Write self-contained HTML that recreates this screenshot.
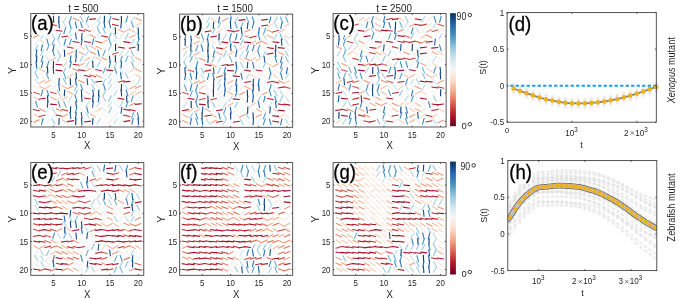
<!DOCTYPE html><html><head><meta charset="utf-8"><style>html,body{margin:0;padding:0;background:#fff;width:685px;height:298px;overflow:hidden}svg{display:block;filter:blur(0.35px)}</style></head><body><svg width="685" height="298" viewBox="0 0 685 298" font-family='"Liberation Sans", sans-serif' fill="#262626"><rect width="685" height="298" fill="#fff"/><g stroke-width="1.12" stroke-linecap="butt"><line x1="33.94" y1="21.32" x2="39.19" y2="16.84" stroke="#fae8de"/><line x1="44.03" y1="21.91" x2="39.68" y2="16.55" stroke="#deebf2"/><line x1="49.82" y1="21.82" x2="45.46" y2="16.46" stroke="#deebf2"/><line x1="53.70" y1="22.81" x2="53.43" y2="15.90" stroke="#0c3e74"/><line x1="58.69" y1="22.79" x2="58.99" y2="15.88" stroke="#0d3f76"/><line x1="62.93" y1="22.23" x2="66.68" y2="16.43" stroke="#bcdaea"/><line x1="69.19" y1="22.74" x2="71.41" y2="16.19" stroke="#4a97c5"/><line x1="79.11" y1="20.85" x2="72.82" y2="18.00" stroke="#eb9072"/><line x1="83.43" y1="22.17" x2="80.12" y2="16.10" stroke="#9ecbe1"/><line x1="86.39" y1="22.42" x2="88.59" y2="15.86" stroke="#4896c5"/><line x1="89.30" y1="19.42" x2="96.16" y2="18.75" stroke="#950f26"/><line x1="97.00" y1="22.29" x2="100.61" y2="16.39" stroke="#b2d5e7"/><line x1="104.29" y1="22.70" x2="104.46" y2="15.78" stroke="#0a396d"/><line x1="108.93" y1="22.78" x2="110.98" y2="16.17" stroke="#408fc1"/><line x1="119.01" y1="19.87" x2="112.27" y2="18.45" stroke="#bd2f36"/><line x1="121.52" y1="22.84" x2="121.33" y2="15.92" stroke="#0a396e"/><line x1="125.82" y1="22.33" x2="127.84" y2="15.72" stroke="#408ec1"/><line x1="130.81" y1="22.31" x2="134.66" y2="16.57" stroke="#c3deec"/><line x1="141.42" y1="20.72" x2="135.24" y2="17.66" stroke="#f29f7e"/><line x1="39.27" y1="27.24" x2="34.04" y2="22.73" stroke="#faeae0"/><line x1="44.38" y1="27.40" x2="39.81" y2="22.23" stroke="#e9f0f4"/><line x1="50.12" y1="27.69" x2="45.74" y2="22.35" stroke="#e0ecf3"/><line x1="56.93" y1="25.85" x2="50.27" y2="24.08" stroke="#c94741"/><line x1="59.41" y1="28.38" x2="58.78" y2="21.49" stroke="#154f8c"/><line x1="66.54" y1="27.61" x2="62.69" y2="21.87" stroke="#c2deec"/><line x1="71.08" y1="28.38" x2="69.21" y2="21.72" stroke="#3b88bd"/><line x1="76.73" y1="28.30" x2="75.28" y2="21.54" stroke="#2d76b4"/><line x1="82.43" y1="28.20" x2="80.44" y2="21.57" stroke="#3e8dc0"/><line x1="89.31" y1="27.69" x2="85.61" y2="21.85" stroke="#b8d8e9"/><line x1="90.20" y1="27.09" x2="95.31" y2="22.45" stroke="#f9eee8"/><line x1="97.06" y1="27.94" x2="100.30" y2="21.83" stroke="#99c9e0"/><line x1="105.02" y1="28.41" x2="103.98" y2="21.57" stroke="#2064aa"/><line x1="110.64" y1="28.05" x2="108.96" y2="21.34" stroke="#347fb9"/><line x1="118.72" y1="25.75" x2="111.97" y2="24.36" stroke="#bc2d35"/><line x1="120.79" y1="28.38" x2="121.37" y2="21.49" stroke="#144d89"/><line x1="128.85" y1="27.66" x2="124.45" y2="22.33" stroke="#e0ecf3"/><line x1="133.69" y1="28.01" x2="131.19" y2="21.57" stroke="#60a5cd"/><line x1="135.01" y1="26.62" x2="140.83" y2="22.91" stroke="#f9c5ab"/><line x1="38.97" y1="32.83" x2="33.78" y2="28.29" stroke="#faebe2"/><line x1="39.45" y1="33.27" x2="44.39" y2="28.44" stroke="#f8f5f3"/><line x1="49.93" y1="32.92" x2="45.09" y2="28.00" stroke="#f5f6f7"/><line x1="50.71" y1="32.96" x2="55.78" y2="28.27" stroke="#f9efea"/><line x1="62.44" y1="31.31" x2="55.63" y2="30.28" stroke="#ae172a"/><line x1="63.78" y1="34.06" x2="65.71" y2="27.42" stroke="#3c8abe"/><line x1="68.98" y1="33.44" x2="72.16" y2="27.30" stroke="#95c7df"/><line x1="78.19" y1="33.27" x2="73.72" y2="28.01" stroke="#e4eef3"/><line x1="85.13" y1="31.21" x2="78.37" y2="29.85" stroke="#bb2a34"/><line x1="90.81" y1="31.42" x2="84.18" y2="29.54" stroke="#cd4e44"/><line x1="95.64" y1="32.64" x2="90.30" y2="28.27" stroke="#fbe5d8"/><line x1="100.18" y1="33.98" x2="97.40" y2="27.65" stroke="#75b3d4"/><line x1="105.65" y1="33.64" x2="102.62" y2="27.42" stroke="#89c0db"/><line x1="112.28" y1="33.05" x2="107.02" y2="28.57" stroke="#fae8de"/><line x1="115.60" y1="34.25" x2="115.21" y2="27.34" stroke="#0f437c"/><line x1="124.29" y1="32.43" x2="118.22" y2="29.14" stroke="#f5ad8c"/><line x1="123.83" y1="32.12" x2="129.85" y2="28.75" stroke="#f6b293"/><line x1="135.24" y1="32.48" x2="129.31" y2="28.94" stroke="#f8bc9f"/><line x1="138.60" y1="34.27" x2="138.03" y2="27.38" stroke="#144c89"/><line x1="33.34" y1="37.67" x2="39.59" y2="34.77" stroke="#ed9475"/><line x1="40.35" y1="39.35" x2="44.05" y2="33.52" stroke="#b9d9e9"/><line x1="45.04" y1="38.26" x2="50.34" y2="33.84" stroke="#fbe7db"/><line x1="55.16" y1="39.25" x2="51.64" y2="33.31" stroke="#acd2e6"/><line x1="57.89" y1="39.47" x2="60.65" y2="33.13" stroke="#74b2d4"/><line x1="61.43" y1="37.07" x2="68.23" y2="35.97" stroke="#b2192b"/><line x1="68.43" y1="39.34" x2="72.31" y2="33.63" stroke="#c5dfed"/><line x1="76.38" y1="39.50" x2="75.44" y2="32.65" stroke="#1d5fa2"/><line x1="81.49" y1="39.77" x2="82.13" y2="32.88" stroke="#16508e"/><line x1="84.52" y1="38.57" x2="89.86" y2="34.20" stroke="#fbe5d8"/><line x1="96.03" y1="37.70" x2="89.82" y2="34.68" stroke="#f09c7b"/><line x1="100.73" y1="38.78" x2="96.31" y2="33.47" stroke="#e1edf3"/><line x1="107.87" y1="37.10" x2="101.12" y2="35.69" stroke="#bd2e35"/><line x1="108.40" y1="39.65" x2="111.07" y2="33.27" stroke="#6daed1"/><line x1="117.06" y1="39.05" x2="113.70" y2="33.01" stroke="#a2cde2"/><line x1="119.15" y1="39.20" x2="123.50" y2="33.84" stroke="#deebf2"/><line x1="125.15" y1="39.45" x2="128.38" y2="33.34" stroke="#99c8e0"/><line x1="129.51" y1="37.86" x2="135.64" y2="34.70" stroke="#f4a683"/><line x1="138.80" y1="39.59" x2="137.94" y2="32.73" stroke="#1b5b9d"/><line x1="34.40" y1="44.72" x2="38.89" y2="39.47" stroke="#e5eef4"/><line x1="45.11" y1="43.60" x2="39.31" y2="39.87" stroke="#fac7ae"/><line x1="48.61" y1="45.32" x2="46.73" y2="38.66" stroke="#3b88bd"/><line x1="51.79" y1="45.27" x2="54.56" y2="38.94" stroke="#75b3d4"/><line x1="60.80" y1="44.85" x2="56.86" y2="39.18" stroke="#c9e1ee"/><line x1="64.01" y1="45.46" x2="65.77" y2="38.77" stroke="#3783bb"/><line x1="69.30" y1="45.11" x2="71.59" y2="38.59" stroke="#509bc7"/><line x1="79.47" y1="42.53" x2="72.64" y2="41.57" stroke="#aa152a"/><line x1="81.15" y1="45.34" x2="82.21" y2="38.50" stroke="#2065ab"/><line x1="90.82" y1="42.54" x2="84.00" y2="41.48" stroke="#b0172b"/><line x1="92.02" y1="45.06" x2="93.80" y2="38.38" stroke="#3784bb"/><line x1="101.76" y1="42.88" x2="95.14" y2="40.94" stroke="#cf5347"/><line x1="101.17" y1="43.60" x2="107.11" y2="40.09" stroke="#f8ba9d"/><line x1="111.24" y1="45.28" x2="108.77" y2="38.82" stroke="#5da4cc"/><line x1="117.53" y1="44.76" x2="113.60" y2="39.08" stroke="#c9e1ee"/><line x1="118.90" y1="44.29" x2="123.81" y2="39.44" stroke="#f7f6f5"/><line x1="130.26" y1="42.61" x2="123.44" y2="41.61" stroke="#ac162a"/><line x1="130.98" y1="44.76" x2="134.44" y2="38.78" stroke="#a8d0e4"/><line x1="136.92" y1="45.05" x2="139.30" y2="38.56" stroke="#569fc9"/><line x1="34.95" y1="50.84" x2="38.15" y2="44.71" stroke="#97c7df"/><line x1="41.10" y1="51.16" x2="42.62" y2="44.42" stroke="#2f79b6"/><line x1="46.64" y1="50.82" x2="49.26" y2="44.43" stroke="#6aabd0"/><line x1="53.06" y1="51.03" x2="54.14" y2="44.19" stroke="#2166ac"/><line x1="56.53" y1="50.16" x2="61.21" y2="45.08" stroke="#edf2f5"/><line x1="62.45" y1="50.44" x2="66.83" y2="45.10" stroke="#dfecf3"/><line x1="73.65" y1="48.28" x2="66.89" y2="46.91" stroke="#bc2c34"/><line x1="78.66" y1="49.73" x2="73.46" y2="45.19" stroke="#faebe2"/><line x1="84.71" y1="49.55" x2="79.01" y2="45.66" stroke="#fbd0b9"/><line x1="88.60" y1="50.96" x2="85.52" y2="44.77" stroke="#8ec2dd"/><line x1="96.10" y1="49.54" x2="90.12" y2="46.11" stroke="#f7b597"/><line x1="101.75" y1="49.11" x2="95.60" y2="46.00" stroke="#f3a380"/><line x1="101.95" y1="49.88" x2="106.82" y2="44.99" stroke="#f7f7f7"/><line x1="108.24" y1="50.70" x2="111.60" y2="44.66" stroke="#a1cde2"/><line x1="115.63" y1="51.02" x2="115.48" y2="44.11" stroke="#09386b"/><line x1="124.77" y1="48.10" x2="117.96" y2="47.02" stroke="#b1182b"/><line x1="124.28" y1="49.81" x2="129.57" y2="45.38" stroke="#fae7dc"/><line x1="128.90" y1="48.39" x2="135.66" y2="47.05" stroke="#bb2933"/><line x1="138.07" y1="51.04" x2="138.47" y2="44.14" stroke="#0f447d"/><line x1="35.93" y1="56.49" x2="36.88" y2="49.64" stroke="#1e60a3"/><line x1="40.12" y1="56.08" x2="43.60" y2="50.11" stroke="#a9d1e5"/><line x1="45.32" y1="55.46" x2="50.47" y2="50.87" stroke="#f9ece5"/><line x1="54.42" y1="56.40" x2="52.48" y2="49.76" stroke="#3d8bbf"/><line x1="60.73" y1="56.55" x2="57.49" y2="50.44" stroke="#99c9e0"/><line x1="64.71" y1="56.71" x2="64.40" y2="49.80" stroke="#0d3f76"/><line x1="67.26" y1="54.60" x2="73.44" y2="51.55" stroke="#f19e7d"/><line x1="75.88" y1="56.55" x2="76.38" y2="49.65" stroke="#124984"/><line x1="84.78" y1="54.88" x2="78.63" y2="51.76" stroke="#f3a481"/><line x1="85.34" y1="56.07" x2="88.96" y2="50.18" stroke="#b2d5e7"/><line x1="96.16" y1="54.55" x2="89.92" y2="51.61" stroke="#ee9677"/><line x1="99.40" y1="56.52" x2="97.85" y2="49.78" stroke="#307ab6"/><line x1="102.84" y1="56.38" x2="105.37" y2="49.95" stroke="#62a7ce"/><line x1="107.38" y1="55.78" x2="112.33" y2="50.97" stroke="#f8f4f2"/><line x1="112.11" y1="54.35" x2="118.66" y2="52.19" stroke="#d6614e"/><line x1="119.29" y1="56.05" x2="123.10" y2="50.28" stroke="#c0dceb"/><line x1="124.76" y1="56.03" x2="128.69" y2="50.34" stroke="#c8e0ed"/><line x1="133.92" y1="56.46" x2="130.89" y2="50.24" stroke="#8ac0db"/><line x1="135.83" y1="55.44" x2="140.91" y2="50.76" stroke="#f9f0ea"/><line x1="36.59" y1="62.35" x2="36.78" y2="55.44" stroke="#0a396e"/><line x1="41.09" y1="62.10" x2="43.07" y2="55.47" stroke="#3e8cc0"/><line x1="49.62" y1="61.76" x2="45.68" y2="56.09" stroke="#c9e1ee"/><line x1="50.40" y1="60.76" x2="56.43" y2="57.41" stroke="#f6b191"/><line x1="57.25" y1="61.88" x2="60.60" y2="55.83" stroke="#a0cce2"/><line x1="67.29" y1="61.04" x2="62.02" y2="56.59" stroke="#fae8dc"/><line x1="70.02" y1="62.38" x2="70.99" y2="55.53" stroke="#1e60a4"/><line x1="75.48" y1="62.43" x2="76.39" y2="55.57" stroke="#1d5ea0"/><line x1="79.84" y1="61.79" x2="83.06" y2="55.67" stroke="#98c8e0"/><line x1="84.23" y1="60.87" x2="90.26" y2="57.53" stroke="#f6b191"/><line x1="90.88" y1="62.06" x2="94.72" y2="56.31" stroke="#c2ddec"/><line x1="101.45" y1="60.73" x2="95.57" y2="57.12" stroke="#f8c0a4"/><line x1="107.32" y1="60.27" x2="101.13" y2="57.24" stroke="#f19d7c"/><line x1="110.10" y1="62.64" x2="109.46" y2="55.76" stroke="#16508e"/><line x1="115.51" y1="62.17" x2="115.31" y2="55.26" stroke="#0a3a6f"/><line x1="120.03" y1="62.10" x2="122.32" y2="55.57" stroke="#4f9bc7"/><line x1="125.45" y1="61.91" x2="128.21" y2="55.57" stroke="#74b2d4"/><line x1="134.27" y1="61.90" x2="130.72" y2="55.98" stroke="#aed3e6"/><line x1="141.16" y1="60.47" x2="135.10" y2="57.19" stroke="#f5ad8c"/><line x1="36.71" y1="68.18" x2="35.91" y2="61.31" stroke="#1a5899"/><line x1="41.38" y1="67.78" x2="42.97" y2="61.05" stroke="#317cb7"/><line x1="46.76" y1="68.00" x2="48.77" y2="61.38" stroke="#3f8ec0"/><line x1="53.32" y1="67.89" x2="53.58" y2="60.98" stroke="#0c3d73"/><line x1="62.42" y1="64.95" x2="55.56" y2="64.28" stroke="#960f27"/><line x1="62.84" y1="67.65" x2="66.56" y2="61.83" stroke="#bad9e9"/><line x1="69.65" y1="67.94" x2="71.43" y2="61.25" stroke="#3783bb"/><line x1="79.55" y1="65.25" x2="72.72" y2="64.31" stroke="#a81529"/><line x1="78.59" y1="66.23" x2="84.65" y2="62.94" stroke="#f5ae8d"/><line x1="85.82" y1="67.48" x2="89.21" y2="61.46" stroke="#a4cee3"/><line x1="93.03" y1="67.96" x2="92.71" y2="61.05" stroke="#0d4077"/><line x1="96.86" y1="67.39" x2="100.27" y2="61.38" stroke="#a5cfe3"/><line x1="102.08" y1="67.24" x2="106.81" y2="62.21" stroke="#f0f4f6"/><line x1="109.14" y1="67.91" x2="110.66" y2="61.17" stroke="#2f79b6"/><line x1="113.75" y1="67.62" x2="117.28" y2="61.68" stroke="#add2e6"/><line x1="121.02" y1="68.19" x2="121.56" y2="61.30" stroke="#134b86"/><line x1="124.31" y1="67.35" x2="129.05" y2="62.33" stroke="#f1f4f6"/><line x1="134.02" y1="67.97" x2="131.31" y2="61.61" stroke="#70afd2"/><line x1="135.46" y1="66.81" x2="140.63" y2="62.23" stroke="#f9ece4"/><line x1="34.75" y1="73.21" x2="38.22" y2="67.23" stroke="#a8d0e4"/><line x1="45.06" y1="72.06" x2="39.13" y2="68.54" stroke="#f8bb9e"/><line x1="47.80" y1="73.52" x2="47.43" y2="66.62" stroke="#0f427b"/><line x1="53.82" y1="73.99" x2="53.12" y2="67.11" stroke="#175392"/><line x1="62.46" y1="70.90" x2="55.61" y2="70.15" stroke="#9b1127"/><line x1="62.91" y1="73.61" x2="66.11" y2="67.49" stroke="#97c7df"/><line x1="67.77" y1="72.68" x2="72.55" y2="67.69" stroke="#f2f5f6"/><line x1="78.97" y1="71.58" x2="72.74" y2="68.63" stroke="#ee9878"/><line x1="84.89" y1="70.61" x2="78.06" y2="69.69" stroke="#a71429"/><line x1="84.36" y1="71.74" x2="90.51" y2="68.62" stroke="#f4a481"/><line x1="90.59" y1="72.67" x2="95.35" y2="67.67" stroke="#f1f4f6"/><line x1="102.05" y1="70.81" x2="95.28" y2="69.52" stroke="#b92632"/><line x1="103.04" y1="73.50" x2="105.61" y2="67.09" stroke="#66a9cf"/><line x1="113.09" y1="70.68" x2="106.25" y2="69.84" stroke="#a21328"/><line x1="116.75" y1="73.77" x2="114.49" y2="67.23" stroke="#4d99c6"/><line x1="123.28" y1="73.29" x2="119.50" y2="67.50" stroke="#bedbeb"/><line x1="129.21" y1="73.03" x2="124.55" y2="67.94" stroke="#edf2f5"/><line x1="129.85" y1="72.05" x2="135.53" y2="68.14" stroke="#fbd1ba"/><line x1="141.29" y1="71.77" x2="135.18" y2="68.55" stroke="#f5a987"/><line x1="38.22" y1="78.93" x2="35.14" y2="72.74" stroke="#8ec2dc"/><line x1="44.58" y1="78.51" x2="39.53" y2="73.80" stroke="#f8f1ec"/><line x1="48.74" y1="79.20" x2="46.26" y2="72.75" stroke="#5ea4cc"/><line x1="50.80" y1="78.23" x2="55.78" y2="73.44" stroke="#f8f3f0"/><line x1="56.62" y1="78.39" x2="61.89" y2="73.92" stroke="#fae8dd"/><line x1="65.99" y1="79.09" x2="63.58" y2="72.61" stroke="#58a1ca"/><line x1="67.44" y1="77.72" x2="73.30" y2="74.07" stroke="#f9c2a7"/><line x1="76.34" y1="79.35" x2="76.06" y2="72.44" stroke="#0c3e74"/><line x1="84.06" y1="78.15" x2="78.85" y2="73.62" stroke="#faeae1"/><line x1="90.86" y1="76.69" x2="84.09" y2="75.41" stroke="#b92631"/><line x1="96.09" y1="76.85" x2="89.50" y2="74.80" stroke="#d3594a"/><line x1="101.73" y1="77.73" x2="95.54" y2="74.69" stroke="#f19e7c"/><line x1="102.09" y1="78.46" x2="106.77" y2="73.37" stroke="#edf2f5"/><line x1="107.84" y1="78.71" x2="111.52" y2="72.87" stroke="#b7d8e9"/><line x1="117.87" y1="78.35" x2="113.29" y2="73.18" stroke="#e9f0f4"/><line x1="121.41" y1="79.20" x2="120.51" y2="72.35" stroke="#1c5da0"/><line x1="128.36" y1="78.83" x2="125.14" y2="72.71" stroke="#98c8e0"/><line x1="130.29" y1="78.28" x2="135.19" y2="73.41" stroke="#f7f6f6"/><line x1="141.11" y1="78.08" x2="135.31" y2="74.35" stroke="#fac7ad"/><line x1="38.56" y1="84.29" x2="34.71" y2="78.56" stroke="#c3deec"/><line x1="39.23" y1="83.52" x2="45.15" y2="79.97" stroke="#f8bc9f"/><line x1="44.72" y1="83.19" x2="50.76" y2="79.86" stroke="#f6af8f"/><line x1="55.98" y1="84.00" x2="51.19" y2="79.03" stroke="#f3f5f6"/><line x1="58.80" y1="84.85" x2="59.26" y2="77.95" stroke="#114781"/><line x1="66.39" y1="84.54" x2="63.31" y2="78.35" stroke="#8ec3dd"/><line x1="70.50" y1="85.17" x2="70.30" y2="78.25" stroke="#0a3a6f"/><line x1="76.26" y1="85.29" x2="75.40" y2="78.43" stroke="#1b5b9d"/><line x1="84.57" y1="83.06" x2="78.28" y2="80.22" stroke="#eb8f71"/><line x1="87.81" y1="85.29" x2="87.03" y2="78.42" stroke="#195797"/><line x1="94.71" y1="84.52" x2="91.47" y2="78.41" stroke="#99c9e0"/><line x1="95.40" y1="82.00" x2="102.26" y2="81.31" stroke="#960f27"/><line x1="102.47" y1="84.84" x2="105.82" y2="78.80" stroke="#a0cce2"/><line x1="108.31" y1="84.39" x2="111.89" y2="78.48" stroke="#b0d4e7"/><line x1="113.22" y1="84.03" x2="117.87" y2="78.93" stroke="#ecf2f5"/><line x1="117.80" y1="82.29" x2="124.48" y2="80.59" stroke="#c7423f"/><line x1="123.32" y1="82.06" x2="130.18" y2="81.41" stroke="#940e26"/><line x1="129.69" y1="83.96" x2="135.01" y2="79.56" stroke="#fbe6da"/><line x1="136.47" y1="84.73" x2="140.19" y2="78.90" stroke="#b9d9e9"/><line x1="38.92" y1="89.62" x2="33.66" y2="85.14" stroke="#fae8de"/><line x1="45.05" y1="89.15" x2="39.09" y2="85.67" stroke="#f7b89b"/><line x1="45.00" y1="88.93" x2="50.86" y2="85.28" stroke="#f9c2a7"/><line x1="50.98" y1="89.61" x2="56.12" y2="85.00" stroke="#f9ede6"/><line x1="59.70" y1="90.80" x2="58.66" y2="83.96" stroke="#2064a9"/><line x1="67.59" y1="88.87" x2="61.59" y2="85.45" stroke="#f7b596"/><line x1="67.34" y1="88.67" x2="73.60" y2="85.78" stroke="#ec9374"/><line x1="74.57" y1="90.65" x2="77.60" y2="84.44" stroke="#8ac0db"/><line x1="82.76" y1="90.41" x2="80.54" y2="83.86" stroke="#4a98c5"/><line x1="89.86" y1="89.80" x2="85.20" y2="84.71" stroke="#edf2f5"/><line x1="94.81" y1="90.32" x2="91.54" y2="84.23" stroke="#9bcae1"/><line x1="101.45" y1="89.69" x2="96.23" y2="85.18" stroke="#faeae0"/><line x1="105.41" y1="90.49" x2="103.42" y2="83.86" stroke="#3f8dc0"/><line x1="108.11" y1="90.12" x2="111.90" y2="84.34" stroke="#bfdceb"/><line x1="113.20" y1="90.02" x2="117.90" y2="84.96" stroke="#eef3f5"/><line x1="121.23" y1="90.99" x2="121.60" y2="84.08" stroke="#0e427a"/><line x1="128.55" y1="90.09" x2="124.71" y2="84.35" stroke="#c2ddec"/><line x1="129.62" y1="89.08" x2="135.71" y2="85.84" stroke="#f5ab89"/><line x1="134.99" y1="88.59" x2="141.25" y2="85.70" stroke="#ec9475"/><line x1="39.97" y1="94.17" x2="33.36" y2="92.22" stroke="#cf5347"/><line x1="40.96" y1="96.31" x2="42.84" y2="89.65" stroke="#3b88bd"/><line x1="48.97" y1="96.45" x2="46.91" y2="89.85" stroke="#4190c1"/><line x1="56.60" y1="93.79" x2="49.96" y2="91.93" stroke="#cc4d44"/><line x1="60.43" y1="96.11" x2="57.18" y2="90.01" stroke="#9ac9e0"/><line x1="64.29" y1="96.40" x2="64.72" y2="89.50" stroke="#10457f"/><line x1="73.43" y1="94.56" x2="67.39" y2="91.22" stroke="#f6b090"/><line x1="74.45" y1="96.13" x2="77.58" y2="89.97" stroke="#91c5de"/><line x1="81.81" y1="96.39" x2="81.28" y2="89.49" stroke="#134b86"/><line x1="90.20" y1="94.59" x2="84.37" y2="90.89" stroke="#f9c5ab"/><line x1="93.65" y1="96.49" x2="92.75" y2="89.64" stroke="#1c5d9f"/><line x1="98.56" y1="96.53" x2="98.82" y2="89.61" stroke="#0c3d73"/><line x1="102.72" y1="96.19" x2="105.90" y2="90.05" stroke="#95c7df"/><line x1="107.22" y1="95.32" x2="112.19" y2="90.53" stroke="#f8f3f1"/><line x1="113.77" y1="96.12" x2="117.46" y2="90.28" stroke="#b7d8e9"/><line x1="121.61" y1="96.37" x2="121.12" y2="89.47" stroke="#124983"/><line x1="127.99" y1="96.14" x2="126.07" y2="89.50" stroke="#3c8abe"/><line x1="129.83" y1="94.78" x2="135.59" y2="90.99" stroke="#facab2"/><line x1="135.39" y1="94.68" x2="141.37" y2="91.24" stroke="#f7b698"/><line x1="39.59" y1="100.47" x2="33.76" y2="96.78" stroke="#f9c5aa"/><line x1="38.68" y1="99.26" x2="45.47" y2="98.10" stroke="#b51d2d"/><line x1="47.86" y1="102.09" x2="47.45" y2="95.18" stroke="#10457e"/><line x1="56.36" y1="100.10" x2="50.26" y2="96.87" stroke="#f5aa89"/><line x1="56.18" y1="100.36" x2="61.93" y2="96.55" stroke="#faccb4"/><line x1="61.72" y1="100.32" x2="67.60" y2="96.70" stroke="#f8c0a4"/><line x1="68.41" y1="101.44" x2="72.17" y2="95.64" stroke="#bcdaea"/><line x1="77.04" y1="101.97" x2="75.13" y2="95.32" stroke="#3c89be"/><line x1="82.10" y1="101.85" x2="81.49" y2="94.96" stroke="#154f8b"/><line x1="90.73" y1="99.07" x2="83.93" y2="97.97" stroke="#b2192b"/><line x1="92.69" y1="102.34" x2="92.89" y2="95.42" stroke="#0a3a6f"/><line x1="98.17" y1="102.08" x2="99.19" y2="95.24" stroke="#1f63a8"/><line x1="105.75" y1="101.56" x2="102.32" y2="95.55" stroke="#a6cfe4"/><line x1="108.46" y1="101.66" x2="111.50" y2="95.44" stroke="#8ac0db"/><line x1="118.00" y1="101.25" x2="113.05" y2="96.43" stroke="#f8f4f2"/><line x1="124.43" y1="99.42" x2="117.67" y2="98.09" stroke="#ba2833"/><line x1="126.90" y1="102.35" x2="126.55" y2="95.44" stroke="#0e4279"/><line x1="131.19" y1="101.94" x2="133.33" y2="95.37" stroke="#4494c3"/><line x1="135.99" y1="101.38" x2="140.41" y2="96.08" stroke="#e1edf3"/><line x1="37.54" y1="107.56" x2="35.52" y2="100.95" stroke="#408ec1"/><line x1="44.41" y1="106.59" x2="39.49" y2="101.75" stroke="#f7f5f4"/><line x1="47.29" y1="107.64" x2="47.95" y2="100.75" stroke="#16518f"/><line x1="56.93" y1="104.80" x2="50.08" y2="104.08" stroke="#991027"/><line x1="60.28" y1="107.53" x2="58.07" y2="100.97" stroke="#4997c5"/><line x1="66.23" y1="107.60" x2="63.62" y2="101.19" stroke="#68aad0"/><line x1="73.12" y1="106.57" x2="67.86" y2="102.10" stroke="#fae8dd"/><line x1="76.39" y1="107.77" x2="75.80" y2="100.88" stroke="#144d89"/><line x1="79.27" y1="106.76" x2="84.06" y2="101.78" stroke="#f2f5f6"/><line x1="85.58" y1="107.02" x2="89.31" y2="101.20" stroke="#bad9ea"/><line x1="92.45" y1="107.63" x2="93.48" y2="100.79" stroke="#2063a8"/><line x1="96.45" y1="107.29" x2="100.34" y2="101.58" stroke="#c5dfed"/><line x1="101.95" y1="106.91" x2="106.94" y2="102.13" stroke="#f8f3f0"/><line x1="107.80" y1="107.31" x2="111.72" y2="101.62" stroke="#c7e0ed"/><line x1="117.77" y1="106.94" x2="113.10" y2="101.85" stroke="#edf2f5"/><line x1="119.40" y1="107.09" x2="123.06" y2="101.24" stroke="#b6d7e8"/><line x1="125.88" y1="107.49" x2="128.14" y2="100.95" stroke="#4d99c6"/><line x1="129.23" y1="105.72" x2="135.50" y2="102.83" stroke="#ec9374"/><line x1="134.87" y1="104.41" x2="141.73" y2="103.76" stroke="#940e26"/><line x1="39.78" y1="110.72" x2="32.99" y2="109.50" stroke="#b7212f"/><line x1="45.40" y1="111.49" x2="39.15" y2="108.57" stroke="#ed9576"/><line x1="45.65" y1="112.61" x2="50.10" y2="107.33" stroke="#e3eef3"/><line x1="55.29" y1="113.01" x2="51.64" y2="107.14" stroke="#b5d7e8"/><line x1="62.30" y1="111.56" x2="56.06" y2="108.62" stroke="#ee9777"/><line x1="67.96" y1="110.89" x2="61.28" y2="109.19" stroke="#c7413f"/><line x1="70.41" y1="113.27" x2="70.66" y2="106.36" stroke="#0c3d73"/><line x1="75.13" y1="113.48" x2="77.10" y2="106.85" stroke="#3e8cbf"/><line x1="84.30" y1="112.34" x2="79.12" y2="107.77" stroke="#f9ece4"/><line x1="88.31" y1="113.34" x2="86.60" y2="106.63" stroke="#3581ba"/><line x1="95.42" y1="112.11" x2="90.39" y2="107.38" stroke="#f8f1ed"/><line x1="95.66" y1="111.62" x2="101.50" y2="107.94" stroke="#f9c4a9"/><line x1="106.53" y1="112.69" x2="102.12" y2="107.37" stroke="#e1edf3"/><line x1="108.62" y1="113.21" x2="111.66" y2="107.00" stroke="#8bc1dc"/><line x1="113.19" y1="112.49" x2="117.82" y2="107.37" stroke="#ebf1f5"/><line x1="120.99" y1="113.64" x2="121.90" y2="106.78" stroke="#1d5ea0"/><line x1="130.11" y1="110.36" x2="123.33" y2="109.14" stroke="#b7212f"/><line x1="135.65" y1="110.87" x2="128.89" y2="109.56" stroke="#ba2832"/><line x1="140.83" y1="112.44" x2="135.62" y2="107.91" stroke="#faeae1"/><line x1="39.57" y1="117.48" x2="33.79" y2="113.72" stroke="#fac9af"/><line x1="38.77" y1="116.67" x2="45.47" y2="115.01" stroke="#c53f3d"/><line x1="50.13" y1="118.36" x2="45.52" y2="113.21" stroke="#eaf1f5"/><line x1="50.87" y1="118.21" x2="55.44" y2="113.03" stroke="#e8f0f4"/><line x1="62.44" y1="116.21" x2="55.67" y2="114.89" stroke="#ba2833"/><line x1="61.84" y1="117.15" x2="67.94" y2="113.92" stroke="#f5aa88"/><line x1="70.85" y1="118.92" x2="69.92" y2="112.07" stroke="#1d5ea1"/><line x1="75.39" y1="119.20" x2="76.35" y2="112.35" stroke="#1e60a3"/><line x1="82.11" y1="118.89" x2="81.26" y2="112.02" stroke="#1b5a9b"/><line x1="89.35" y1="118.48" x2="85.63" y2="112.65" stroke="#b9d9e9"/><line x1="96.02" y1="117.20" x2="90.06" y2="113.72" stroke="#f7b89b"/><line x1="101.23" y1="118.00" x2="96.18" y2="113.29" stroke="#f8f1ec"/><line x1="106.67" y1="117.78" x2="101.62" y2="113.07" stroke="#f8f0eb"/><line x1="112.49" y1="117.96" x2="107.75" y2="112.94" stroke="#f0f4f6"/><line x1="113.16" y1="118.07" x2="117.62" y2="112.80" stroke="#e3eef3"/><line x1="119.06" y1="118.24" x2="123.64" y2="113.07" stroke="#e9f0f4"/><line x1="130.07" y1="116.54" x2="123.33" y2="115.08" stroke="#bf3137"/><line x1="131.29" y1="118.64" x2="133.87" y2="112.22" stroke="#66a9cf"/><line x1="138.88" y1="119.21" x2="137.37" y2="112.46" stroke="#2f78b5"/><line x1="33.21" y1="122.59" x2="39.44" y2="119.62" stroke="#ef9979"/><line x1="41.47" y1="124.89" x2="43.13" y2="118.17" stroke="#347fb9"/><line x1="45.21" y1="123.90" x2="50.29" y2="119.22" stroke="#f9efea"/><line x1="55.17" y1="124.54" x2="51.85" y2="118.47" stroke="#9ecbe1"/><line x1="58.82" y1="124.91" x2="59.28" y2="118.01" stroke="#114781"/><line x1="67.76" y1="123.14" x2="61.84" y2="119.59" stroke="#f8bc9f"/><line x1="67.14" y1="121.67" x2="73.95" y2="120.62" stroke="#b0172b"/><line x1="75.63" y1="124.98" x2="75.92" y2="118.07" stroke="#0d3e75"/><line x1="82.02" y1="124.95" x2="81.42" y2="118.06" stroke="#154e8b"/><line x1="84.08" y1="122.01" x2="90.91" y2="121.10" stroke="#a61429"/><line x1="92.49" y1="124.90" x2="93.00" y2="118.00" stroke="#124984"/><line x1="96.71" y1="124.41" x2="100.47" y2="118.61" stroke="#bcdbea"/><line x1="101.88" y1="123.85" x2="106.82" y2="119.02" stroke="#f8f5f3"/><line x1="107.24" y1="123.75" x2="112.55" y2="119.35" stroke="#fbe6da"/><line x1="113.84" y1="124.06" x2="117.55" y2="118.23" stroke="#b9d9e9"/><line x1="118.61" y1="123.82" x2="123.38" y2="118.82" stroke="#f2f4f6"/><line x1="123.52" y1="121.66" x2="130.34" y2="120.66" stroke="#ad162a"/><line x1="131.70" y1="124.74" x2="133.31" y2="118.02" stroke="#327cb7"/><line x1="138.67" y1="124.76" x2="137.99" y2="117.88" stroke="#175291"/></g><rect x="30.8" y="13.6" width="21.2" height="21.4" fill="#fff"/><rect x="30.8" y="13.6" width="113.0" height="113.40" fill="none" stroke="#3a3a3a" stroke-width="0.85"/><path d="M53.40 127.00v-1.3M53.40 13.60v1.3M30.80 36.28h1.3M143.80 36.28h-1.3" stroke="#3a3a3a" stroke-width="0.85"/><text transform="translate(53.40 137.90) scale(0.94 1.08)" font-size="8.4" text-anchor="middle" >5</text><text transform="translate(28.20 39.38) scale(0.94 1.08)" font-size="8.4" text-anchor="end" >5</text><path d="M81.65 127.00v-1.3M81.65 13.60v1.3M30.80 64.63h1.3M143.80 64.63h-1.3" stroke="#3a3a3a" stroke-width="0.85"/><text transform="translate(81.65 137.90) scale(0.94 1.08)" font-size="8.4" text-anchor="middle" >10</text><text transform="translate(28.20 67.73) scale(0.94 1.08)" font-size="8.4" text-anchor="end" >10</text><path d="M109.90 127.00v-1.3M109.90 13.60v1.3M30.80 92.98h1.3M143.80 92.98h-1.3" stroke="#3a3a3a" stroke-width="0.85"/><text transform="translate(109.90 137.90) scale(0.94 1.08)" font-size="8.4" text-anchor="middle" >15</text><text transform="translate(28.20 96.08) scale(0.94 1.08)" font-size="8.4" text-anchor="end" >15</text><path d="M138.15 127.00v-1.3M138.15 13.60v1.3M30.80 121.33h1.3M143.80 121.33h-1.3" stroke="#3a3a3a" stroke-width="0.85"/><text transform="translate(138.15 137.90) scale(0.94 1.08)" font-size="8.4" text-anchor="middle" >20</text><text transform="translate(28.20 124.43) scale(0.94 1.08)" font-size="8.4" text-anchor="end" >20</text><text transform="translate(87.30 149.20) scale(1.0 1.1)" font-size="9.6" text-anchor="middle" >X</text><text transform="translate(16.40,70.60) rotate(-90) scale(1.05 1.04)" font-size="10" text-anchor="middle">Y</text><text transform="translate(31.00 30.20) scale(0.93 1.0)" font-size="20" text-anchor="start" fill="#000" stroke="#000" stroke-width="0.3">(a)</text><text transform="translate(83.40 11.60) scale(1.0 1.1)" font-size="9.8" text-anchor="middle" >t = 500</text><g stroke-width="1.12" stroke-linecap="butt"><line x1="187.91" y1="21.94" x2="182.79" y2="17.31" stroke="#f9eee8"/><line x1="188.58" y1="22.45" x2="193.18" y2="17.31" stroke="#eaf1f5"/><line x1="198.64" y1="22.61" x2="194.18" y2="17.35" stroke="#e3eef3"/><line x1="199.77" y1="22.34" x2="204.34" y2="17.17" stroke="#e8f0f4"/><line x1="206.34" y1="22.91" x2="210.06" y2="17.10" stroke="#b9d9e9"/><line x1="216.66" y1="21.86" x2="210.95" y2="17.99" stroke="#fbd0b9"/><line x1="218.55" y1="23.37" x2="219.53" y2="16.54" stroke="#1f61a5"/><line x1="222.03" y1="21.20" x2="228.25" y2="18.22" stroke="#ef9a7a"/><line x1="230.26" y1="23.14" x2="231.20" y2="16.30" stroke="#1e5fa3"/><line x1="234.67" y1="22.74" x2="238.06" y2="16.73" stroke="#a3cee3"/><line x1="238.54" y1="20.35" x2="245.39" y2="19.63" stroke="#991027"/><line x1="249.03" y1="22.82" x2="246.24" y2="16.50" stroke="#76b3d4"/><line x1="254.17" y1="22.98" x2="252.15" y2="16.38" stroke="#3f8ec0"/><line x1="256.26" y1="22.05" x2="261.01" y2="17.05" stroke="#f1f4f6"/><line x1="261.04" y1="20.23" x2="267.88" y2="19.36" stroke="#a31329"/><line x1="269.26" y1="23.18" x2="270.97" y2="16.49" stroke="#3581ba"/><line x1="274.07" y1="22.83" x2="277.54" y2="16.86" stroke="#a8d0e4"/><line x1="282.91" y1="23.17" x2="280.36" y2="16.75" stroke="#63a7ce"/><line x1="288.16" y1="22.78" x2="285.47" y2="16.41" stroke="#6eaed2"/><line x1="187.92" y1="27.83" x2="183.11" y2="22.89" stroke="#f4f6f6"/><line x1="188.22" y1="27.59" x2="193.56" y2="23.23" stroke="#fbe5d8"/><line x1="194.17" y1="28.04" x2="199.07" y2="23.17" stroke="#f7f6f6"/><line x1="204.82" y1="27.64" x2="199.90" y2="22.80" stroke="#f7f6f5"/><line x1="206.55" y1="28.61" x2="209.76" y2="22.50" stroke="#97c8df"/><line x1="213.23" y1="28.68" x2="213.74" y2="21.79" stroke="#124a85"/><line x1="217.68" y1="28.46" x2="220.77" y2="22.28" stroke="#8ec3dd"/><line x1="222.49" y1="27.71" x2="227.42" y2="22.89" stroke="#f7f5f3"/><line x1="230.82" y1="29.08" x2="230.42" y2="22.18" stroke="#0f447c"/><line x1="237.32" y1="28.41" x2="234.92" y2="21.94" stroke="#58a0ca"/><line x1="240.45" y1="28.66" x2="243.20" y2="22.32" stroke="#73b1d3"/><line x1="247.26" y1="29.08" x2="247.98" y2="22.21" stroke="#185493"/><line x1="252.25" y1="28.61" x2="253.78" y2="21.87" stroke="#3079b6"/><line x1="261.09" y1="27.58" x2="256.15" y2="22.76" stroke="#f7f5f3"/><line x1="261.17" y1="25.97" x2="267.98" y2="24.94" stroke="#af172a"/><line x1="267.17" y1="27.55" x2="272.84" y2="23.62" stroke="#fcd3bd"/><line x1="277.73" y1="28.37" x2="274.11" y2="22.50" stroke="#b2d5e7"/><line x1="280.65" y1="28.90" x2="282.12" y2="22.16" stroke="#2d76b4"/><line x1="283.96" y1="27.22" x2="289.73" y2="23.44" stroke="#facab2"/><line x1="182.95" y1="33.75" x2="187.31" y2="28.39" stroke="#deebf2"/><line x1="193.17" y1="33.77" x2="188.44" y2="28.75" stroke="#f0f4f6"/><line x1="194.40" y1="33.53" x2="199.09" y2="28.47" stroke="#eef3f5"/><line x1="200.33" y1="33.53" x2="204.69" y2="28.18" stroke="#dfebf2"/><line x1="204.78" y1="31.89" x2="211.58" y2="30.75" stroke="#b41c2d"/><line x1="212.24" y1="33.98" x2="215.36" y2="27.83" stroke="#91c5de"/><line x1="216.49" y1="32.77" x2="222.19" y2="28.89" stroke="#fbd0b9"/><line x1="227.34" y1="33.20" x2="222.14" y2="28.67" stroke="#faebe2"/><line x1="234.05" y1="31.40" x2="227.22" y2="30.49" stroke="#a61429"/><line x1="232.65" y1="31.99" x2="239.35" y2="30.36" stroke="#c53d3d"/><line x1="241.93" y1="34.28" x2="241.32" y2="27.40" stroke="#154e8b"/><line x1="244.35" y1="32.33" x2="250.61" y2="29.44" stroke="#ec9475"/><line x1="250.73" y1="33.23" x2="255.93" y2="28.70" stroke="#faeae2"/><line x1="258.57" y1="34.30" x2="259.38" y2="27.44" stroke="#1a5899"/><line x1="263.40" y1="34.32" x2="265.80" y2="27.85" stroke="#58a0ca"/><line x1="273.29" y1="32.69" x2="267.08" y2="29.70" stroke="#f09b7a"/><line x1="272.54" y1="32.04" x2="279.19" y2="30.22" stroke="#cb4a43"/><line x1="278.57" y1="32.69" x2="284.51" y2="29.20" stroke="#f7b99c"/><line x1="289.23" y1="33.66" x2="284.55" y2="28.59" stroke="#eef3f5"/><line x1="184.67" y1="40.19" x2="186.21" y2="33.46" stroke="#3079b6"/><line x1="191.31" y1="40.33" x2="190.55" y2="33.47" stroke="#195695"/><line x1="199.89" y1="38.43" x2="193.79" y2="35.23" stroke="#f5a987"/><line x1="203.71" y1="40.00" x2="201.22" y2="33.56" stroke="#5ea4cc"/><line x1="207.00" y1="40.16" x2="208.86" y2="33.51" stroke="#3a87bd"/><line x1="210.34" y1="37.16" x2="217.14" y2="36.07" stroke="#b2182b"/><line x1="218.95" y1="40.14" x2="219.19" y2="33.24" stroke="#0b3c72"/><line x1="222.85" y1="39.83" x2="226.58" y2="34.02" stroke="#bad9e9"/><line x1="229.56" y1="39.85" x2="231.35" y2="33.18" stroke="#3884bb"/><line x1="235.47" y1="40.33" x2="237.07" y2="33.61" stroke="#327cb7"/><line x1="240.35" y1="40.04" x2="242.96" y2="33.65" stroke="#68aad0"/><line x1="250.82" y1="38.28" x2="244.52" y2="35.46" stroke="#ea8e70"/><line x1="250.02" y1="37.60" x2="256.71" y2="35.96" stroke="#c53e3d"/><line x1="259.96" y1="40.26" x2="258.00" y2="33.64" stroke="#3d8bbf"/><line x1="266.47" y1="39.77" x2="262.80" y2="33.93" stroke="#b6d8e8"/><line x1="273.28" y1="38.32" x2="267.23" y2="35.02" stroke="#f6ae8e"/><line x1="273.89" y1="39.62" x2="277.44" y2="33.71" stroke="#aed3e6"/><line x1="282.74" y1="40.08" x2="279.99" y2="33.75" stroke="#74b2d4"/><line x1="290.12" y1="38.91" x2="284.43" y2="35.00" stroke="#fbd2bb"/><line x1="185.07" y1="45.87" x2="185.31" y2="38.96" stroke="#0b3c71"/><line x1="190.64" y1="45.97" x2="191.60" y2="39.14" stroke="#1e60a4"/><line x1="193.57" y1="44.27" x2="199.63" y2="40.98" stroke="#f5ae8d"/><line x1="200.46" y1="45.40" x2="204.06" y2="39.52" stroke="#b1d5e7"/><line x1="208.46" y1="45.69" x2="207.61" y2="38.84" stroke="#1b5a9c"/><line x1="216.29" y1="44.45" x2="211.04" y2="39.98" stroke="#fae8de"/><line x1="221.06" y1="45.33" x2="217.74" y2="39.28" stroke="#9fcce2"/><line x1="228.33" y1="42.89" x2="221.51" y2="41.87" stroke="#ae172a"/><line x1="231.72" y1="45.58" x2="229.22" y2="39.15" stroke="#60a5cd"/><line x1="239.40" y1="42.78" x2="232.54" y2="42.03" stroke="#9b1127"/><line x1="240.15" y1="45.51" x2="243.33" y2="39.38" stroke="#96c7df"/><line x1="250.90" y1="42.65" x2="244.03" y2="42.02" stroke="#930e26"/><line x1="249.97" y1="44.16" x2="255.95" y2="40.72" stroke="#f7b698"/><line x1="255.75" y1="44.00" x2="262.01" y2="41.11" stroke="#ec9475"/><line x1="267.57" y1="44.16" x2="261.43" y2="41.02" stroke="#f4a582"/><line x1="267.87" y1="44.98" x2="272.37" y2="39.75" stroke="#e5eff4"/><line x1="279.25" y1="42.60" x2="272.42" y2="41.71" stroke="#a51429"/><line x1="281.92" y1="45.77" x2="281.35" y2="38.89" stroke="#144d89"/><line x1="288.96" y1="45.45" x2="285.24" y2="39.64" stroke="#bad9e9"/><line x1="182.57" y1="49.79" x2="188.53" y2="46.31" stroke="#f7b89b"/><line x1="190.75" y1="51.60" x2="190.95" y2="44.70" stroke="#0a3a6f"/><line x1="195.62" y1="51.45" x2="198.02" y2="44.98" stroke="#59a1ca"/><line x1="203.02" y1="51.64" x2="201.43" y2="44.92" stroke="#317cb7"/><line x1="207.85" y1="51.54" x2="208.15" y2="44.65" stroke="#0d3f76"/><line x1="215.65" y1="51.23" x2="212.04" y2="45.34" stroke="#b2d5e7"/><line x1="222.89" y1="48.65" x2="216.05" y2="47.78" stroke="#a31329"/><line x1="221.75" y1="49.94" x2="227.78" y2="46.60" stroke="#f6b191"/><line x1="231.04" y1="51.28" x2="230.39" y2="44.41" stroke="#16518e"/><line x1="237.50" y1="51.21" x2="234.42" y2="45.03" stroke="#8ec2dd"/><line x1="239.09" y1="49.86" x2="244.82" y2="46.03" stroke="#fbcdb5"/><line x1="246.45" y1="51.12" x2="248.62" y2="44.57" stroke="#4695c4"/><line x1="252.42" y1="51.43" x2="254.18" y2="44.75" stroke="#3783bb"/><line x1="257.52" y1="51.23" x2="259.89" y2="44.74" stroke="#559fc9"/><line x1="262.26" y1="50.75" x2="266.87" y2="45.61" stroke="#eaf1f5"/><line x1="273.73" y1="48.58" x2="266.92" y2="47.49" stroke="#b2192b"/><line x1="275.72" y1="51.73" x2="275.84" y2="44.83" stroke="#083669"/><line x1="284.78" y1="48.31" x2="277.91" y2="47.66" stroke="#930e26"/><line x1="289.09" y1="50.63" x2="284.74" y2="45.28" stroke="#deebf2"/><line x1="183.33" y1="56.62" x2="186.98" y2="50.77" stroke="#b5d7e8"/><line x1="189.67" y1="56.70" x2="192.23" y2="50.29" stroke="#64a8ce"/><line x1="193.60" y1="55.47" x2="199.65" y2="52.17" stroke="#f6af8e"/><line x1="204.36" y1="56.27" x2="199.98" y2="50.93" stroke="#dfecf3"/><line x1="208.17" y1="57.02" x2="207.80" y2="50.13" stroke="#0e427a"/><line x1="213.01" y1="57.30" x2="214.48" y2="50.55" stroke="#2e77b4"/><line x1="222.49" y1="55.26" x2="216.41" y2="52.02" stroke="#f5ab8a"/><line x1="223.56" y1="56.71" x2="226.71" y2="50.57" stroke="#93c5de"/><line x1="227.40" y1="55.41" x2="233.25" y2="51.76" stroke="#f9c3a8"/><line x1="235.67" y1="57.09" x2="236.63" y2="50.26" stroke="#1e60a4"/><line x1="239.96" y1="56.82" x2="243.65" y2="50.99" stroke="#b8d8e9"/><line x1="246.13" y1="57.18" x2="248.54" y2="50.71" stroke="#59a1ca"/><line x1="250.63" y1="55.71" x2="255.95" y2="51.32" stroke="#fbe6d9"/><line x1="259.93" y1="57.00" x2="257.65" y2="50.49" stroke="#4e9ac7"/><line x1="262.63" y1="56.97" x2="266.02" y2="50.96" stroke="#a3cee3"/><line x1="266.50" y1="54.22" x2="273.31" y2="53.16" stroke="#b1182b"/><line x1="275.93" y1="57.09" x2="275.11" y2="50.24" stroke="#1a599a"/><line x1="284.50" y1="55.20" x2="278.36" y2="52.07" stroke="#f4a582"/><line x1="288.48" y1="56.58" x2="285.18" y2="50.51" stroke="#9dcbe1"/><line x1="183.43" y1="62.25" x2="187.17" y2="56.45" stroke="#bbdaea"/><line x1="189.89" y1="62.41" x2="192.47" y2="56.00" stroke="#66a9cf"/><line x1="198.60" y1="62.32" x2="194.98" y2="56.44" stroke="#b3d6e7"/><line x1="205.43" y1="60.82" x2="199.16" y2="57.95" stroke="#ec9274"/><line x1="207.88" y1="62.92" x2="208.37" y2="56.03" stroke="#124883"/><line x1="211.79" y1="62.45" x2="214.97" y2="56.33" stroke="#95c7df"/><line x1="217.64" y1="62.47" x2="221.23" y2="56.58" stroke="#b1d5e7"/><line x1="227.07" y1="62.23" x2="222.63" y2="56.96" stroke="#e2edf3"/><line x1="232.15" y1="62.42" x2="229.36" y2="56.10" stroke="#77b4d5"/><line x1="238.49" y1="62.13" x2="233.98" y2="56.91" stroke="#e6eff4"/><line x1="244.52" y1="61.38" x2="238.87" y2="57.43" stroke="#fcd5bf"/><line x1="250.49" y1="60.65" x2="244.24" y2="57.75" stroke="#ed9475"/><line x1="250.26" y1="60.98" x2="256.10" y2="57.31" stroke="#f9c3a9"/><line x1="255.74" y1="61.18" x2="261.65" y2="57.63" stroke="#f8bda1"/><line x1="264.96" y1="62.80" x2="264.04" y2="55.96" stroke="#1d5ea1"/><line x1="272.53" y1="61.50" x2="267.37" y2="56.93" stroke="#f9ece4"/><line x1="276.76" y1="62.61" x2="274.81" y2="55.98" stroke="#3d8bbf"/><line x1="280.43" y1="62.98" x2="282.04" y2="56.26" stroke="#327cb7"/><line x1="288.49" y1="62.48" x2="285.35" y2="56.33" stroke="#93c5de"/><line x1="187.04" y1="68.29" x2="184.01" y2="62.09" stroke="#8ac0db"/><line x1="188.48" y1="67.45" x2="193.64" y2="62.86" stroke="#f9ece5"/><line x1="195.96" y1="68.59" x2="197.58" y2="61.88" stroke="#337db8"/><line x1="204.63" y1="67.41" x2="199.85" y2="62.44" stroke="#f2f5f6"/><line x1="211.45" y1="65.63" x2="204.64" y2="64.55" stroke="#b2182b"/><line x1="216.38" y1="66.97" x2="210.37" y2="63.58" stroke="#f6b394"/><line x1="221.46" y1="67.36" x2="216.60" y2="62.46" stroke="#f6f7f7"/><line x1="221.40" y1="65.55" x2="228.23" y2="64.57" stroke="#ab162a"/><line x1="226.98" y1="65.46" x2="233.82" y2="64.65" stroke="#9f1228"/><line x1="236.54" y1="68.39" x2="235.87" y2="61.52" stroke="#165290"/><line x1="243.81" y1="68.10" x2="240.35" y2="62.13" stroke="#a8d0e4"/><line x1="247.15" y1="68.56" x2="247.80" y2="61.68" stroke="#16508e"/><line x1="254.08" y1="68.65" x2="252.51" y2="61.92" stroke="#317bb7"/><line x1="256.64" y1="67.47" x2="261.16" y2="62.26" stroke="#e6eff4"/><line x1="262.86" y1="68.00" x2="266.08" y2="61.90" stroke="#98c8e0"/><line x1="272.94" y1="67.05" x2="267.22" y2="63.21" stroke="#fbceb7"/><line x1="272.75" y1="66.64" x2="278.85" y2="63.42" stroke="#f5a988"/><line x1="280.48" y1="68.54" x2="282.30" y2="61.88" stroke="#3985bc"/><line x1="284.70" y1="67.22" x2="289.81" y2="62.58" stroke="#f9eee8"/><line x1="185.30" y1="73.95" x2="184.92" y2="67.06" stroke="#0f437b"/><line x1="194.23" y1="71.85" x2="187.68" y2="69.72" stroke="#d6604d"/><line x1="196.96" y1="74.14" x2="195.93" y2="67.31" stroke="#2064a9"/><line x1="204.12" y1="73.80" x2="200.89" y2="67.69" stroke="#98c8e0"/><line x1="204.50" y1="71.34" x2="211.25" y2="69.91" stroke="#be3036"/><line x1="214.16" y1="74.12" x2="213.34" y2="67.26" stroke="#1a599a"/><line x1="217.58" y1="73.64" x2="220.66" y2="67.46" stroke="#8ec2dd"/><line x1="223.92" y1="73.84" x2="225.63" y2="67.15" stroke="#3581ba"/><line x1="234.06" y1="71.06" x2="227.19" y2="70.42" stroke="#930e26"/><line x1="235.19" y1="73.92" x2="237.01" y2="67.26" stroke="#3986bc"/><line x1="244.22" y1="73.16" x2="239.07" y2="68.57" stroke="#f9ede5"/><line x1="250.75" y1="71.11" x2="243.94" y2="70.01" stroke="#b3192c"/><line x1="255.87" y1="72.66" x2="250.57" y2="68.24" stroke="#fae7db"/><line x1="262.42" y1="71.05" x2="255.61" y2="70.03" stroke="#ae172a"/><line x1="262.06" y1="73.10" x2="267.10" y2="68.39" stroke="#f8f1ec"/><line x1="270.93" y1="74.06" x2="269.17" y2="67.38" stroke="#3783bb"/><line x1="278.38" y1="72.92" x2="273.26" y2="68.30" stroke="#f9eee7"/><line x1="280.11" y1="74.16" x2="282.65" y2="67.74" stroke="#63a7ce"/><line x1="286.40" y1="74.15" x2="287.47" y2="67.33" stroke="#2166ac"/><line x1="184.76" y1="79.99" x2="185.73" y2="73.15" stroke="#1e60a4"/><line x1="191.82" y1="79.56" x2="190.17" y2="72.86" stroke="#337eb8"/><line x1="196.11" y1="79.57" x2="196.70" y2="72.69" stroke="#144d8a"/><line x1="204.39" y1="79.30" x2="200.48" y2="73.61" stroke="#c7e0ed"/><line x1="207.30" y1="79.82" x2="209.05" y2="73.14" stroke="#3783bb"/><line x1="214.38" y1="79.78" x2="212.59" y2="73.11" stroke="#3885bc"/><line x1="216.14" y1="77.47" x2="222.76" y2="75.55" stroke="#ce5146"/><line x1="224.79" y1="79.65" x2="225.03" y2="72.75" stroke="#0b3c71"/><line x1="228.02" y1="79.03" x2="232.94" y2="74.19" stroke="#f7f5f4"/><line x1="239.75" y1="76.48" x2="232.89" y2="75.88" stroke="#910d26"/><line x1="242.40" y1="79.67" x2="240.95" y2="72.92" stroke="#2d75b4"/><line x1="245.71" y1="79.34" x2="249.42" y2="73.52" stroke="#b9d9e9"/><line x1="256.16" y1="78.15" x2="250.51" y2="74.19" stroke="#fcd5bf"/><line x1="256.20" y1="78.74" x2="261.42" y2="74.24" stroke="#faeae0"/><line x1="266.99" y1="78.40" x2="261.83" y2="73.83" stroke="#f9ece4"/><line x1="268.83" y1="79.62" x2="270.95" y2="73.04" stroke="#4392c3"/><line x1="278.46" y1="78.12" x2="272.69" y2="74.35" stroke="#facab1"/><line x1="282.40" y1="79.90" x2="280.74" y2="73.20" stroke="#337eb8"/><line x1="285.31" y1="79.10" x2="289.14" y2="73.36" stroke="#c1ddec"/><line x1="183.26" y1="84.80" x2="187.70" y2="79.52" stroke="#e3edf3"/><line x1="192.48" y1="84.82" x2="189.12" y2="78.79" stroke="#a1cde2"/><line x1="193.67" y1="83.79" x2="199.85" y2="80.73" stroke="#f2a07e"/><line x1="199.16" y1="83.48" x2="205.42" y2="80.60" stroke="#ec9374"/><line x1="205.80" y1="84.25" x2="210.60" y2="79.29" stroke="#f3f5f6"/><line x1="213.41" y1="85.42" x2="213.98" y2="78.54" stroke="#144c88"/><line x1="217.25" y1="84.90" x2="221.03" y2="79.12" stroke="#bedbea"/><line x1="224.34" y1="85.37" x2="225.21" y2="78.52" stroke="#1c5c9e"/><line x1="227.35" y1="83.69" x2="233.34" y2="80.26" stroke="#f7b597"/><line x1="235.75" y1="85.63" x2="236.52" y2="78.77" stroke="#195797"/><line x1="244.10" y1="84.37" x2="239.51" y2="79.22" stroke="#e9f0f4"/><line x1="244.32" y1="82.52" x2="251.14" y2="81.55" stroke="#aa152a"/><line x1="252.99" y1="85.68" x2="253.54" y2="78.80" stroke="#134b87"/><line x1="258.22" y1="85.31" x2="259.24" y2="78.48" stroke="#1f63a7"/><line x1="261.90" y1="84.56" x2="266.65" y2="79.55" stroke="#f1f4f6"/><line x1="266.84" y1="82.43" x2="273.61" y2="81.18" stroke="#b82430"/><line x1="279.16" y1="82.90" x2="272.41" y2="81.51" stroke="#bd2d35"/><line x1="284.75" y1="83.39" x2="278.52" y2="80.43" stroke="#ef9878"/><line x1="284.11" y1="84.09" x2="289.83" y2="80.24" stroke="#fbceb7"/><line x1="186.71" y1="91.16" x2="184.39" y2="84.66" stroke="#529cc8"/><line x1="190.10" y1="91.19" x2="191.72" y2="84.48" stroke="#327db8"/><line x1="195.58" y1="90.81" x2="197.67" y2="84.23" stroke="#4291c2"/><line x1="199.21" y1="89.42" x2="204.91" y2="85.54" stroke="#fbd0b9"/><line x1="210.36" y1="90.25" x2="205.46" y2="85.40" stroke="#f7f6f5"/><line x1="213.36" y1="91.31" x2="213.81" y2="84.42" stroke="#114781"/><line x1="217.47" y1="90.53" x2="220.70" y2="84.43" stroke="#98c8e0"/><line x1="225.35" y1="91.11" x2="224.59" y2="84.24" stroke="#195696"/><line x1="228.58" y1="90.74" x2="232.32" y2="84.94" stroke="#bbdaea"/><line x1="236.12" y1="91.34" x2="236.78" y2="84.46" stroke="#16518f"/><line x1="239.41" y1="89.90" x2="244.71" y2="85.49" stroke="#fbe7db"/><line x1="250.79" y1="89.26" x2="244.66" y2="86.12" stroke="#f4a683"/><line x1="253.15" y1="91.16" x2="253.39" y2="84.26" stroke="#0b3c71"/><line x1="259.10" y1="91.26" x2="258.65" y2="84.37" stroke="#114680"/><line x1="267.00" y1="90.17" x2="262.38" y2="85.04" stroke="#eaf1f5"/><line x1="269.35" y1="90.80" x2="271.28" y2="84.17" stroke="#3c8abe"/><line x1="277.89" y1="90.29" x2="273.37" y2="85.07" stroke="#e6eff4"/><line x1="277.83" y1="88.06" x2="284.62" y2="86.86" stroke="#b6202f"/><line x1="290.49" y1="88.49" x2="283.84" y2="86.65" stroke="#cc4b43"/><line x1="188.85" y1="94.35" x2="182.30" y2="92.21" stroke="#d6604d"/><line x1="189.96" y1="96.77" x2="192.47" y2="90.34" stroke="#61a6cd"/><line x1="197.81" y1="96.40" x2="195.48" y2="89.89" stroke="#529cc8"/><line x1="205.76" y1="94.16" x2="199.07" y2="92.51" stroke="#c53f3d"/><line x1="205.65" y1="95.51" x2="210.73" y2="90.84" stroke="#f9efea"/><line x1="213.50" y1="96.66" x2="213.32" y2="89.76" stroke="#0a396d"/><line x1="216.49" y1="95.50" x2="221.84" y2="91.14" stroke="#fbe5d8"/><line x1="224.16" y1="96.68" x2="225.21" y2="89.86" stroke="#2065aa"/><line x1="233.29" y1="94.92" x2="227.33" y2="91.45" stroke="#f7b89a"/><line x1="235.50" y1="96.60" x2="237.17" y2="89.90" stroke="#347fb9"/><line x1="238.88" y1="94.92" x2="245.09" y2="91.92" stroke="#f09b7a"/><line x1="247.53" y1="96.72" x2="247.25" y2="89.82" stroke="#0c3e74"/><line x1="253.38" y1="96.63" x2="252.43" y2="89.79" stroke="#1e60a3"/><line x1="256.00" y1="95.63" x2="261.27" y2="91.19" stroke="#fae8dd"/><line x1="261.46" y1="95.09" x2="267.61" y2="91.98" stroke="#f3a380"/><line x1="271.25" y1="96.38" x2="269.16" y2="89.80" stroke="#4291c2"/><line x1="277.30" y1="96.15" x2="274.00" y2="90.09" stroke="#9dcbe1"/><line x1="283.43" y1="96.08" x2="279.80" y2="90.20" stroke="#b3d6e7"/><line x1="289.30" y1="95.88" x2="284.32" y2="91.10" stroke="#f8f3f0"/><line x1="187.83" y1="101.13" x2="182.55" y2="96.69" stroke="#fae7dc"/><line x1="194.36" y1="99.36" x2="187.55" y2="98.28" stroke="#b2182b"/><line x1="195.77" y1="102.25" x2="197.80" y2="95.65" stroke="#408fc1"/><line x1="198.87" y1="100.05" x2="205.54" y2="98.30" stroke="#c94641"/><line x1="208.20" y1="102.36" x2="207.82" y2="95.47" stroke="#0f437b"/><line x1="210.21" y1="99.95" x2="216.89" y2="98.28" stroke="#c6413e"/><line x1="217.18" y1="101.50" x2="221.61" y2="96.21" stroke="#e2edf3"/><line x1="227.48" y1="101.54" x2="222.49" y2="96.78" stroke="#f8f3f0"/><line x1="228.72" y1="101.71" x2="232.32" y2="95.82" stroke="#b1d5e7"/><line x1="239.76" y1="99.52" x2="232.89" y2="98.88" stroke="#930e26"/><line x1="244.67" y1="101.29" x2="239.39" y2="96.85" stroke="#fae8dc"/><line x1="247.23" y1="102.62" x2="247.76" y2="95.73" stroke="#134a85"/><line x1="252.51" y1="102.62" x2="253.40" y2="95.77" stroke="#1c5c9f"/><line x1="257.39" y1="102.06" x2="260.68" y2="95.99" stroke="#9dcae1"/><line x1="263.55" y1="102.48" x2="265.13" y2="95.76" stroke="#317bb7"/><line x1="273.56" y1="99.60" x2="266.81" y2="98.21" stroke="#bc2d35"/><line x1="276.66" y1="102.34" x2="274.64" y2="95.74" stroke="#3f8ec1"/><line x1="279.62" y1="102.01" x2="282.70" y2="95.84" stroke="#8ec2dd"/><line x1="289.08" y1="101.91" x2="285.20" y2="96.21" stroke="#c5dfed"/><line x1="183.63" y1="107.43" x2="187.52" y2="101.73" stroke="#c6dfed"/><line x1="191.26" y1="107.93" x2="191.11" y2="101.03" stroke="#09386c"/><line x1="197.71" y1="107.70" x2="195.53" y2="101.15" stroke="#4695c4"/><line x1="205.79" y1="104.93" x2="198.94" y2="104.11" stroke="#a01228"/><line x1="208.37" y1="108.28" x2="207.77" y2="101.40" stroke="#154e8b"/><line x1="215.16" y1="107.86" x2="212.02" y2="101.71" stroke="#93c5de"/><line x1="216.46" y1="107.11" x2="221.68" y2="102.61" stroke="#faeae0"/><line x1="222.97" y1="107.60" x2="226.76" y2="101.83" stroke="#bfdceb"/><line x1="227.55" y1="106.12" x2="233.60" y2="102.81" stroke="#f6af8e"/><line x1="234.71" y1="107.87" x2="237.77" y2="101.68" stroke="#8dc2dc"/><line x1="244.27" y1="107.19" x2="239.40" y2="102.31" stroke="#f7f7f7"/><line x1="249.69" y1="107.56" x2="245.27" y2="102.25" stroke="#e1edf3"/><line x1="250.10" y1="106.51" x2="255.90" y2="102.77" stroke="#fac8ae"/><line x1="259.73" y1="108.09" x2="258.24" y2="101.35" stroke="#2e77b5"/><line x1="261.97" y1="106.87" x2="266.87" y2="102.01" stroke="#f7f6f6"/><line x1="268.35" y1="107.38" x2="272.23" y2="101.67" stroke="#c5dfed"/><line x1="276.35" y1="108.09" x2="275.41" y2="101.25" stroke="#1d5fa2"/><line x1="284.60" y1="105.00" x2="277.81" y2="103.84" stroke="#b51e2e"/><line x1="290.28" y1="105.13" x2="283.46" y2="104.14" stroke="#ac162a"/><line x1="181.95" y1="110.73" x2="188.76" y2="109.65" stroke="#b2182b"/><line x1="187.99" y1="111.92" x2="193.81" y2="108.22" stroke="#f9c5ab"/><line x1="193.74" y1="112.14" x2="199.75" y2="108.76" stroke="#f6b394"/><line x1="202.02" y1="113.51" x2="202.98" y2="106.67" stroke="#1e60a4"/><line x1="210.79" y1="111.96" x2="204.78" y2="108.58" stroke="#f6b394"/><line x1="216.27" y1="112.56" x2="211.37" y2="107.70" stroke="#f7f6f6"/><line x1="215.97" y1="110.74" x2="222.78" y2="109.67" stroke="#b1182b"/><line x1="223.69" y1="113.66" x2="226.04" y2="107.16" stroke="#549ec9"/><line x1="231.27" y1="113.60" x2="230.24" y2="106.77" stroke="#2064a9"/><line x1="233.39" y1="112.61" x2="238.60" y2="108.09" stroke="#faeae1"/><line x1="239.70" y1="112.83" x2="244.41" y2="107.79" stroke="#eff3f6"/><line x1="247.59" y1="113.72" x2="247.88" y2="106.82" stroke="#0d3f75"/><line x1="255.67" y1="112.56" x2="250.48" y2="108.01" stroke="#faebe2"/><line x1="261.91" y1="112.20" x2="255.95" y2="108.72" stroke="#f7b89b"/><line x1="267.06" y1="112.65" x2="261.78" y2="108.21" stroke="#fae8dc"/><line x1="269.78" y1="113.52" x2="270.40" y2="106.64" stroke="#154f8c"/><line x1="278.68" y1="112.35" x2="272.82" y2="108.71" stroke="#f9c1a6"/><line x1="284.71" y1="110.88" x2="277.84" y2="110.26" stroke="#920e26"/><line x1="284.41" y1="112.81" x2="289.58" y2="108.25" stroke="#f9ece4"/><line x1="188.27" y1="117.55" x2="182.24" y2="114.20" stroke="#f6b191"/><line x1="189.47" y1="119.06" x2="192.72" y2="112.97" stroke="#9ac9e0"/><line x1="197.88" y1="119.34" x2="195.67" y2="112.80" stroke="#4997c5"/><line x1="201.99" y1="119.27" x2="202.24" y2="112.36" stroke="#0c3d72"/><line x1="204.47" y1="116.26" x2="211.29" y2="115.23" stroke="#ae172a"/><line x1="216.67" y1="117.37" x2="210.60" y2="114.11" stroke="#f5ac8b"/><line x1="220.30" y1="119.38" x2="218.65" y2="112.67" stroke="#337eb8"/><line x1="226.29" y1="119.10" x2="223.16" y2="112.95" stroke="#92c5de"/><line x1="230.74" y1="119.54" x2="230.53" y2="112.64" stroke="#0b3b70"/><line x1="233.67" y1="118.26" x2="238.66" y2="113.49" stroke="#f8f3f0"/><line x1="238.93" y1="117.52" x2="245.17" y2="114.59" stroke="#ee9677"/><line x1="248.92" y1="118.84" x2="245.68" y2="112.75" stroke="#9ac9e0"/><line x1="253.30" y1="119.34" x2="253.02" y2="112.44" stroke="#0c3e74"/><line x1="255.64" y1="117.28" x2="261.80" y2="114.19" stroke="#f2a17f"/><line x1="263.15" y1="119.20" x2="265.65" y2="112.76" stroke="#60a5cd"/><line x1="267.45" y1="118.21" x2="272.39" y2="113.39" stroke="#f7f5f3"/><line x1="279.00" y1="116.39" x2="272.13" y2="115.77" stroke="#910e26"/><line x1="278.49" y1="118.10" x2="284.19" y2="114.23" stroke="#fbd0b8"/><line x1="289.94" y1="118.36" x2="284.61" y2="113.99" stroke="#fbe5d9"/><line x1="188.43" y1="123.26" x2="182.23" y2="120.25" stroke="#f09c7b"/><line x1="190.11" y1="124.78" x2="191.57" y2="118.03" stroke="#2d76b4"/><line x1="197.83" y1="124.73" x2="195.66" y2="118.17" stroke="#4695c4"/><line x1="202.78" y1="124.88" x2="201.80" y2="118.04" stroke="#1e61a5"/><line x1="210.03" y1="124.70" x2="206.32" y2="118.88" stroke="#b9d9e9"/><line x1="210.55" y1="123.21" x2="216.62" y2="119.93" stroke="#f5ad8c"/><line x1="216.02" y1="122.28" x2="222.82" y2="121.20" stroke="#b2182b"/><line x1="222.95" y1="124.80" x2="226.49" y2="118.87" stroke="#add3e6"/><line x1="232.86" y1="124.09" x2="228.33" y2="118.89" stroke="#e7eff4"/><line x1="232.97" y1="122.19" x2="239.79" y2="121.20" stroke="#ac162a"/><line x1="243.46" y1="124.85" x2="239.94" y2="118.91" stroke="#acd2e5"/><line x1="250.01" y1="123.79" x2="244.99" y2="119.06" stroke="#f8f1ed"/><line x1="252.91" y1="125.26" x2="253.60" y2="118.39" stroke="#175391"/><line x1="256.56" y1="124.08" x2="261.22" y2="118.99" stroke="#edf2f5"/><line x1="263.18" y1="124.99" x2="265.44" y2="118.47" stroke="#4d99c6"/><line x1="271.07" y1="125.16" x2="269.15" y2="118.53" stroke="#3c8abe"/><line x1="278.96" y1="122.12" x2="272.17" y2="120.95" stroke="#b51e2e"/><line x1="280.49" y1="125.25" x2="281.99" y2="118.51" stroke="#2f78b5"/><line x1="288.77" y1="124.49" x2="285.06" y2="118.68" stroke="#b9d9e9"/></g><rect x="179.7" y="14.1" width="21.2" height="21.4" fill="#fff"/><rect x="179.7" y="14.1" width="113.0" height="113.20" fill="none" stroke="#3a3a3a" stroke-width="0.85"/><path d="M202.30 127.30v-1.3M202.30 14.10v1.3M179.70 36.74h1.3M292.70 36.74h-1.3" stroke="#3a3a3a" stroke-width="0.85"/><text transform="translate(202.30 138.20) scale(0.94 1.08)" font-size="8.4" text-anchor="middle" >5</text><text transform="translate(177.10 39.84) scale(0.94 1.08)" font-size="8.4" text-anchor="end" >5</text><path d="M230.55 127.30v-1.3M230.55 14.10v1.3M179.70 65.04h1.3M292.70 65.04h-1.3" stroke="#3a3a3a" stroke-width="0.85"/><text transform="translate(230.55 138.20) scale(0.94 1.08)" font-size="8.4" text-anchor="middle" >10</text><text transform="translate(177.10 68.14) scale(0.94 1.08)" font-size="8.4" text-anchor="end" >10</text><path d="M258.80 127.30v-1.3M258.80 14.10v1.3M179.70 93.34h1.3M292.70 93.34h-1.3" stroke="#3a3a3a" stroke-width="0.85"/><text transform="translate(258.80 138.20) scale(0.94 1.08)" font-size="8.4" text-anchor="middle" >15</text><text transform="translate(177.10 96.44) scale(0.94 1.08)" font-size="8.4" text-anchor="end" >15</text><path d="M287.05 127.30v-1.3M287.05 14.10v1.3M179.70 121.64h1.3M292.70 121.64h-1.3" stroke="#3a3a3a" stroke-width="0.85"/><text transform="translate(287.05 138.20) scale(0.94 1.08)" font-size="8.4" text-anchor="middle" >20</text><text transform="translate(177.10 124.74) scale(0.94 1.08)" font-size="8.4" text-anchor="end" >20</text><text transform="translate(236.20 149.50) scale(1.0 1.1)" font-size="9.6" text-anchor="middle" >X</text><text transform="translate(165.30,71.00) rotate(-90) scale(1.05 1.04)" font-size="10" text-anchor="middle">Y</text><text transform="translate(179.90 30.70) scale(0.93 1.0)" font-size="20" text-anchor="start" fill="#000" stroke="#000" stroke-width="0.3">(b)</text><text transform="translate(235.10 11.60) scale(1.0 1.1)" font-size="9.8" text-anchor="middle" >t = 1500</text><g stroke-width="1.12" stroke-linecap="butt"><line x1="336.40" y1="21.87" x2="341.19" y2="16.89" stroke="#f3f5f6"/><line x1="347.06" y1="21.74" x2="342.02" y2="17.03" stroke="#f8f1ec"/><line x1="347.61" y1="21.97" x2="352.12" y2="16.73" stroke="#e5eff4"/><line x1="352.91" y1="21.30" x2="358.12" y2="16.76" stroke="#faeae1"/><line x1="358.65" y1="21.00" x2="364.46" y2="17.28" stroke="#f9c6ac"/><line x1="364.09" y1="21.36" x2="369.89" y2="17.61" stroke="#fac7ae"/><line x1="371.36" y1="22.47" x2="373.46" y2="15.88" stroke="#4291c2"/><line x1="381.18" y1="21.29" x2="375.53" y2="17.33" stroke="#fcd5bf"/><line x1="383.37" y1="22.49" x2="384.98" y2="15.77" stroke="#327cb7"/><line x1="386.05" y1="19.74" x2="392.79" y2="18.30" stroke="#be3036"/><line x1="392.06" y1="19.62" x2="398.88" y2="18.59" stroke="#ae172a"/><line x1="403.72" y1="21.00" x2="397.98" y2="17.16" stroke="#fbcdb5"/><line x1="408.23" y1="22.31" x2="405.00" y2="16.20" stroke="#99c8e0"/><line x1="414.41" y1="21.57" x2="409.49" y2="16.73" stroke="#f7f5f4"/><line x1="421.49" y1="19.87" x2="414.69" y2="18.72" stroke="#b41c2d"/><line x1="421.61" y1="22.11" x2="425.19" y2="16.20" stroke="#b0d4e7"/><line x1="426.58" y1="21.44" x2="431.83" y2="16.96" stroke="#fae9de"/><line x1="436.03" y1="22.49" x2="433.95" y2="15.89" stroke="#4191c2"/><line x1="439.46" y1="22.76" x2="441.26" y2="16.08" stroke="#3885bc"/><line x1="340.84" y1="27.44" x2="336.45" y2="22.11" stroke="#e0ecf3"/><line x1="347.04" y1="27.58" x2="342.17" y2="22.69" stroke="#f7f7f7"/><line x1="347.89" y1="27.61" x2="352.68" y2="22.64" stroke="#f3f5f6"/><line x1="352.12" y1="25.72" x2="358.80" y2="24.00" stroke="#c8433f"/><line x1="363.37" y1="27.66" x2="359.02" y2="22.29" stroke="#deebf2"/><line x1="366.13" y1="28.07" x2="367.96" y2="21.41" stroke="#3986bc"/><line x1="373.25" y1="28.10" x2="371.80" y2="21.34" stroke="#2d76b4"/><line x1="381.07" y1="26.89" x2="375.14" y2="23.35" stroke="#f8bc9f"/><line x1="383.38" y1="28.07" x2="384.92" y2="21.33" stroke="#3079b6"/><line x1="390.64" y1="28.42" x2="388.77" y2="21.76" stroke="#3b88bd"/><line x1="395.37" y1="28.58" x2="395.62" y2="21.67" stroke="#0c3d73"/><line x1="402.28" y1="27.89" x2="399.65" y2="21.50" stroke="#6aabd0"/><line x1="404.49" y1="27.69" x2="408.35" y2="21.96" stroke="#c3deec"/><line x1="409.23" y1="26.80" x2="415.33" y2="23.56" stroke="#f5aa89"/><line x1="421.45" y1="25.19" x2="414.60" y2="24.45" stroke="#9a1027"/><line x1="420.33" y1="25.64" x2="427.04" y2="24.07" stroke="#c3393b"/><line x1="426.35" y1="27.34" x2="431.70" y2="22.99" stroke="#fbe4d7"/><line x1="433.02" y1="28.07" x2="436.62" y2="22.17" stroke="#b1d5e7"/><line x1="443.95" y1="26.13" x2="437.42" y2="23.92" stroke="#d86551"/><line x1="336.26" y1="32.77" x2="341.50" y2="28.27" stroke="#fae9df"/><line x1="342.38" y1="33.15" x2="346.74" y2="27.79" stroke="#deebf2"/><line x1="352.76" y1="32.87" x2="347.72" y2="28.15" stroke="#f8f1ec"/><line x1="353.38" y1="33.07" x2="358.02" y2="27.95" stroke="#ecf2f5"/><line x1="364.61" y1="31.19" x2="357.76" y2="30.43" stroke="#9c1127"/><line x1="363.97" y1="32.33" x2="369.92" y2="28.84" stroke="#f7b99b"/><line x1="374.23" y1="33.40" x2="370.79" y2="27.41" stroke="#a6cfe4"/><line x1="381.26" y1="32.03" x2="375.00" y2="29.14" stroke="#ec9374"/><line x1="387.58" y1="30.83" x2="380.72" y2="30.18" stroke="#940e26"/><line x1="392.78" y1="31.29" x2="386.02" y2="29.93" stroke="#bc2b34"/><line x1="394.77" y1="34.06" x2="395.44" y2="27.17" stroke="#16518f"/><line x1="397.56" y1="32.08" x2="403.80" y2="29.16" stroke="#ed9576"/><line x1="404.50" y1="33.15" x2="408.93" y2="27.85" stroke="#e2edf3"/><line x1="411.15" y1="33.99" x2="413.13" y2="27.36" stroke="#3e8cc0"/><line x1="419.58" y1="33.51" x2="415.82" y2="27.72" stroke="#bddbea"/><line x1="421.33" y1="33.09" x2="425.85" y2="27.86" stroke="#e6eff4"/><line x1="426.13" y1="32.32" x2="432.31" y2="29.24" stroke="#f2a17f"/><line x1="431.61" y1="31.67" x2="438.22" y2="29.69" stroke="#d05548"/><line x1="437.76" y1="32.62" x2="443.02" y2="28.15" stroke="#fae8de"/><line x1="339.26" y1="39.55" x2="338.63" y2="32.66" stroke="#15508d"/><line x1="343.17" y1="39.53" x2="345.61" y2="33.06" stroke="#5ba2cb"/><line x1="346.88" y1="37.85" x2="352.79" y2="34.29" stroke="#f8bda1"/><line x1="354.15" y1="39.20" x2="357.73" y2="33.29" stroke="#afd4e6"/><line x1="358.66" y1="38.42" x2="363.77" y2="33.77" stroke="#f9eee8"/><line x1="363.72" y1="36.60" x2="370.56" y2="35.74" stroke="#a21328"/><line x1="371.74" y1="39.38" x2="373.78" y2="32.78" stroke="#408fc1"/><line x1="375.97" y1="38.50" x2="380.86" y2="33.62" stroke="#f7f7f7"/><line x1="381.69" y1="38.95" x2="386.27" y2="33.78" stroke="#e9f0f4"/><line x1="388.36" y1="39.46" x2="390.88" y2="33.02" stroke="#61a6cd"/><line x1="394.57" y1="39.79" x2="396.27" y2="33.09" stroke="#3580b9"/><line x1="404.40" y1="36.44" x2="397.55" y2="35.65" stroke="#9e1228"/><line x1="409.93" y1="37.42" x2="403.41" y2="35.20" stroke="#d96652"/><line x1="410.63" y1="39.23" x2="413.76" y2="33.07" stroke="#92c5de"/><line x1="420.15" y1="38.77" x2="415.38" y2="33.78" stroke="#f2f5f6"/><line x1="420.57" y1="38.15" x2="426.52" y2="34.64" stroke="#f7ba9d"/><line x1="432.15" y1="37.65" x2="425.88" y2="34.79" stroke="#eb9173"/><line x1="432.20" y1="38.64" x2="437.21" y2="33.89" stroke="#f8f2ee"/><line x1="438.64" y1="39.34" x2="442.24" y2="33.44" stroke="#b1d5e7"/><line x1="338.47" y1="45.51" x2="339.16" y2="38.63" stroke="#175291"/><line x1="343.37" y1="45.27" x2="345.52" y2="38.70" stroke="#4594c4"/><line x1="353.47" y1="42.98" x2="346.79" y2="41.28" stroke="#c7423f"/><line x1="357.52" y1="44.87" x2="353.83" y2="39.02" stroke="#b8d8e9"/><line x1="364.44" y1="43.51" x2="358.29" y2="40.38" stroke="#f4a482"/><line x1="364.84" y1="44.24" x2="369.60" y2="39.24" stroke="#f2f4f6"/><line x1="370.34" y1="44.56" x2="374.93" y2="39.40" stroke="#e9f1f4"/><line x1="381.92" y1="42.25" x2="375.06" y2="41.58" stroke="#950f26"/><line x1="386.50" y1="44.20" x2="381.19" y2="39.79" stroke="#fbe6da"/><line x1="392.92" y1="42.40" x2="386.13" y2="41.19" stroke="#b6212f"/><line x1="392.79" y1="44.39" x2="397.87" y2="39.72" stroke="#f9efe9"/><line x1="404.37" y1="42.54" x2="397.59" y2="41.28" stroke="#b82431"/><line x1="409.84" y1="42.51" x2="403.09" y2="41.07" stroke="#be3036"/><line x1="408.73" y1="42.66" x2="415.44" y2="41.11" stroke="#c2373a"/><line x1="421.26" y1="43.10" x2="414.70" y2="40.96" stroke="#d6614d"/><line x1="420.45" y1="43.39" x2="426.67" y2="40.39" stroke="#f09b7a"/><line x1="425.80" y1="42.19" x2="432.64" y2="41.33" stroke="#a31329"/><line x1="434.50" y1="45.48" x2="435.47" y2="38.63" stroke="#1e61a5"/><line x1="443.11" y1="44.30" x2="438.13" y2="39.51" stroke="#f8f3f1"/><line x1="341.98" y1="49.18" x2="335.80" y2="46.11" stroke="#f2a07e"/><line x1="346.02" y1="50.57" x2="342.91" y2="44.39" stroke="#90c4dd"/><line x1="348.09" y1="50.52" x2="351.80" y2="44.69" stroke="#b9d9e9"/><line x1="352.95" y1="49.72" x2="358.66" y2="45.84" stroke="#fbd0b8"/><line x1="358.87" y1="50.04" x2="364.14" y2="45.58" stroke="#fae8dd"/><line x1="369.33" y1="49.98" x2="364.21" y2="45.36" stroke="#f9ede7"/><line x1="376.06" y1="48.39" x2="369.26" y2="47.26" stroke="#b41b2c"/><line x1="375.49" y1="49.05" x2="381.51" y2="45.69" stroke="#f6b192"/><line x1="383.45" y1="51.30" x2="384.22" y2="44.42" stroke="#195797"/><line x1="386.93" y1="50.06" x2="392.11" y2="45.51" stroke="#faebe3"/><line x1="398.63" y1="48.27" x2="391.94" y2="46.60" stroke="#c6403e"/><line x1="400.40" y1="50.86" x2="401.15" y2="43.99" stroke="#195695"/><line x1="404.14" y1="50.19" x2="409.10" y2="45.39" stroke="#f8f4f2"/><line x1="412.11" y1="50.91" x2="412.47" y2="44.00" stroke="#0e4279"/><line x1="415.71" y1="50.33" x2="420.11" y2="45.01" stroke="#e1ecf3"/><line x1="420.00" y1="47.89" x2="426.83" y2="46.95" stroke="#a81529"/><line x1="431.88" y1="50.02" x2="426.89" y2="45.24" stroke="#f8f3f0"/><line x1="431.38" y1="48.18" x2="438.23" y2="47.45" stroke="#9a1027"/><line x1="441.29" y1="51.04" x2="439.36" y2="44.40" stroke="#3c8abf"/><line x1="337.02" y1="56.10" x2="340.63" y2="50.21" stroke="#b2d5e7"/><line x1="343.29" y1="56.42" x2="345.73" y2="49.94" stroke="#5aa2cb"/><line x1="347.13" y1="54.98" x2="352.99" y2="51.34" stroke="#f9c1a6"/><line x1="358.45" y1="55.75" x2="353.21" y2="51.25" stroke="#fae9df"/><line x1="360.30" y1="56.73" x2="362.14" y2="50.06" stroke="#3a87bd"/><line x1="369.49" y1="55.50" x2="364.45" y2="50.78" stroke="#f8f1ec"/><line x1="375.76" y1="54.03" x2="369.05" y2="52.46" stroke="#c3393b"/><line x1="381.37" y1="55.10" x2="375.35" y2="51.74" stroke="#f6b192"/><line x1="386.99" y1="55.19" x2="381.23" y2="51.39" stroke="#facbb2"/><line x1="387.90" y1="56.40" x2="391.10" y2="50.27" stroke="#97c7df"/><line x1="397.42" y1="56.04" x2="392.72" y2="50.98" stroke="#eff3f5"/><line x1="403.32" y1="55.61" x2="398.29" y2="50.87" stroke="#f8f1ed"/><line x1="409.70" y1="54.57" x2="403.45" y2="51.67" stroke="#ed9475"/><line x1="414.97" y1="55.29" x2="409.72" y2="50.81" stroke="#fae9de"/><line x1="418.11" y1="56.80" x2="417.55" y2="49.90" stroke="#134c88"/><line x1="420.09" y1="53.85" x2="426.93" y2="53.00" stroke="#a21328"/><line x1="431.66" y1="55.86" x2="426.61" y2="51.15" stroke="#f8f1ec"/><line x1="437.93" y1="54.77" x2="431.85" y2="51.50" stroke="#f5ac8b"/><line x1="443.15" y1="55.12" x2="437.41" y2="51.30" stroke="#fbcdb5"/><line x1="341.44" y1="61.46" x2="336.46" y2="56.67" stroke="#f8f3f0"/><line x1="346.05" y1="61.99" x2="342.84" y2="55.87" stroke="#98c8e0"/><line x1="352.16" y1="61.68" x2="347.45" y2="56.64" stroke="#eff3f6"/><line x1="359.15" y1="59.98" x2="352.50" y2="58.15" stroke="#cb4b43"/><line x1="359.97" y1="62.10" x2="362.35" y2="55.61" stroke="#569fc9"/><line x1="367.90" y1="62.17" x2="365.93" y2="55.54" stroke="#3e8cbf"/><line x1="370.81" y1="62.10" x2="374.54" y2="56.29" stroke="#bad9e9"/><line x1="380.56" y1="61.72" x2="376.09" y2="56.46" stroke="#e4eef3"/><line x1="382.25" y1="61.94" x2="385.32" y2="55.75" stroke="#8dc2dc"/><line x1="386.89" y1="61.42" x2="391.96" y2="56.73" stroke="#f9f0eb"/><line x1="391.90" y1="59.76" x2="398.67" y2="58.43" stroke="#ba2933"/><line x1="397.31" y1="59.63" x2="404.14" y2="58.70" stroke="#a81529"/><line x1="409.89" y1="59.53" x2="403.18" y2="57.94" stroke="#c33a3b"/><line x1="408.84" y1="59.73" x2="415.52" y2="58.05" stroke="#c6413e"/><line x1="416.56" y1="62.14" x2="419.04" y2="55.69" stroke="#5ea4cc"/><line x1="421.02" y1="61.66" x2="425.78" y2="56.65" stroke="#f1f4f6"/><line x1="431.41" y1="61.72" x2="426.78" y2="56.59" stroke="#ebf1f5"/><line x1="432.70" y1="61.90" x2="436.51" y2="56.14" stroke="#c0dceb"/><line x1="442.70" y1="61.56" x2="438.18" y2="56.34" stroke="#e6eff4"/><line x1="340.62" y1="67.88" x2="337.21" y2="61.87" stroke="#a5cee3"/><line x1="347.53" y1="66.26" x2="341.34" y2="63.20" stroke="#f19f7d"/><line x1="347.32" y1="66.99" x2="352.45" y2="62.37" stroke="#f9ede6"/><line x1="353.19" y1="67.25" x2="357.90" y2="62.20" stroke="#eff3f6"/><line x1="364.71" y1="65.28" x2="357.88" y2="64.36" stroke="#a71529"/><line x1="363.84" y1="66.13" x2="370.11" y2="63.25" stroke="#ec9274"/><line x1="369.10" y1="64.96" x2="375.95" y2="64.14" stroke="#9f1228"/><line x1="374.74" y1="65.30" x2="381.59" y2="64.45" stroke="#a21328"/><line x1="387.19" y1="65.51" x2="380.59" y2="63.52" stroke="#d15648"/><line x1="392.44" y1="66.68" x2="387.10" y2="62.30" stroke="#fbe5d9"/><line x1="393.44" y1="67.43" x2="397.01" y2="61.51" stroke="#b0d4e7"/><line x1="402.13" y1="67.95" x2="400.17" y2="61.32" stroke="#3e8cbf"/><line x1="407.75" y1="67.75" x2="405.63" y2="61.17" stroke="#4393c3"/><line x1="409.76" y1="66.92" x2="414.56" y2="61.96" stroke="#f4f5f6"/><line x1="417.03" y1="68.04" x2="418.69" y2="61.33" stroke="#347fb9"/><line x1="426.44" y1="66.11" x2="420.33" y2="62.92" stroke="#f4a885"/><line x1="431.27" y1="67.36" x2="426.72" y2="62.16" stroke="#e7f0f4"/><line x1="437.48" y1="66.78" x2="431.79" y2="62.87" stroke="#fbd1bb"/><line x1="442.81" y1="67.33" x2="437.96" y2="62.42" stroke="#f6f7f7"/><line x1="340.13" y1="73.59" x2="336.95" y2="67.45" stroke="#95c6df"/><line x1="347.74" y1="71.49" x2="341.11" y2="69.58" stroke="#ce5045"/><line x1="351.41" y1="73.34" x2="348.70" y2="66.98" stroke="#70afd2"/><line x1="356.48" y1="73.40" x2="354.44" y2="66.79" stroke="#408fc1"/><line x1="364.82" y1="70.93" x2="357.98" y2="70.09" stroke="#a11328"/><line x1="365.33" y1="73.26" x2="368.87" y2="67.33" stroke="#add3e6"/><line x1="372.65" y1="73.87" x2="372.80" y2="66.96" stroke="#09376b"/><line x1="379.12" y1="73.47" x2="377.57" y2="66.73" stroke="#307ab6"/><line x1="387.33" y1="70.85" x2="380.47" y2="70.24" stroke="#910e26"/><line x1="388.80" y1="73.41" x2="390.86" y2="66.80" stroke="#4190c1"/><line x1="395.67" y1="73.76" x2="394.68" y2="66.91" stroke="#1f61a6"/><line x1="397.28" y1="70.83" x2="404.14" y2="70.16" stroke="#950f26"/><line x1="404.43" y1="72.99" x2="408.79" y2="67.63" stroke="#dfebf3"/><line x1="415.67" y1="70.79" x2="408.86" y2="69.73" stroke="#b1182b"/><line x1="420.43" y1="72.79" x2="415.36" y2="68.10" stroke="#f9f0ea"/><line x1="424.76" y1="73.38" x2="422.08" y2="67.01" stroke="#6eaed2"/><line x1="432.17" y1="71.96" x2="426.42" y2="68.15" stroke="#faccb3"/><line x1="433.51" y1="73.50" x2="435.79" y2="66.97" stroke="#4f9bc7"/><line x1="440.74" y1="73.60" x2="440.01" y2="66.72" stroke="#185493"/><line x1="340.04" y1="79.11" x2="337.56" y2="72.65" stroke="#5ea4cc"/><line x1="343.27" y1="79.11" x2="345.72" y2="72.64" stroke="#5ca3cb"/><line x1="351.91" y1="79.14" x2="348.31" y2="73.23" stroke="#b1d5e7"/><line x1="357.10" y1="78.91" x2="354.38" y2="72.56" stroke="#71b0d3"/><line x1="362.29" y1="79.32" x2="360.08" y2="72.77" stroke="#4a97c5"/><line x1="369.56" y1="78.60" x2="364.76" y2="73.63" stroke="#f3f5f6"/><line x1="369.17" y1="76.41" x2="376.00" y2="75.50" stroke="#a61429"/><line x1="379.52" y1="79.03" x2="377.11" y2="72.55" stroke="#59a1cb"/><line x1="385.43" y1="79.08" x2="381.98" y2="73.10" stroke="#a8d0e4"/><line x1="386.36" y1="76.28" x2="393.21" y2="75.45" stroke="#a01228"/><line x1="394.61" y1="79.22" x2="395.41" y2="72.35" stroke="#1a5898"/><line x1="399.67" y1="79.19" x2="402.12" y2="72.73" stroke="#5ca3cc"/><line x1="409.46" y1="78.02" x2="403.64" y2="74.32" stroke="#f9c5ab"/><line x1="409.08" y1="77.75" x2="415.02" y2="74.24" stroke="#f8ba9d"/><line x1="420.41" y1="78.18" x2="415.40" y2="73.43" stroke="#f8f2ef"/><line x1="425.28" y1="79.11" x2="422.22" y2="72.91" stroke="#8dc2dc"/><line x1="431.91" y1="77.47" x2="425.94" y2="74.02" stroke="#f7b799"/><line x1="431.69" y1="77.86" x2="437.46" y2="74.08" stroke="#facab1"/><line x1="440.65" y1="79.36" x2="440.18" y2="72.46" stroke="#114782"/><line x1="335.97" y1="83.56" x2="341.90" y2="80.03" stroke="#f8bb9e"/><line x1="344.52" y1="85.33" x2="344.01" y2="78.43" stroke="#124984"/><line x1="346.88" y1="82.64" x2="353.54" y2="80.86" stroke="#ca4741"/><line x1="352.58" y1="82.84" x2="359.15" y2="80.74" stroke="#d55d4c"/><line x1="358.98" y1="84.41" x2="363.53" y2="79.22" stroke="#e8f0f4"/><line x1="369.90" y1="83.12" x2="363.67" y2="80.17" stroke="#ee9878"/><line x1="375.05" y1="84.05" x2="369.90" y2="79.45" stroke="#f9ede5"/><line x1="376.43" y1="84.60" x2="379.82" y2="78.57" stroke="#a3cee3"/><line x1="387.21" y1="82.86" x2="380.92" y2="80.03" stroke="#eb8f71"/><line x1="393.11" y1="82.86" x2="386.56" y2="80.71" stroke="#d6614e"/><line x1="397.66" y1="84.04" x2="393.04" y2="78.90" stroke="#ebf1f5"/><line x1="397.51" y1="82.29" x2="404.36" y2="81.45" stroke="#a11328"/><line x1="405.47" y1="85.09" x2="407.58" y2="78.51" stroke="#4292c3"/><line x1="410.28" y1="84.63" x2="414.17" y2="78.92" stroke="#c6dfed"/><line x1="419.71" y1="84.59" x2="416.23" y2="78.63" stroke="#aad1e5"/><line x1="426.73" y1="81.95" x2="419.89" y2="81.08" stroke="#a31329"/><line x1="432.70" y1="82.13" x2="425.86" y2="81.26" stroke="#a31329"/><line x1="436.62" y1="84.50" x2="432.72" y2="78.79" stroke="#c6dfed"/><line x1="437.41" y1="83.39" x2="443.62" y2="80.37" stroke="#f09c7b"/><line x1="337.96" y1="90.63" x2="339.49" y2="83.88" stroke="#2f79b6"/><line x1="347.47" y1="88.92" x2="341.52" y2="85.43" stroke="#f7b89b"/><line x1="348.87" y1="90.65" x2="350.75" y2="83.99" stroke="#3b88bd"/><line x1="359.05" y1="88.39" x2="352.49" y2="86.27" stroke="#d55f4c"/><line x1="359.32" y1="89.91" x2="363.76" y2="84.62" stroke="#e2edf3"/><line x1="366.16" y1="90.68" x2="368.22" y2="84.08" stroke="#4190c1"/><line x1="372.51" y1="90.59" x2="372.79" y2="83.68" stroke="#0c3e75"/><line x1="377.54" y1="90.89" x2="379.30" y2="84.20" stroke="#3783bb"/><line x1="380.79" y1="89.00" x2="386.72" y2="85.47" stroke="#f8bb9e"/><line x1="392.37" y1="89.69" x2="387.23" y2="85.07" stroke="#f9ede6"/><line x1="397.07" y1="90.23" x2="393.18" y2="84.53" stroke="#c6dfed"/><line x1="397.92" y1="89.44" x2="403.64" y2="85.58" stroke="#fbcfb7"/><line x1="408.56" y1="90.35" x2="404.80" y2="84.55" stroke="#bddbea"/><line x1="409.66" y1="89.73" x2="414.69" y2="85.00" stroke="#f8f1ed"/><line x1="421.01" y1="88.89" x2="414.78" y2="85.94" stroke="#ee9878"/><line x1="421.61" y1="90.50" x2="425.17" y2="84.57" stroke="#aed3e6"/><line x1="426.53" y1="89.64" x2="431.77" y2="85.15" stroke="#fae9df"/><line x1="438.41" y1="87.98" x2="431.59" y2="86.93" stroke="#b0172b"/><line x1="444.03" y1="88.19" x2="437.30" y2="86.69" stroke="#c03438"/><line x1="335.52" y1="93.45" x2="342.29" y2="92.15" stroke="#b92732"/><line x1="346.47" y1="95.80" x2="342.53" y2="90.12" stroke="#c9e1ee"/><line x1="352.24" y1="95.55" x2="347.73" y2="90.32" stroke="#e5eff4"/><line x1="352.10" y1="93.06" x2="358.97" y2="92.45" stroke="#910e26"/><line x1="358.48" y1="94.48" x2="364.48" y2="91.08" stroke="#f6b495"/><line x1="368.69" y1="96.03" x2="365.33" y2="89.98" stroke="#a1cde2"/><line x1="372.78" y1="96.32" x2="372.39" y2="89.41" stroke="#0f447c"/><line x1="379.33" y1="96.29" x2="376.82" y2="89.85" stroke="#61a6cd"/><line x1="386.73" y1="94.92" x2="380.85" y2="91.30" stroke="#f9c1a5"/><line x1="390.90" y1="96.02" x2="388.41" y2="89.57" stroke="#5ea4cc"/><line x1="392.08" y1="93.57" x2="398.84" y2="92.22" stroke="#bb2a34"/><line x1="399.41" y1="96.00" x2="402.62" y2="89.88" stroke="#97c7df"/><line x1="409.01" y1="95.29" x2="404.35" y2="90.19" stroke="#edf2f5"/><line x1="411.35" y1="96.49" x2="412.88" y2="89.75" stroke="#3079b6"/><line x1="414.67" y1="94.61" x2="420.61" y2="91.10" stroke="#f7ba9d"/><line x1="426.12" y1="94.80" x2="420.46" y2="90.85" stroke="#fcd4be"/><line x1="426.55" y1="95.49" x2="431.39" y2="90.56" stroke="#f5f6f7"/><line x1="432.41" y1="95.45" x2="437.19" y2="90.47" stroke="#f2f5f6"/><line x1="440.57" y1="96.21" x2="440.75" y2="89.30" stroke="#0a396e"/><line x1="338.19" y1="102.23" x2="338.98" y2="95.36" stroke="#1a5898"/><line x1="347.93" y1="99.05" x2="341.07" y2="98.38" stroke="#950f26"/><line x1="347.67" y1="101.16" x2="352.81" y2="96.55" stroke="#f9ede6"/><line x1="352.52" y1="99.41" x2="359.23" y2="97.83" stroke="#c33a3b"/><line x1="361.66" y1="102.12" x2="361.17" y2="95.22" stroke="#124983"/><line x1="370.19" y1="99.53" x2="363.49" y2="97.90" stroke="#c43d3c"/><line x1="370.25" y1="101.02" x2="375.03" y2="96.03" stroke="#f2f5f6"/><line x1="381.41" y1="100.29" x2="375.30" y2="97.10" stroke="#f5a886"/><line x1="381.64" y1="100.88" x2="386.76" y2="96.25" stroke="#f9eee7"/><line x1="393.12" y1="98.99" x2="386.29" y2="98.05" stroke="#a81529"/><line x1="397.51" y1="100.98" x2="392.71" y2="96.01" stroke="#f3f5f6"/><line x1="398.30" y1="100.87" x2="403.15" y2="95.95" stroke="#f6f6f7"/><line x1="404.75" y1="101.35" x2="408.45" y2="95.51" stroke="#b8d8e9"/><line x1="411.00" y1="101.97" x2="413.39" y2="95.48" stroke="#579fca"/><line x1="420.45" y1="101.12" x2="415.71" y2="96.10" stroke="#f1f4f6"/><line x1="426.99" y1="99.27" x2="420.18" y2="98.16" stroke="#b31a2c"/><line x1="431.46" y1="101.19" x2="426.59" y2="96.29" stroke="#f6f7f7"/><line x1="436.41" y1="101.71" x2="433.30" y2="95.54" stroke="#91c4de"/><line x1="438.17" y1="101.40" x2="442.71" y2="96.19" stroke="#e7eff4"/><line x1="341.04" y1="106.80" x2="336.24" y2="101.83" stroke="#f3f5f6"/><line x1="342.74" y1="107.24" x2="346.44" y2="101.41" stroke="#b8d8e9"/><line x1="351.74" y1="107.15" x2="348.22" y2="101.20" stroke="#abd2e5"/><line x1="352.27" y1="105.13" x2="359.03" y2="103.80" stroke="#ba2933"/><line x1="360.21" y1="107.65" x2="362.09" y2="101.00" stroke="#3b89be"/><line x1="369.27" y1="106.98" x2="364.87" y2="101.65" stroke="#e0ecf3"/><line x1="375.78" y1="106.07" x2="369.70" y2="102.80" stroke="#f5ad8c"/><line x1="381.60" y1="105.71" x2="375.38" y2="102.72" stroke="#ef9a7a"/><line x1="380.99" y1="105.76" x2="387.12" y2="102.59" stroke="#f4a784"/><line x1="392.19" y1="106.78" x2="386.92" y2="102.32" stroke="#fae8dd"/><line x1="398.21" y1="105.99" x2="391.94" y2="103.11" stroke="#ec9274"/><line x1="398.25" y1="106.27" x2="404.01" y2="102.47" stroke="#facbb2"/><line x1="403.66" y1="106.40" x2="409.35" y2="102.49" stroke="#fbd2bb"/><line x1="414.56" y1="106.89" x2="409.49" y2="102.20" stroke="#f9f0eb"/><line x1="421.06" y1="106.20" x2="415.01" y2="102.88" stroke="#f6af8f"/><line x1="426.07" y1="107.10" x2="421.43" y2="101.99" stroke="#ecf2f5"/><line x1="430.27" y1="107.88" x2="428.45" y2="101.21" stroke="#3986bc"/><line x1="438.43" y1="104.86" x2="431.59" y2="104.03" stroke="#a11328"/><line x1="436.96" y1="104.89" x2="443.81" y2="104.06" stroke="#a11228"/><line x1="335.21" y1="110.61" x2="342.03" y2="109.54" stroke="#b1182b"/><line x1="347.61" y1="110.50" x2="340.85" y2="109.14" stroke="#bb2b34"/><line x1="353.25" y1="111.67" x2="346.98" y2="108.80" stroke="#ec9273"/><line x1="354.91" y1="113.31" x2="356.51" y2="106.58" stroke="#327cb7"/><line x1="364.24" y1="111.43" x2="358.17" y2="108.16" stroke="#f5ad8c"/><line x1="367.54" y1="113.45" x2="366.55" y2="106.61" stroke="#1f62a6"/><line x1="369.14" y1="110.31" x2="375.97" y2="109.31" stroke="#ac162a"/><line x1="380.95" y1="112.14" x2="375.63" y2="107.74" stroke="#fbe6d9"/><line x1="383.34" y1="113.13" x2="384.83" y2="106.38" stroke="#2e78b5"/><line x1="391.96" y1="112.33" x2="387.20" y2="107.33" stroke="#f2f4f6"/><line x1="398.34" y1="111.85" x2="392.41" y2="108.33" stroke="#f8bb9e"/><line x1="400.73" y1="113.51" x2="400.96" y2="106.59" stroke="#0b3b71"/><line x1="407.59" y1="113.34" x2="405.88" y2="106.64" stroke="#3581ba"/><line x1="415.16" y1="111.91" x2="409.38" y2="108.14" stroke="#fac9b1"/><line x1="421.01" y1="111.78" x2="414.97" y2="108.45" stroke="#f6af8f"/><line x1="421.06" y1="112.20" x2="426.37" y2="107.79" stroke="#fbe6da"/><line x1="431.37" y1="112.73" x2="426.60" y2="107.74" stroke="#f2f4f6"/><line x1="431.42" y1="110.45" x2="438.25" y2="109.49" stroke="#aa152a"/><line x1="443.44" y1="111.82" x2="437.61" y2="108.13" stroke="#f9c4aa"/><line x1="338.75" y1="118.89" x2="339.07" y2="111.98" stroke="#0d4077"/><line x1="348.03" y1="116.26" x2="341.20" y2="115.34" stroke="#a61429"/><line x1="349.10" y1="119.13" x2="350.68" y2="112.40" stroke="#317cb7"/><line x1="355.92" y1="119.30" x2="355.08" y2="112.44" stroke="#1b5a9b"/><line x1="364.82" y1="116.33" x2="358.08" y2="114.90" stroke="#be2f36"/><line x1="369.88" y1="117.30" x2="363.63" y2="114.38" stroke="#ed9676"/><line x1="370.09" y1="118.27" x2="374.91" y2="113.32" stroke="#f4f6f6"/><line x1="376.00" y1="118.22" x2="380.86" y2="113.30" stroke="#f6f7f7"/><line x1="382.80" y1="118.94" x2="385.02" y2="112.39" stroke="#4a98c5"/><line x1="391.78" y1="118.41" x2="387.18" y2="113.25" stroke="#e9f1f5"/><line x1="391.71" y1="116.21" x2="398.48" y2="114.94" stroke="#b82531"/><line x1="400.03" y1="118.74" x2="402.00" y2="112.12" stroke="#3e8cc0"/><line x1="407.22" y1="118.95" x2="405.75" y2="112.19" stroke="#2d76b4"/><line x1="409.09" y1="117.37" x2="415.28" y2="114.34" stroke="#f19d7c"/><line x1="418.42" y1="118.87" x2="417.58" y2="112.01" stroke="#1b5a9c"/><line x1="420.46" y1="117.51" x2="426.12" y2="113.55" stroke="#fcd4bf"/><line x1="432.45" y1="116.45" x2="425.68" y2="115.18" stroke="#b92531"/><line x1="431.89" y1="117.59" x2="437.70" y2="113.86" stroke="#fac7ad"/><line x1="437.87" y1="117.88" x2="442.74" y2="112.98" stroke="#f7f7f7"/><line x1="335.97" y1="123.21" x2="341.62" y2="119.24" stroke="#fcd5bf"/><line x1="342.44" y1="124.52" x2="346.06" y2="118.63" stroke="#b2d5e7"/><line x1="349.22" y1="124.39" x2="351.27" y2="117.78" stroke="#4090c1"/><line x1="356.76" y1="124.54" x2="355.12" y2="117.82" stroke="#337eb8"/><line x1="363.82" y1="123.96" x2="359.30" y2="118.75" stroke="#e6eff4"/><line x1="370.18" y1="122.21" x2="363.46" y2="120.71" stroke="#c03438"/><line x1="369.02" y1="122.12" x2="375.79" y2="120.82" stroke="#b92732"/><line x1="380.06" y1="124.58" x2="377.00" y2="118.39" stroke="#8dc2dc"/><line x1="385.80" y1="124.06" x2="382.21" y2="118.16" stroke="#b1d5e7"/><line x1="392.90" y1="121.98" x2="386.08" y2="120.94" stroke="#af172b"/><line x1="392.85" y1="123.39" x2="398.15" y2="118.97" stroke="#fbe7db"/><line x1="403.91" y1="123.21" x2="398.18" y2="119.38" stroke="#fbcdb5"/><line x1="407.63" y1="124.52" x2="405.29" y2="118.02" stroke="#539dc9"/><line x1="409.00" y1="122.79" x2="415.00" y2="119.39" stroke="#f7b495"/><line x1="420.23" y1="123.98" x2="415.78" y2="118.69" stroke="#e2edf3"/><line x1="422.38" y1="124.71" x2="424.21" y2="118.04" stroke="#3986bc"/><line x1="425.61" y1="121.95" x2="432.39" y2="120.68" stroke="#b82431"/><line x1="436.45" y1="124.33" x2="432.79" y2="118.47" stroke="#b6d7e8"/><line x1="437.53" y1="122.94" x2="443.80" y2="120.08" stroke="#ec9273"/></g><rect x="333.1" y="13.6" width="21.2" height="21.4" fill="#fff"/><rect x="333.1" y="13.6" width="113.0" height="113.40" fill="none" stroke="#3a3a3a" stroke-width="0.85"/><path d="M355.70 127.00v-1.3M355.70 13.60v1.3M333.10 36.28h1.3M446.10 36.28h-1.3" stroke="#3a3a3a" stroke-width="0.85"/><text transform="translate(355.70 137.90) scale(0.94 1.08)" font-size="8.4" text-anchor="middle" >5</text><text transform="translate(330.50 39.38) scale(0.94 1.08)" font-size="8.4" text-anchor="end" >5</text><path d="M383.95 127.00v-1.3M383.95 13.60v1.3M333.10 64.63h1.3M446.10 64.63h-1.3" stroke="#3a3a3a" stroke-width="0.85"/><text transform="translate(383.95 137.90) scale(0.94 1.08)" font-size="8.4" text-anchor="middle" >10</text><text transform="translate(330.50 67.73) scale(0.94 1.08)" font-size="8.4" text-anchor="end" >10</text><path d="M412.20 127.00v-1.3M412.20 13.60v1.3M333.10 92.98h1.3M446.10 92.98h-1.3" stroke="#3a3a3a" stroke-width="0.85"/><text transform="translate(412.20 137.90) scale(0.94 1.08)" font-size="8.4" text-anchor="middle" >15</text><text transform="translate(330.50 96.08) scale(0.94 1.08)" font-size="8.4" text-anchor="end" >15</text><path d="M440.45 127.00v-1.3M440.45 13.60v1.3M333.10 121.33h1.3M446.10 121.33h-1.3" stroke="#3a3a3a" stroke-width="0.85"/><text transform="translate(440.45 137.90) scale(0.94 1.08)" font-size="8.4" text-anchor="middle" >20</text><text transform="translate(330.50 124.43) scale(0.94 1.08)" font-size="8.4" text-anchor="end" >20</text><text transform="translate(389.60 149.20) scale(1.0 1.1)" font-size="9.6" text-anchor="middle" >X</text><text transform="translate(318.70,70.60) rotate(-90) scale(1.05 1.04)" font-size="10" text-anchor="middle">Y</text><text transform="translate(333.30 30.20) scale(0.93 1.0)" font-size="20" text-anchor="start" fill="#000" stroke="#000" stroke-width="0.3">(c)</text><text transform="translate(394.00 11.60) scale(1.0 1.1)" font-size="9.8" text-anchor="middle" >t = 2500</text><g stroke-width="1.12" stroke-linecap="butt"><line x1="34.12" y1="170.94" x2="38.70" y2="165.80" stroke="#e9f0f4"/><line x1="39.96" y1="170.86" x2="44.48" y2="165.67" stroke="#e6eff4"/><line x1="45.15" y1="170.84" x2="50.10" y2="166.05" stroke="#f8f4f2"/><line x1="56.95" y1="168.79" x2="50.16" y2="167.61" stroke="#b51f2e"/><line x1="62.23" y1="168.71" x2="55.45" y2="167.48" stroke="#b72330"/><line x1="67.88" y1="168.87" x2="61.05" y2="167.99" stroke="#a41429"/><line x1="66.82" y1="168.76" x2="73.63" y2="167.70" stroke="#b1182b"/><line x1="72.52" y1="168.42" x2="79.38" y2="167.79" stroke="#930e26"/><line x1="78.33" y1="168.77" x2="85.07" y2="167.32" stroke="#be3137"/><line x1="84.00" y1="169.30" x2="90.67" y2="167.56" stroke="#c94540"/><line x1="94.81" y1="171.42" x2="91.23" y2="165.55" stroke="#b0d4e7"/><line x1="100.41" y1="171.21" x2="97.04" y2="165.21" stroke="#a2cde2"/><line x1="103.61" y1="171.46" x2="104.62" y2="164.66" stroke="#1f63a8"/><line x1="106.26" y1="168.65" x2="113.12" y2="168.01" stroke="#930e26"/><line x1="114.85" y1="171.77" x2="115.92" y2="164.98" stroke="#2165ab"/><line x1="122.96" y1="171.16" x2="119.53" y2="165.19" stroke="#a6cfe4"/><line x1="125.72" y1="171.53" x2="127.75" y2="164.96" stroke="#408fc1"/><line x1="129.12" y1="169.75" x2="135.52" y2="167.20" stroke="#e37d63"/><line x1="141.67" y1="168.99" x2="134.90" y2="167.71" stroke="#b92631"/><line x1="39.01" y1="176.23" x2="33.66" y2="171.89" stroke="#fbe4d7"/><line x1="44.40" y1="176.04" x2="39.44" y2="171.26" stroke="#f8f4f2"/><line x1="50.14" y1="176.29" x2="45.02" y2="171.69" stroke="#f9eee7"/><line x1="50.09" y1="174.58" x2="56.77" y2="172.88" stroke="#c7423f"/><line x1="57.29" y1="176.66" x2="60.60" y2="170.63" stroke="#9ecbe1"/><line x1="61.49" y1="175.17" x2="67.89" y2="172.62" stroke="#e37d63"/><line x1="66.93" y1="174.51" x2="73.72" y2="173.35" stroke="#b51e2e"/><line x1="72.61" y1="174.68" x2="79.34" y2="173.21" stroke="#bf3338"/><line x1="84.79" y1="175.63" x2="78.76" y2="172.30" stroke="#f6b191"/><line x1="89.60" y1="176.25" x2="84.67" y2="171.44" stroke="#f7f5f4"/><line x1="94.41" y1="177.13" x2="91.88" y2="170.74" stroke="#62a7ce"/><line x1="96.00" y1="175.88" x2="101.20" y2="171.37" stroke="#faebe2"/><line x1="101.87" y1="176.33" x2="106.37" y2="171.12" stroke="#e5eff4"/><line x1="113.42" y1="174.18" x2="106.61" y2="173.12" stroke="#b1182b"/><line x1="112.30" y1="174.60" x2="118.95" y2="172.79" stroke="#cb4b43"/><line x1="123.64" y1="176.33" x2="118.67" y2="171.56" stroke="#f8f4f1"/><line x1="126.91" y1="177.41" x2="126.33" y2="170.56" stroke="#144d89"/><line x1="129.15" y1="175.23" x2="135.60" y2="172.83" stroke="#de735b"/><line x1="141.59" y1="174.58" x2="134.77" y2="173.57" stroke="#ae172a"/><line x1="39.27" y1="181.91" x2="34.08" y2="177.39" stroke="#faebe2"/><line x1="44.79" y1="181.51" x2="39.46" y2="177.15" stroke="#fbe5d9"/><line x1="50.17" y1="182.09" x2="45.16" y2="177.36" stroke="#f8f2ef"/><line x1="51.57" y1="182.59" x2="54.80" y2="176.52" stroke="#99c8e0"/><line x1="56.00" y1="180.85" x2="62.47" y2="178.47" stroke="#de715a"/><line x1="67.75" y1="180.75" x2="61.54" y2="177.77" stroke="#ef9a7a"/><line x1="73.65" y1="179.85" x2="66.85" y2="178.69" stroke="#b51e2e"/><line x1="79.35" y1="179.69" x2="72.49" y2="179.05" stroke="#940e26"/><line x1="79.00" y1="181.89" x2="83.81" y2="176.97" stroke="#f4f5f6"/><line x1="87.10" y1="183.11" x2="87.48" y2="176.25" stroke="#0f437c"/><line x1="89.58" y1="180.88" x2="96.09" y2="178.62" stroke="#da6954"/><line x1="95.67" y1="181.02" x2="101.77" y2="177.80" stroke="#f5aa89"/><line x1="101.79" y1="182.03" x2="106.60" y2="177.12" stroke="#f4f6f6"/><line x1="113.25" y1="179.86" x2="106.40" y2="179.07" stroke="#9e1228"/><line x1="112.09" y1="180.48" x2="118.64" y2="178.35" stroke="#d6604d"/><line x1="118.44" y1="181.58" x2="123.53" y2="176.95" stroke="#f9efe9"/><line x1="124.59" y1="181.73" x2="129.44" y2="176.84" stroke="#f5f6f7"/><line x1="135.88" y1="180.09" x2="129.07" y2="179.00" stroke="#b3192c"/><line x1="134.80" y1="179.86" x2="141.66" y2="179.20" stroke="#950f26"/><line x1="33.15" y1="185.47" x2="40.02" y2="184.87" stroke="#910d26"/><line x1="45.28" y1="185.80" x2="38.50" y2="184.56" stroke="#b82330"/><line x1="44.51" y1="185.83" x2="51.32" y2="184.80" stroke="#ae172a"/><line x1="50.41" y1="186.56" x2="56.80" y2="183.99" stroke="#e37e64"/><line x1="55.63" y1="185.68" x2="62.41" y2="184.46" stroke="#b7222f"/><line x1="67.84" y1="186.92" x2="61.82" y2="183.57" stroke="#f6b292"/><line x1="73.79" y1="186.19" x2="67.33" y2="183.81" stroke="#dd715a"/><line x1="73.39" y1="187.66" x2="78.26" y2="182.79" stroke="#f7f7f7"/><line x1="83.03" y1="188.21" x2="80.41" y2="181.85" stroke="#6aabd0"/><line x1="88.05" y1="188.62" x2="86.35" y2="181.96" stroke="#3580b9"/><line x1="94.90" y1="187.80" x2="91.15" y2="182.04" stroke="#bcdaea"/><line x1="95.31" y1="186.00" x2="102.08" y2="184.72" stroke="#b92632"/><line x1="100.65" y1="185.45" x2="107.48" y2="184.55" stroke="#a61429"/><line x1="106.74" y1="185.80" x2="113.47" y2="184.34" stroke="#bf3338"/><line x1="112.20" y1="185.68" x2="119.06" y2="185.04" stroke="#930e26"/><line x1="124.58" y1="185.91" x2="117.80" y2="184.65" stroke="#b82431"/><line x1="130.28" y1="185.83" x2="123.46" y2="184.85" stroke="#ab162a"/><line x1="128.93" y1="185.85" x2="135.71" y2="184.65" stroke="#b6202f"/><line x1="141.33" y1="186.00" x2="134.57" y2="184.65" stroke="#bb2a34"/><line x1="39.83" y1="191.46" x2="33.04" y2="190.27" stroke="#b6202f"/><line x1="45.73" y1="191.13" x2="38.90" y2="190.16" stroke="#aa162a"/><line x1="50.81" y1="192.78" x2="44.95" y2="189.15" stroke="#f9c2a7"/><line x1="56.52" y1="192.02" x2="50.16" y2="189.36" stroke="#e68469"/><line x1="55.50" y1="191.74" x2="62.21" y2="190.14" stroke="#c43c3c"/><line x1="67.72" y1="192.06" x2="61.48" y2="189.14" stroke="#ee9777"/><line x1="73.71" y1="191.79" x2="67.27" y2="189.33" stroke="#e0775f"/><line x1="73.05" y1="192.14" x2="79.23" y2="189.09" stroke="#f2a07e"/><line x1="78.11" y1="191.34" x2="84.92" y2="190.26" stroke="#b2192b"/><line x1="83.63" y1="190.85" x2="90.50" y2="190.22" stroke="#920e26"/><line x1="96.13" y1="191.28" x2="89.28" y2="190.47" stroke="#a01228"/><line x1="95.91" y1="193.16" x2="101.22" y2="188.78" stroke="#fbe6da"/><line x1="100.89" y1="191.33" x2="107.67" y2="190.13" stroke="#b6212f"/><line x1="113.57" y1="191.00" x2="106.72" y2="190.18" stroke="#a01228"/><line x1="112.30" y1="191.64" x2="119.07" y2="190.36" stroke="#b92631"/><line x1="124.29" y1="191.98" x2="118.01" y2="189.15" stroke="#eb9172"/><line x1="129.88" y1="192.51" x2="123.76" y2="189.36" stroke="#f4a785"/><line x1="135.27" y1="192.40" x2="129.38" y2="188.83" stroke="#f8bea2"/><line x1="140.53" y1="193.43" x2="135.95" y2="188.29" stroke="#e9f0f4"/><line x1="39.61" y1="197.04" x2="32.86" y2="195.66" stroke="#bc2d35"/><line x1="38.86" y1="196.95" x2="45.65" y2="195.80" stroke="#b51d2d"/><line x1="44.59" y1="198.13" x2="50.62" y2="194.79" stroke="#f6b192"/><line x1="56.45" y1="198.00" x2="50.54" y2="194.48" stroke="#f8bca0"/><line x1="62.17" y1="197.46" x2="55.66" y2="195.21" stroke="#da6954"/><line x1="67.99" y1="197.68" x2="61.53" y2="195.28" stroke="#de725b"/><line x1="67.29" y1="197.67" x2="73.63" y2="194.96" stroke="#e7886c"/><line x1="79.29" y1="196.88" x2="72.45" y2="196.00" stroke="#a51429"/><line x1="78.26" y1="197.21" x2="85.02" y2="195.89" stroke="#ba2833"/><line x1="84.91" y1="198.84" x2="89.80" y2="193.99" stroke="#f7f6f6"/><line x1="95.45" y1="199.00" x2="90.47" y2="194.24" stroke="#f8f3f1"/><line x1="96.88" y1="199.27" x2="100.62" y2="193.50" stroke="#bbdaea"/><line x1="104.21" y1="199.64" x2="104.43" y2="192.77" stroke="#0b3b70"/><line x1="111.91" y1="199.15" x2="108.18" y2="193.37" stroke="#badaea"/><line x1="115.94" y1="199.83" x2="115.16" y2="193.00" stroke="#195797"/><line x1="118.93" y1="198.60" x2="123.79" y2="193.73" stroke="#f7f7f7"/><line x1="125.29" y1="199.51" x2="128.68" y2="193.52" stroke="#a3cee3"/><line x1="132.71" y1="200.00" x2="131.91" y2="193.17" stroke="#1a5899"/><line x1="139.84" y1="199.44" x2="136.27" y2="193.56" stroke="#afd4e6"/><line x1="38.07" y1="205.14" x2="34.78" y2="199.10" stroke="#9ccae1"/><line x1="45.36" y1="202.73" x2="38.57" y2="201.59" stroke="#b41c2d"/><line x1="44.13" y1="202.74" x2="50.88" y2="201.33" stroke="#bd2f36"/><line x1="56.56" y1="203.49" x2="50.33" y2="200.56" stroke="#ee9878"/><line x1="62.33" y1="203.52" x2="56.26" y2="200.26" stroke="#f5ac8b"/><line x1="67.71" y1="204.02" x2="61.79" y2="200.50" stroke="#f8bc9f"/><line x1="73.51" y1="203.40" x2="67.18" y2="200.68" stroke="#e8896d"/><line x1="72.92" y1="203.64" x2="79.09" y2="200.58" stroke="#f2a07e"/><line x1="85.21" y1="202.76" x2="78.54" y2="201.03" stroke="#c84440"/><line x1="84.13" y1="202.97" x2="90.69" y2="200.84" stroke="#d6604d"/><line x1="91.42" y1="205.06" x2="94.95" y2="199.16" stroke="#add3e6"/><line x1="100.71" y1="205.00" x2="96.87" y2="199.29" stroke="#c2ddec"/><line x1="105.63" y1="205.19" x2="102.99" y2="198.84" stroke="#6aacd0"/><line x1="111.81" y1="205.08" x2="108.18" y2="199.24" stroke="#b4d6e8"/><line x1="116.80" y1="205.30" x2="114.04" y2="198.99" stroke="#74b2d4"/><line x1="124.02" y1="203.45" x2="117.91" y2="200.28" stroke="#f4a886"/><line x1="127.91" y1="205.25" x2="126.21" y2="198.59" stroke="#3580b9"/><line x1="131.46" y1="205.52" x2="133.50" y2="198.95" stroke="#408fc1"/><line x1="134.76" y1="202.84" x2="141.54" y2="201.60" stroke="#b82330"/><line x1="38.46" y1="210.57" x2="34.59" y2="204.88" stroke="#c4deec"/><line x1="45.54" y1="207.91" x2="38.69" y2="207.10" stroke="#9f1228"/><line x1="51.34" y1="207.89" x2="44.49" y2="207.15" stroke="#9a1027"/><line x1="49.94" y1="208.25" x2="56.70" y2="206.87" stroke="#bc2d35"/><line x1="62.32" y1="208.80" x2="55.85" y2="206.41" stroke="#de725b"/><line x1="67.72" y1="209.44" x2="61.80" y2="205.93" stroke="#f8bc9f"/><line x1="67.86" y1="210.02" x2="72.86" y2="205.29" stroke="#f8f2ef"/><line x1="72.41" y1="208.13" x2="79.24" y2="207.22" stroke="#a61429"/><line x1="84.90" y1="208.38" x2="78.07" y2="207.43" stroke="#aa152a"/><line x1="90.74" y1="208.54" x2="83.98" y2="207.19" stroke="#bb2b34"/><line x1="94.76" y1="210.41" x2="90.87" y2="204.73" stroke="#c5dfed"/><line x1="96.17" y1="210.12" x2="101.42" y2="205.67" stroke="#fae9de"/><line x1="106.85" y1="210.21" x2="102.07" y2="205.26" stroke="#f2f5f6"/><line x1="112.99" y1="209.14" x2="106.85" y2="206.00" stroke="#f4a683"/><line x1="118.41" y1="209.81" x2="113.16" y2="205.35" stroke="#fae9df"/><line x1="118.64" y1="209.99" x2="123.79" y2="205.43" stroke="#f9ece5"/><line x1="123.47" y1="208.22" x2="130.29" y2="207.17" stroke="#b0172b"/><line x1="132.60" y1="210.91" x2="132.02" y2="204.06" stroke="#144d89"/><line x1="139.84" y1="210.69" x2="136.59" y2="204.62" stroke="#9ac9e0"/><line x1="39.63" y1="213.96" x2="32.78" y2="213.12" stroke="#a21328"/><line x1="45.34" y1="213.79" x2="38.49" y2="213.01" stroke="#9d1128"/><line x1="44.46" y1="213.92" x2="51.29" y2="212.99" stroke="#a81529"/><line x1="56.72" y1="214.03" x2="49.97" y2="212.65" stroke="#bc2d35"/><line x1="55.53" y1="213.77" x2="62.39" y2="213.11" stroke="#950f26"/><line x1="67.90" y1="213.86" x2="61.05" y2="213.11" stroke="#9b1127"/><line x1="70.01" y1="216.65" x2="70.75" y2="209.82" stroke="#185594"/><line x1="79.42" y1="214.46" x2="72.92" y2="212.16" stroke="#db6b56"/><line x1="84.86" y1="214.33" x2="78.23" y2="212.46" stroke="#cd4e44"/><line x1="84.18" y1="214.37" x2="90.84" y2="212.60" stroke="#ca4841"/><line x1="89.85" y1="215.27" x2="95.79" y2="211.79" stroke="#f7ba9d"/><line x1="101.72" y1="214.97" x2="95.79" y2="211.46" stroke="#f8bb9e"/><line x1="106.31" y1="216.11" x2="101.83" y2="210.89" stroke="#e4eef4"/><line x1="113.12" y1="214.27" x2="106.65" y2="211.89" stroke="#dd715a"/><line x1="117.63" y1="215.99" x2="113.06" y2="210.84" stroke="#e8f0f4"/><line x1="123.89" y1="215.49" x2="118.72" y2="210.95" stroke="#f9ece4"/><line x1="123.69" y1="214.21" x2="130.24" y2="212.07" stroke="#d7614e"/><line x1="131.12" y1="216.43" x2="134.26" y2="210.31" stroke="#93c5de"/><line x1="140.68" y1="215.32" x2="135.37" y2="210.93" stroke="#fbe6db"/><line x1="33.20" y1="219.20" x2="40.06" y2="218.59" stroke="#910e26"/><line x1="38.62" y1="219.46" x2="45.44" y2="218.46" stroke="#ad162a"/><line x1="44.51" y1="219.77" x2="51.30" y2="218.61" stroke="#b51e2e"/><line x1="49.98" y1="219.49" x2="56.77" y2="218.28" stroke="#b7212f"/><line x1="62.44" y1="219.51" x2="55.58" y2="218.80" stroke="#981027"/><line x1="65.14" y1="222.27" x2="64.08" y2="215.48" stroke="#2165ab"/><line x1="72.26" y1="222.15" x2="68.92" y2="216.14" stroke="#a0cce2"/><line x1="74.59" y1="221.93" x2="77.62" y2="215.76" stroke="#8ac0db"/><line x1="84.39" y1="221.51" x2="79.34" y2="216.82" stroke="#f8f1ec"/><line x1="90.61" y1="219.54" x2="83.91" y2="217.92" stroke="#c43d3c"/><line x1="89.53" y1="219.79" x2="96.31" y2="218.54" stroke="#b82431"/><line x1="101.77" y1="219.99" x2="95.14" y2="218.11" stroke="#cd4e45"/><line x1="106.85" y1="221.20" x2="102.02" y2="216.30" stroke="#f5f6f7"/><line x1="112.95" y1="220.43" x2="106.93" y2="217.08" stroke="#f6b293"/><line x1="117.47" y1="221.92" x2="113.98" y2="215.99" stroke="#aad1e5"/><line x1="118.73" y1="221.39" x2="123.28" y2="216.23" stroke="#e8f0f4"/><line x1="128.74" y1="221.89" x2="124.89" y2="216.19" stroke="#c3deec"/><line x1="130.80" y1="222.08" x2="134.33" y2="216.17" stroke="#acd2e6"/><line x1="134.83" y1="220.22" x2="141.08" y2="217.34" stroke="#ed9475"/><line x1="39.88" y1="225.42" x2="33.22" y2="223.66" stroke="#c94741"/><line x1="45.29" y1="225.12" x2="38.45" y2="224.26" stroke="#a31329"/><line x1="51.24" y1="224.85" x2="44.38" y2="224.13" stroke="#991027"/><line x1="56.83" y1="225.06" x2="50.07" y2="223.71" stroke="#bb2a34"/><line x1="55.77" y1="224.91" x2="62.61" y2="224.03" stroke="#a51429"/><line x1="66.68" y1="227.50" x2="63.19" y2="221.57" stroke="#aad1e5"/><line x1="70.84" y1="228.02" x2="70.27" y2="221.17" stroke="#144c88"/><line x1="76.54" y1="227.84" x2="75.57" y2="221.04" stroke="#1e61a4"/><line x1="81.96" y1="228.20" x2="81.42" y2="221.35" stroke="#134b87"/><line x1="83.93" y1="225.02" x2="90.71" y2="223.81" stroke="#b7212f"/><line x1="96.14" y1="225.10" x2="89.29" y2="224.40" stroke="#981027"/><line x1="101.77" y1="226.06" x2="95.38" y2="223.49" stroke="#e37e64"/><line x1="107.01" y1="226.42" x2="101.14" y2="222.81" stroke="#f9c1a6"/><line x1="106.64" y1="226.45" x2="112.69" y2="223.15" stroke="#f6af8f"/><line x1="118.51" y1="226.54" x2="112.63" y2="222.95" stroke="#f8c0a4"/><line x1="123.83" y1="226.77" x2="118.82" y2="222.05" stroke="#f8f2ef"/><line x1="129.93" y1="225.78" x2="123.68" y2="222.89" stroke="#ed9576"/><line x1="135.91" y1="226.11" x2="129.58" y2="223.39" stroke="#e8896d"/><line x1="135.03" y1="226.02" x2="141.37" y2="223.34" stroke="#e7866a"/><line x1="39.66" y1="231.32" x2="33.12" y2="229.14" stroke="#d7634f"/><line x1="38.82" y1="230.56" x2="45.65" y2="229.64" stroke="#a71529"/><line x1="51.29" y1="231.02" x2="44.54" y2="229.60" stroke="#be2f36"/><line x1="56.47" y1="231.14" x2="49.97" y2="228.86" stroke="#da6a55"/><line x1="55.86" y1="231.65" x2="62.02" y2="228.57" stroke="#f3a280"/><line x1="64.96" y1="233.66" x2="64.70" y2="226.79" stroke="#0c3d73"/><line x1="73.24" y1="232.08" x2="67.30" y2="228.60" stroke="#f7b99c"/><line x1="72.43" y1="230.75" x2="79.24" y2="229.67" stroke="#b2182b"/><line x1="82.27" y1="233.85" x2="81.31" y2="227.04" stroke="#1e60a4"/><line x1="89.15" y1="233.05" x2="85.55" y2="227.19" stroke="#b1d5e7"/><line x1="89.64" y1="231.75" x2="95.92" y2="228.92" stroke="#eb9072"/><line x1="95.06" y1="230.35" x2="101.91" y2="229.65" stroke="#981027"/><line x1="107.90" y1="230.53" x2="101.08" y2="229.52" stroke="#ae172a"/><line x1="106.73" y1="231.01" x2="113.53" y2="229.90" stroke="#b31a2c"/><line x1="112.39" y1="230.59" x2="119.19" y2="229.41" stroke="#b51f2e"/><line x1="117.78" y1="230.98" x2="124.53" y2="229.60" stroke="#bc2d35"/><line x1="130.09" y1="231.97" x2="123.98" y2="228.79" stroke="#f5a987"/><line x1="129.22" y1="230.68" x2="135.96" y2="229.27" stroke="#bd2f36"/><line x1="141.68" y1="230.54" x2="134.83" y2="229.78" stroke="#9c1127"/><line x1="33.01" y1="236.48" x2="39.80" y2="235.25" stroke="#b72330"/><line x1="45.56" y1="236.68" x2="38.77" y2="235.47" stroke="#b6212f"/><line x1="50.96" y1="237.11" x2="44.43" y2="234.91" stroke="#d86551"/><line x1="52.55" y1="239.09" x2="54.62" y2="232.53" stroke="#4190c2"/><line x1="60.97" y1="238.75" x2="57.17" y2="233.01" stroke="#bfdceb"/><line x1="63.53" y1="238.78" x2="66.25" y2="232.47" stroke="#71b0d3"/><line x1="72.05" y1="239.02" x2="68.63" y2="233.05" stroke="#a5cfe3"/><line x1="76.53" y1="239.50" x2="75.91" y2="232.65" stroke="#154f8c"/><line x1="84.11" y1="238.24" x2="79.53" y2="233.10" stroke="#e9f0f4"/><line x1="86.76" y1="239.27" x2="87.49" y2="232.43" stroke="#185493"/><line x1="95.77" y1="237.96" x2="90.55" y2="233.47" stroke="#faeae0"/><line x1="101.82" y1="236.74" x2="95.07" y2="235.37" stroke="#bc2c34"/><line x1="100.60" y1="236.40" x2="107.47" y2="235.80" stroke="#910d26"/><line x1="113.41" y1="236.01" x2="106.56" y2="235.27" stroke="#9b1127"/><line x1="119.21" y1="236.34" x2="112.34" y2="235.74" stroke="#910d26"/><line x1="124.58" y1="236.45" x2="117.77" y2="235.36" stroke="#b2192b"/><line x1="130.13" y1="236.87" x2="123.57" y2="234.75" stroke="#d6604d"/><line x1="135.91" y1="236.32" x2="129.04" y2="235.68" stroke="#940e26"/><line x1="141.68" y1="236.58" x2="134.86" y2="235.61" stroke="#ab162a"/><line x1="40.10" y1="242.19" x2="33.28" y2="241.17" stroke="#ae172a"/><line x1="45.35" y1="242.19" x2="38.53" y2="241.22" stroke="#aa162a"/><line x1="50.97" y1="242.76" x2="44.45" y2="240.55" stroke="#d96652"/><line x1="56.49" y1="243.11" x2="50.50" y2="239.71" stroke="#f7b596"/><line x1="56.65" y1="243.95" x2="61.85" y2="239.44" stroke="#faebe2"/><line x1="61.09" y1="242.08" x2="67.90" y2="240.98" stroke="#b3192c"/><line x1="67.00" y1="242.02" x2="73.75" y2="240.63" stroke="#bd2d35"/><line x1="78.88" y1="242.94" x2="72.67" y2="239.95" stroke="#f09c7b"/><line x1="83.76" y1="243.78" x2="79.08" y2="238.72" stroke="#edf2f5"/><line x1="84.66" y1="244.00" x2="89.52" y2="239.12" stroke="#f6f7f7"/><line x1="95.22" y1="244.02" x2="90.47" y2="239.03" stroke="#f1f4f6"/><line x1="95.27" y1="241.71" x2="102.12" y2="240.91" stroke="#9f1228"/><line x1="107.48" y1="241.92" x2="100.70" y2="240.67" stroke="#b82431"/><line x1="113.50" y1="242.09" x2="106.65" y2="241.31" stroke="#9d1128"/><line x1="112.24" y1="242.27" x2="119.00" y2="240.94" stroke="#bb2933"/><line x1="124.67" y1="242.10" x2="117.83" y2="241.25" stroke="#a21329"/><line x1="123.67" y1="242.04" x2="130.48" y2="241.00" stroke="#b0172b"/><line x1="129.34" y1="241.96" x2="136.16" y2="240.90" stroke="#b1182b"/><line x1="134.91" y1="241.69" x2="141.76" y2="240.88" stroke="#9f1228"/><line x1="39.42" y1="248.89" x2="33.38" y2="245.58" stroke="#f6b090"/><line x1="39.09" y1="248.75" x2="45.15" y2="245.47" stroke="#f5ae8d"/><line x1="44.41" y1="247.71" x2="51.11" y2="246.11" stroke="#c43b3c"/><line x1="50.22" y1="248.22" x2="56.66" y2="245.75" stroke="#e0775f"/><line x1="62.38" y1="248.47" x2="56.08" y2="245.67" stroke="#ea8e70"/><line x1="67.57" y1="248.67" x2="61.54" y2="245.35" stroke="#f6b090"/><line x1="73.64" y1="248.16" x2="66.93" y2="246.59" stroke="#c33a3b"/><line x1="79.60" y1="247.77" x2="72.83" y2="246.46" stroke="#ba2832"/><line x1="78.20" y1="247.73" x2="85.00" y2="246.57" stroke="#b51e2e"/><line x1="84.93" y1="249.65" x2="89.52" y2="244.52" stroke="#e9f0f4"/><line x1="91.30" y1="249.94" x2="94.49" y2="243.84" stroke="#96c7df"/><line x1="98.02" y1="250.67" x2="98.92" y2="243.85" stroke="#1c5da0"/><line x1="102.14" y1="249.75" x2="106.07" y2="244.09" stroke="#c8e0ed"/><line x1="112.83" y1="248.90" x2="106.93" y2="245.34" stroke="#f8bea2"/><line x1="112.54" y1="248.64" x2="118.54" y2="245.25" stroke="#f7b495"/><line x1="117.66" y1="248.05" x2="124.34" y2="246.37" stroke="#c7423f"/><line x1="123.54" y1="248.24" x2="129.91" y2="245.61" stroke="#e58368"/><line x1="135.78" y1="248.86" x2="129.65" y2="245.72" stroke="#f4a684"/><line x1="141.01" y1="248.92" x2="135.13" y2="245.33" stroke="#f8c0a4"/><line x1="34.45" y1="255.52" x2="38.82" y2="250.19" stroke="#dfecf3"/><line x1="43.86" y1="255.67" x2="40.20" y2="249.84" stroke="#b6d7e8"/><line x1="46.14" y1="256.04" x2="49.22" y2="249.89" stroke="#8ec3dd"/><line x1="50.50" y1="254.58" x2="56.37" y2="250.97" stroke="#f9c1a6"/><line x1="62.26" y1="254.34" x2="55.94" y2="251.61" stroke="#e88a6d"/><line x1="67.97" y1="254.21" x2="61.66" y2="251.43" stroke="#e98c6f"/><line x1="73.25" y1="254.56" x2="67.40" y2="250.92" stroke="#f9c3a8"/><line x1="78.84" y1="254.45" x2="72.80" y2="251.14" stroke="#f6b090"/><line x1="84.23" y1="255.14" x2="79.14" y2="250.50" stroke="#f9efe9"/><line x1="85.82" y1="256.00" x2="88.44" y2="249.64" stroke="#69abd0"/><line x1="95.36" y1="255.17" x2="90.43" y2="250.36" stroke="#f7f5f4"/><line x1="95.32" y1="253.37" x2="102.07" y2="251.97" stroke="#bd2e35"/><line x1="107.56" y1="253.70" x2="100.96" y2="251.72" stroke="#d15648"/><line x1="110.39" y1="256.30" x2="109.61" y2="249.47" stroke="#195798"/><line x1="112.26" y1="254.16" x2="118.53" y2="251.31" stroke="#ec9274"/><line x1="124.08" y1="255.07" x2="118.78" y2="250.67" stroke="#fae7db"/><line x1="129.22" y1="255.11" x2="124.69" y2="249.93" stroke="#e7eff4"/><line x1="130.41" y1="255.42" x2="134.09" y2="249.61" stroke="#b6d8e8"/><line x1="140.48" y1="255.09" x2="135.36" y2="250.49" stroke="#f9eee7"/><line x1="38.12" y1="261.29" x2="34.60" y2="255.38" stroke="#acd2e5"/><line x1="44.13" y1="261.47" x2="40.47" y2="255.65" stroke="#b6d7e8"/><line x1="45.24" y1="260.58" x2="50.53" y2="256.17" stroke="#fae7dc"/><line x1="52.89" y1="261.98" x2="54.33" y2="255.25" stroke="#2d76b4"/><line x1="62.44" y1="258.76" x2="55.64" y2="257.63" stroke="#b41c2d"/><line x1="67.46" y1="260.35" x2="61.60" y2="256.73" stroke="#f9c2a7"/><line x1="73.50" y1="259.65" x2="66.98" y2="257.43" stroke="#d96752"/><line x1="79.34" y1="259.27" x2="72.82" y2="257.04" stroke="#d96753"/><line x1="82.50" y1="261.52" x2="80.68" y2="254.89" stroke="#3986bc"/><line x1="89.66" y1="261.14" x2="84.93" y2="256.14" stroke="#f0f4f6"/><line x1="96.21" y1="258.69" x2="89.35" y2="258.00" stroke="#970f27"/><line x1="94.99" y1="259.05" x2="101.78" y2="257.88" stroke="#b51e2e"/><line x1="101.01" y1="259.51" x2="107.56" y2="257.36" stroke="#d7624f"/><line x1="107.47" y1="260.98" x2="112.49" y2="256.27" stroke="#f8f2ee"/><line x1="114.41" y1="261.56" x2="117.04" y2="255.20" stroke="#6aabd0"/><line x1="122.23" y1="261.45" x2="120.00" y2="254.94" stroke="#4b98c6"/><line x1="123.64" y1="259.89" x2="130.06" y2="257.37" stroke="#e27b62"/><line x1="132.12" y1="261.94" x2="132.79" y2="255.10" stroke="#16518f"/><line x1="136.01" y1="261.05" x2="140.42" y2="255.77" stroke="#e1edf3"/><line x1="39.23" y1="266.52" x2="34.06" y2="261.98" stroke="#f9ece4"/><line x1="43.99" y1="267.19" x2="40.55" y2="261.24" stroke="#a7d0e4"/><line x1="50.17" y1="266.48" x2="45.75" y2="261.21" stroke="#e2edf3"/><line x1="53.93" y1="267.34" x2="53.09" y2="260.51" stroke="#1b5a9c"/><line x1="62.54" y1="264.60" x2="55.78" y2="263.25" stroke="#bc2b34"/><line x1="67.99" y1="264.23" x2="61.13" y2="263.59" stroke="#930e26"/><line x1="67.45" y1="265.42" x2="73.74" y2="262.61" stroke="#eb8f71"/><line x1="73.54" y1="266.71" x2="78.17" y2="261.61" stroke="#ebf1f5"/><line x1="79.20" y1="266.12" x2="84.29" y2="261.48" stroke="#f9efea"/><line x1="87.13" y1="267.59" x2="87.80" y2="260.74" stroke="#16518f"/><line x1="96.29" y1="264.41" x2="89.48" y2="263.37" stroke="#af172b"/><line x1="101.86" y1="264.68" x2="95.07" y2="263.48" stroke="#b6202f"/><line x1="107.42" y1="265.55" x2="101.25" y2="262.49" stroke="#f2a17f"/><line x1="106.29" y1="264.76" x2="113.11" y2="263.73" stroke="#ae172a"/><line x1="111.92" y1="264.78" x2="118.72" y2="263.61" stroke="#b51e2e"/><line x1="119.64" y1="267.04" x2="123.05" y2="261.06" stroke="#a5cfe3"/><line x1="125.21" y1="267.23" x2="128.33" y2="261.10" stroke="#91c5de"/><line x1="132.48" y1="267.45" x2="132.79" y2="260.58" stroke="#0d3f76"/><line x1="141.30" y1="265.18" x2="134.76" y2="262.99" stroke="#d86450"/><line x1="39.97" y1="270.05" x2="33.15" y2="269.02" stroke="#af172b"/><line x1="38.88" y1="270.89" x2="45.43" y2="268.77" stroke="#d6604d"/><line x1="51.27" y1="270.27" x2="44.52" y2="268.85" stroke="#be2f36"/><line x1="50.22" y1="271.16" x2="56.58" y2="268.50" stroke="#e68469"/><line x1="62.63" y1="269.79" x2="55.76" y2="269.19" stroke="#910d26"/><line x1="61.57" y1="271.08" x2="67.89" y2="268.33" stroke="#e98b6e"/><line x1="73.29" y1="271.55" x2="67.25" y2="268.23" stroke="#f6b090"/><line x1="78.80" y1="271.13" x2="72.74" y2="267.85" stroke="#f5ae8d"/><line x1="83.80" y1="272.52" x2="79.32" y2="267.29" stroke="#e4eef4"/><line x1="85.53" y1="272.45" x2="88.90" y2="266.45" stroke="#a1cde2"/><line x1="94.84" y1="272.50" x2="91.35" y2="266.57" stroke="#aad1e5"/><line x1="95.83" y1="271.64" x2="101.16" y2="267.28" stroke="#fbe6d9"/><line x1="101.03" y1="269.97" x2="107.87" y2="269.15" stroke="#a01228"/><line x1="106.69" y1="270.32" x2="113.42" y2="268.81" stroke="#c13539"/><line x1="114.07" y1="272.82" x2="116.84" y2="266.53" stroke="#75b3d4"/><line x1="122.58" y1="272.89" x2="119.79" y2="266.61" stroke="#77b4d5"/><line x1="124.58" y1="272.33" x2="129.36" y2="267.37" stroke="#f2f5f6"/><line x1="129.33" y1="271.08" x2="135.50" y2="268.01" stroke="#f2a27f"/><line x1="141.51" y1="270.12" x2="134.73" y2="268.88" stroke="#b82330"/></g><rect x="30.8" y="162.6" width="21.2" height="21.4" fill="#fff"/><rect x="30.8" y="162.6" width="113.0" height="112.70" fill="none" stroke="#3a3a3a" stroke-width="0.85"/><path d="M53.40 275.30v-1.3M53.40 162.60v1.3M30.80 185.14h1.3M143.80 185.14h-1.3" stroke="#3a3a3a" stroke-width="0.85"/><text transform="translate(53.40 286.20) scale(0.94 1.08)" font-size="8.4" text-anchor="middle" >5</text><text transform="translate(28.20 188.24) scale(0.94 1.08)" font-size="8.4" text-anchor="end" >5</text><path d="M81.65 275.30v-1.3M81.65 162.60v1.3M30.80 213.31h1.3M143.80 213.31h-1.3" stroke="#3a3a3a" stroke-width="0.85"/><text transform="translate(81.65 286.20) scale(0.94 1.08)" font-size="8.4" text-anchor="middle" >10</text><text transform="translate(28.20 216.41) scale(0.94 1.08)" font-size="8.4" text-anchor="end" >10</text><path d="M109.90 275.30v-1.3M109.90 162.60v1.3M30.80 241.49h1.3M143.80 241.49h-1.3" stroke="#3a3a3a" stroke-width="0.85"/><text transform="translate(109.90 286.20) scale(0.94 1.08)" font-size="8.4" text-anchor="middle" >15</text><text transform="translate(28.20 244.59) scale(0.94 1.08)" font-size="8.4" text-anchor="end" >15</text><path d="M138.15 275.30v-1.3M138.15 162.60v1.3M30.80 269.67h1.3M143.80 269.67h-1.3" stroke="#3a3a3a" stroke-width="0.85"/><text transform="translate(138.15 286.20) scale(0.94 1.08)" font-size="8.4" text-anchor="middle" >20</text><text transform="translate(28.20 272.77) scale(0.94 1.08)" font-size="8.4" text-anchor="end" >20</text><text transform="translate(87.30 297.50) scale(1.0 1.1)" font-size="9.6" text-anchor="middle" >X</text><text transform="translate(16.40,219.25) rotate(-90) scale(1.05 1.04)" font-size="10" text-anchor="middle">Y</text><text transform="translate(31.00 179.20) scale(0.93 1.0)" font-size="20" text-anchor="start" fill="#000" stroke="#000" stroke-width="0.3">(e)</text><g stroke-width="1.12" stroke-linecap="butt"><line x1="183.15" y1="170.45" x2="187.96" y2="165.53" stroke="#f4f6f6"/><line x1="193.30" y1="170.54" x2="188.47" y2="165.64" stroke="#f5f6f7"/><line x1="199.12" y1="170.89" x2="194.61" y2="165.69" stroke="#e5eff4"/><line x1="205.49" y1="168.59" x2="198.66" y2="167.69" stroke="#a61429"/><line x1="211.46" y1="168.43" x2="204.62" y2="167.58" stroke="#a31329"/><line x1="216.93" y1="168.60" x2="210.10" y2="167.63" stroke="#ab162a"/><line x1="222.43" y1="168.70" x2="215.58" y2="167.96" stroke="#9b1127"/><line x1="228.10" y1="169.40" x2="221.55" y2="167.25" stroke="#d7624f"/><line x1="233.90" y1="169.04" x2="227.30" y2="167.06" stroke="#d15648"/><line x1="237.95" y1="171.22" x2="234.12" y2="165.51" stroke="#c2ddec"/><line x1="241.16" y1="171.61" x2="242.92" y2="164.97" stroke="#3783bb"/><line x1="248.64" y1="171.68" x2="246.11" y2="165.29" stroke="#63a7ce"/><line x1="255.06" y1="171.17" x2="251.45" y2="165.31" stroke="#b1d5e7"/><line x1="258.02" y1="171.48" x2="260.02" y2="164.90" stroke="#3f8dc0"/><line x1="263.47" y1="171.69" x2="265.68" y2="165.18" stroke="#4997c5"/><line x1="270.33" y1="171.66" x2="269.79" y2="164.80" stroke="#134b86"/><line x1="277.07" y1="171.17" x2="273.97" y2="165.03" stroke="#90c4dd"/><line x1="284.49" y1="169.29" x2="277.89" y2="167.30" stroke="#d15749"/><line x1="290.15" y1="169.38" x2="283.59" y2="167.26" stroke="#d6604d"/><line x1="183.12" y1="176.23" x2="187.99" y2="171.36" stroke="#f6f7f7"/><line x1="193.71" y1="176.10" x2="188.39" y2="171.73" stroke="#fbe6da"/><line x1="199.40" y1="176.23" x2="194.15" y2="171.78" stroke="#fae8de"/><line x1="205.92" y1="174.38" x2="199.13" y2="173.17" stroke="#b7212f"/><line x1="211.36" y1="174.73" x2="204.61" y2="173.33" stroke="#bd2d35"/><line x1="217.18" y1="174.59" x2="210.36" y2="173.56" stroke="#af172a"/><line x1="222.68" y1="174.12" x2="215.83" y2="173.37" stroke="#9b1127"/><line x1="228.19" y1="175.01" x2="221.64" y2="172.86" stroke="#d7624e"/><line x1="233.91" y1="175.05" x2="227.58" y2="172.31" stroke="#e88a6d"/><line x1="234.06" y1="176.27" x2="238.65" y2="171.13" stroke="#e9f0f4"/><line x1="243.24" y1="177.15" x2="240.01" y2="171.08" stroke="#99c8e0"/><line x1="246.73" y1="177.00" x2="248.71" y2="170.41" stroke="#3e8cc0"/><line x1="250.48" y1="176.40" x2="255.62" y2="171.82" stroke="#f9ede6"/><line x1="259.66" y1="177.26" x2="258.19" y2="170.54" stroke="#2e77b5"/><line x1="265.27" y1="177.03" x2="263.83" y2="170.30" stroke="#2d75b4"/><line x1="272.67" y1="176.28" x2="267.85" y2="171.36" stroke="#f4f6f6"/><line x1="279.36" y1="174.25" x2="272.55" y2="173.24" stroke="#ae172a"/><line x1="284.51" y1="174.76" x2="277.97" y2="172.61" stroke="#d7624e"/><line x1="290.19" y1="175.06" x2="283.91" y2="172.24" stroke="#eb9072"/><line x1="182.75" y1="182.17" x2="187.51" y2="177.20" stroke="#f1f4f6"/><line x1="188.57" y1="181.92" x2="193.57" y2="177.19" stroke="#f8f2ef"/><line x1="193.80" y1="181.63" x2="199.05" y2="177.17" stroke="#fae9df"/><line x1="205.78" y1="180.16" x2="198.97" y2="179.09" stroke="#b2182b"/><line x1="211.16" y1="179.93" x2="204.40" y2="178.60" stroke="#bb2933"/><line x1="217.12" y1="180.17" x2="210.36" y2="178.86" stroke="#ba2833"/><line x1="222.75" y1="180.06" x2="215.89" y2="179.33" stroke="#991027"/><line x1="228.02" y1="180.72" x2="221.57" y2="178.30" stroke="#df745c"/><line x1="227.92" y1="181.99" x2="232.81" y2="177.14" stroke="#f7f7f6"/><line x1="233.72" y1="182.00" x2="238.78" y2="177.33" stroke="#f8f0eb"/><line x1="244.57" y1="181.77" x2="239.39" y2="177.24" stroke="#faebe3"/><line x1="251.07" y1="179.93" x2="244.22" y2="179.15" stroke="#9e1228"/><line x1="254.70" y1="182.57" x2="251.54" y2="176.46" stroke="#94c6df"/><line x1="261.52" y1="181.86" x2="256.34" y2="177.33" stroke="#faebe3"/><line x1="262.64" y1="182.60" x2="266.44" y2="176.86" stroke="#bfdceb"/><line x1="273.45" y1="180.53" x2="267.04" y2="178.00" stroke="#e27c62"/><line x1="279.05" y1="181.00" x2="272.82" y2="178.06" stroke="#ef9878"/><line x1="284.45" y1="180.72" x2="277.90" y2="178.60" stroke="#d6604d"/><line x1="290.16" y1="181.21" x2="284.03" y2="178.08" stroke="#f4a683"/><line x1="188.64" y1="185.74" x2="181.85" y2="184.56" stroke="#b61f2e"/><line x1="194.19" y1="185.55" x2="187.39" y2="184.44" stroke="#b31a2c"/><line x1="200.10" y1="185.34" x2="193.24" y2="184.68" stroke="#940f26"/><line x1="205.81" y1="185.59" x2="198.97" y2="184.75" stroke="#a11328"/><line x1="211.26" y1="185.58" x2="204.43" y2="184.65" stroke="#a81529"/><line x1="216.88" y1="185.62" x2="210.08" y2="184.49" stroke="#b41b2d"/><line x1="222.48" y1="185.71" x2="215.68" y2="184.54" stroke="#b51e2e"/><line x1="228.39" y1="185.77" x2="221.68" y2="184.20" stroke="#c33a3b"/><line x1="233.51" y1="187.02" x2="227.52" y2="183.62" stroke="#f7b596"/><line x1="239.46" y1="186.57" x2="233.34" y2="183.40" stroke="#f4a885"/><line x1="244.18" y1="187.60" x2="239.06" y2="182.99" stroke="#f9eee7"/><line x1="251.10" y1="185.75" x2="244.35" y2="184.34" stroke="#bd2f36"/><line x1="256.39" y1="186.16" x2="249.87" y2="183.94" stroke="#d96752"/><line x1="261.94" y1="186.49" x2="255.74" y2="183.50" stroke="#f09b7b"/><line x1="261.45" y1="186.73" x2="267.54" y2="183.51" stroke="#f5ab89"/><line x1="273.27" y1="185.88" x2="266.62" y2="184.09" stroke="#cb4942"/><line x1="279.10" y1="186.34" x2="272.50" y2="184.36" stroke="#d15648"/><line x1="284.59" y1="186.85" x2="278.49" y2="183.65" stroke="#f5a988"/><line x1="290.26" y1="186.33" x2="283.91" y2="183.66" stroke="#e6856a"/><line x1="188.71" y1="191.15" x2="181.90" y2="190.10" stroke="#b0172b"/><line x1="194.41" y1="191.52" x2="187.62" y2="190.36" stroke="#b51e2e"/><line x1="199.79" y1="191.22" x2="193.03" y2="189.85" stroke="#bc2c34"/><line x1="198.95" y1="191.48" x2="205.73" y2="190.25" stroke="#b72330"/><line x1="211.44" y1="191.52" x2="204.66" y2="190.31" stroke="#b6212f"/><line x1="216.91" y1="191.02" x2="210.06" y2="190.22" stroke="#9f1228"/><line x1="222.43" y1="191.30" x2="215.57" y2="190.66" stroke="#940e26"/><line x1="227.99" y1="191.84" x2="221.39" y2="189.85" stroke="#d15749"/><line x1="233.62" y1="191.59" x2="227.06" y2="189.49" stroke="#d55e4c"/><line x1="239.21" y1="192.27" x2="232.79" y2="189.76" stroke="#e27b61"/><line x1="239.47" y1="193.28" x2="244.36" y2="188.44" stroke="#f7f6f6"/><line x1="251.05" y1="191.11" x2="244.24" y2="190.06" stroke="#b1182b"/><line x1="256.62" y1="190.99" x2="249.77" y2="190.25" stroke="#9b1127"/><line x1="262.37" y1="191.22" x2="255.52" y2="190.46" stroke="#9c1127"/><line x1="268.00" y1="191.22" x2="261.23" y2="189.95" stroke="#b92631"/><line x1="273.37" y1="191.41" x2="266.52" y2="190.60" stroke="#a01228"/><line x1="279.16" y1="191.36" x2="272.36" y2="190.23" stroke="#b41c2d"/><line x1="277.90" y1="191.21" x2="284.75" y2="190.45" stroke="#9b1127"/><line x1="283.76" y1="191.11" x2="290.62" y2="190.45" stroke="#950f26"/><line x1="188.74" y1="196.65" x2="181.89" y2="195.84" stroke="#9f1228"/><line x1="194.46" y1="196.71" x2="187.64" y2="195.77" stroke="#a81529"/><line x1="200.20" y1="196.69" x2="193.35" y2="195.92" stroke="#9d1128"/><line x1="205.86" y1="197.11" x2="199.08" y2="195.87" stroke="#b82330"/><line x1="211.52" y1="197.04" x2="204.75" y2="195.76" stroke="#b92632"/><line x1="216.80" y1="196.62" x2="209.95" y2="195.87" stroke="#9b1127"/><line x1="222.72" y1="197.46" x2="216.11" y2="195.49" stroke="#d05548"/><line x1="228.13" y1="197.47" x2="221.59" y2="195.30" stroke="#d76350"/><line x1="233.70" y1="198.15" x2="227.50" y2="195.16" stroke="#f09c7b"/><line x1="239.45" y1="197.65" x2="233.10" y2="194.98" stroke="#e68569"/><line x1="244.03" y1="198.93" x2="239.35" y2="193.88" stroke="#edf2f5"/><line x1="244.31" y1="197.15" x2="251.05" y2="195.72" stroke="#be3036"/><line x1="249.97" y1="197.11" x2="256.74" y2="195.79" stroke="#ba2933"/><line x1="262.39" y1="196.62" x2="255.55" y2="195.72" stroke="#a61429"/><line x1="267.41" y1="197.93" x2="261.43" y2="194.51" stroke="#f7b698"/><line x1="273.17" y1="197.58" x2="266.77" y2="195.02" stroke="#e37d63"/><line x1="272.35" y1="197.47" x2="278.83" y2="195.14" stroke="#dc6e58"/><line x1="278.79" y1="198.71" x2="283.76" y2="193.94" stroke="#f8f4f1"/><line x1="283.41" y1="196.81" x2="290.26" y2="196.03" stroke="#9d1128"/><line x1="188.49" y1="202.67" x2="181.72" y2="201.38" stroke="#b92632"/><line x1="194.60" y1="202.72" x2="187.78" y2="201.72" stroke="#ad162a"/><line x1="193.50" y1="202.72" x2="200.28" y2="201.51" stroke="#b7212f"/><line x1="205.57" y1="202.78" x2="198.82" y2="201.39" stroke="#bd2e35"/><line x1="211.43" y1="202.80" x2="204.68" y2="201.40" stroke="#bd2e35"/><line x1="216.89" y1="202.61" x2="210.15" y2="201.16" stroke="#bf3237"/><line x1="222.69" y1="203.34" x2="216.13" y2="201.24" stroke="#d55e4c"/><line x1="227.98" y1="203.06" x2="221.36" y2="201.14" stroke="#cf5246"/><line x1="233.90" y1="203.66" x2="227.65" y2="200.76" stroke="#ed9576"/><line x1="239.18" y1="203.48" x2="232.87" y2="200.73" stroke="#e98b6e"/><line x1="245.02" y1="203.74" x2="239.02" y2="200.35" stroke="#f7b495"/><line x1="250.85" y1="202.51" x2="244.08" y2="201.22" stroke="#b92732"/><line x1="250.92" y1="204.49" x2="255.33" y2="199.21" stroke="#e1ecf3"/><line x1="259.90" y1="205.42" x2="258.13" y2="198.78" stroke="#3783bb"/><line x1="264.14" y1="205.33" x2="264.47" y2="198.46" stroke="#0d4077"/><line x1="271.66" y1="204.92" x2="268.27" y2="198.93" stroke="#a3cee3"/><line x1="273.22" y1="204.18" x2="278.51" y2="199.77" stroke="#fae7dc"/><line x1="283.97" y1="204.18" x2="278.73" y2="199.72" stroke="#fae9df"/><line x1="290.58" y1="202.65" x2="283.73" y2="201.92" stroke="#9a1027"/><line x1="182.42" y1="208.99" x2="188.60" y2="205.96" stroke="#f19e7d"/><line x1="194.40" y1="208.06" x2="187.55" y2="207.24" stroke="#a01228"/><line x1="200.26" y1="208.32" x2="193.50" y2="207.02" stroke="#ba2832"/><line x1="198.89" y1="207.86" x2="205.75" y2="207.24" stroke="#920e26"/><line x1="204.65" y1="208.21" x2="211.38" y2="206.72" stroke="#c03438"/><line x1="216.72" y1="208.92" x2="210.46" y2="206.02" stroke="#ed9576"/><line x1="222.23" y1="208.95" x2="215.91" y2="206.21" stroke="#e88a6d"/><line x1="227.91" y1="208.71" x2="221.39" y2="206.49" stroke="#d96652"/><line x1="233.81" y1="209.35" x2="227.77" y2="206.04" stroke="#f6af8f"/><line x1="233.16" y1="208.74" x2="239.57" y2="206.21" stroke="#e27b62"/><line x1="245.12" y1="208.23" x2="238.41" y2="206.66" stroke="#c33a3b"/><line x1="244.37" y1="208.17" x2="251.13" y2="206.82" stroke="#bb2a34"/><line x1="255.47" y1="210.29" x2="250.69" y2="205.33" stroke="#f2f5f6"/><line x1="260.27" y1="210.92" x2="256.92" y2="204.91" stroke="#a1cde2"/><line x1="264.23" y1="210.94" x2="264.57" y2="204.08" stroke="#0e4178"/><line x1="268.32" y1="210.31" x2="272.18" y2="204.61" stroke="#c4deec"/><line x1="272.19" y1="208.27" x2="279.04" y2="207.50" stroke="#9c1128"/><line x1="279.05" y1="210.19" x2="283.44" y2="204.89" stroke="#e0ecf3"/><line x1="283.93" y1="209.18" x2="290.14" y2="206.21" stroke="#ef9a7a"/><line x1="188.28" y1="214.98" x2="182.19" y2="211.77" stroke="#f5aa89"/><line x1="194.45" y1="213.88" x2="187.67" y2="212.65" stroke="#b82330"/><line x1="200.07" y1="213.88" x2="193.27" y2="212.73" stroke="#b51d2d"/><line x1="205.82" y1="213.72" x2="199.00" y2="212.71" stroke="#ad172a"/><line x1="204.87" y1="214.35" x2="211.45" y2="212.32" stroke="#d35a4a"/><line x1="216.93" y1="214.08" x2="210.31" y2="212.18" stroke="#ce5146"/><line x1="222.62" y1="214.57" x2="216.21" y2="212.04" stroke="#e27b62"/><line x1="227.88" y1="215.26" x2="221.89" y2="211.86" stroke="#f7b596"/><line x1="233.59" y1="214.68" x2="227.27" y2="211.93" stroke="#e98b6e"/><line x1="239.56" y1="214.41" x2="233.15" y2="211.89" stroke="#e27b61"/><line x1="239.77" y1="215.72" x2="244.30" y2="210.54" stroke="#e7eff4"/><line x1="244.20" y1="215.03" x2="250.37" y2="211.96" stroke="#f2a17f"/><line x1="249.81" y1="214.10" x2="256.41" y2="212.11" stroke="#d15749"/><line x1="255.25" y1="214.00" x2="262.03" y2="212.77" stroke="#b72230"/><line x1="261.06" y1="213.76" x2="267.93" y2="213.14" stroke="#920e26"/><line x1="266.86" y1="213.94" x2="273.63" y2="212.62" stroke="#bb2933"/><line x1="272.87" y1="215.25" x2="278.20" y2="210.89" stroke="#fbe5d9"/><line x1="278.03" y1="214.24" x2="284.58" y2="212.11" stroke="#d6604d"/><line x1="289.63" y1="215.47" x2="284.44" y2="210.95" stroke="#faebe2"/><line x1="188.72" y1="219.90" x2="182.24" y2="217.58" stroke="#dc6d57"/><line x1="187.56" y1="219.54" x2="194.36" y2="218.40" stroke="#b41c2d"/><line x1="200.15" y1="219.63" x2="193.33" y2="218.69" stroke="#a9152a"/><line x1="198.97" y1="220.15" x2="205.54" y2="218.07" stroke="#d45d4b"/><line x1="211.28" y1="220.14" x2="205.01" y2="217.28" stroke="#ec9374"/><line x1="217.01" y1="219.81" x2="210.47" y2="217.63" stroke="#d86450"/><line x1="222.50" y1="219.90" x2="216.00" y2="217.61" stroke="#db6b56"/><line x1="227.80" y1="220.48" x2="221.68" y2="217.31" stroke="#f4a785"/><line x1="227.47" y1="220.24" x2="233.71" y2="217.30" stroke="#ee9878"/><line x1="239.51" y1="220.72" x2="233.37" y2="217.58" stroke="#f4a683"/><line x1="244.91" y1="220.48" x2="238.85" y2="217.20" stroke="#f5ae8d"/><line x1="244.03" y1="219.58" x2="250.71" y2="217.92" stroke="#c6403e"/><line x1="249.54" y1="219.44" x2="256.38" y2="218.66" stroke="#9d1128"/><line x1="255.55" y1="219.26" x2="262.36" y2="218.21" stroke="#b1182b"/><line x1="267.35" y1="220.35" x2="261.19" y2="217.26" stroke="#f3a380"/><line x1="267.26" y1="220.80" x2="273.32" y2="217.53" stroke="#f5ae8d"/><line x1="272.92" y1="220.33" x2="279.03" y2="217.14" stroke="#f5a987"/><line x1="284.25" y1="221.16" x2="278.98" y2="216.73" stroke="#fae8dd"/><line x1="284.20" y1="221.13" x2="289.41" y2="216.63" stroke="#faeae1"/><line x1="188.96" y1="225.21" x2="182.12" y2="224.40" stroke="#a01228"/><line x1="194.41" y1="225.31" x2="187.64" y2="224.01" stroke="#ba2732"/><line x1="199.78" y1="225.49" x2="193.03" y2="224.10" stroke="#bd2d35"/><line x1="198.85" y1="225.91" x2="205.37" y2="223.71" stroke="#d86551"/><line x1="211.19" y1="226.23" x2="205.17" y2="222.89" stroke="#f6b191"/><line x1="216.81" y1="226.09" x2="210.76" y2="222.80" stroke="#f6ae8e"/><line x1="222.27" y1="226.08" x2="216.13" y2="222.94" stroke="#f4a683"/><line x1="228.19" y1="225.94" x2="221.92" y2="223.08" stroke="#ec9274"/><line x1="234.02" y1="225.04" x2="227.20" y2="224.07" stroke="#aa162a"/><line x1="239.52" y1="225.09" x2="232.73" y2="223.91" stroke="#b51f2e"/><line x1="245.30" y1="225.32" x2="238.52" y2="224.08" stroke="#b82330"/><line x1="243.93" y1="225.06" x2="250.71" y2="223.82" stroke="#b82330"/><line x1="256.33" y1="225.13" x2="249.50" y2="224.25" stroke="#a41429"/><line x1="262.28" y1="224.97" x2="255.50" y2="223.71" stroke="#b82531"/><line x1="267.73" y1="225.86" x2="261.26" y2="223.47" stroke="#de725b"/><line x1="266.91" y1="226.15" x2="272.94" y2="222.81" stroke="#f6b191"/><line x1="272.48" y1="225.55" x2="278.93" y2="223.13" stroke="#df745c"/><line x1="284.62" y1="226.46" x2="278.59" y2="223.13" stroke="#f6b191"/><line x1="284.19" y1="226.28" x2="290.19" y2="222.90" stroke="#f6b495"/><line x1="188.52" y1="230.79" x2="181.74" y2="229.53" stroke="#b92531"/><line x1="187.67" y1="230.54" x2="194.52" y2="229.83" stroke="#991027"/><line x1="200.14" y1="230.73" x2="193.40" y2="229.33" stroke="#bd2e35"/><line x1="205.84" y1="230.94" x2="199.20" y2="229.12" stroke="#cb4b43"/><line x1="211.07" y1="231.71" x2="204.69" y2="229.11" stroke="#e48066"/><line x1="216.86" y1="230.55" x2="210.04" y2="229.60" stroke="#a9152a"/><line x1="222.62" y1="230.88" x2="215.80" y2="229.90" stroke="#ab162a"/><line x1="221.46" y1="231.05" x2="228.22" y2="229.72" stroke="#bb2933"/><line x1="233.92" y1="230.81" x2="227.08" y2="229.94" stroke="#a31329"/><line x1="239.45" y1="230.98" x2="232.65" y2="229.86" stroke="#b41b2c"/><line x1="245.44" y1="230.93" x2="238.66" y2="229.72" stroke="#b7212f"/><line x1="244.09" y1="230.87" x2="250.88" y2="229.71" stroke="#b51d2d"/><line x1="250.03" y1="231.44" x2="256.36" y2="228.72" stroke="#e8896c"/><line x1="255.68" y1="231.34" x2="262.24" y2="229.23" stroke="#d55f4c"/><line x1="261.54" y1="231.56" x2="267.72" y2="228.52" stroke="#f2a07e"/><line x1="272.96" y1="231.90" x2="266.88" y2="228.66" stroke="#f5ac8b"/><line x1="278.91" y1="232.04" x2="272.87" y2="228.74" stroke="#f6b08f"/><line x1="278.10" y1="231.01" x2="284.81" y2="229.42" stroke="#c43b3c"/><line x1="290.21" y1="231.43" x2="283.91" y2="228.64" stroke="#ea8d70"/><line x1="188.89" y1="236.14" x2="182.05" y2="235.29" stroke="#a31329"/><line x1="194.52" y1="236.43" x2="187.74" y2="235.17" stroke="#b82531"/><line x1="199.95" y1="236.32" x2="193.11" y2="235.42" stroke="#a61429"/><line x1="205.30" y1="237.52" x2="199.11" y2="234.49" stroke="#f19f7d"/><line x1="211.63" y1="236.00" x2="204.77" y2="235.36" stroke="#940e26"/><line x1="210.22" y1="236.53" x2="217.04" y2="235.52" stroke="#ad162a"/><line x1="222.43" y1="236.26" x2="215.58" y2="235.54" stroke="#9a1027"/><line x1="228.31" y1="236.11" x2="221.46" y2="235.38" stroke="#9a1027"/><line x1="234.18" y1="236.52" x2="227.41" y2="235.24" stroke="#b92631"/><line x1="239.06" y1="237.54" x2="233.03" y2="234.22" stroke="#f6b091"/><line x1="245.50" y1="236.02" x2="238.65" y2="235.32" stroke="#981027"/><line x1="244.34" y1="236.14" x2="251.16" y2="235.12" stroke="#ae172a"/><line x1="249.78" y1="236.44" x2="256.59" y2="235.35" stroke="#b2182b"/><line x1="255.60" y1="236.14" x2="262.44" y2="235.28" stroke="#a31329"/><line x1="261.23" y1="236.69" x2="267.99" y2="235.35" stroke="#bb2933"/><line x1="267.26" y1="237.44" x2="273.42" y2="234.34" stroke="#f3a481"/><line x1="272.46" y1="236.99" x2="278.85" y2="234.42" stroke="#e37e64"/><line x1="278.18" y1="237.36" x2="284.23" y2="234.06" stroke="#f6af8f"/><line x1="283.92" y1="237.09" x2="290.36" y2="234.64" stroke="#e0765e"/><line x1="188.55" y1="242.21" x2="181.77" y2="240.98" stroke="#b72330"/><line x1="194.51" y1="241.73" x2="187.66" y2="241.01" stroke="#991027"/><line x1="200.20" y1="242.00" x2="193.42" y2="240.76" stroke="#b72330"/><line x1="205.55" y1="241.73" x2="198.71" y2="240.88" stroke="#a21328"/><line x1="211.57" y1="241.85" x2="204.76" y2="240.75" stroke="#b3192c"/><line x1="217.24" y1="242.01" x2="210.39" y2="241.27" stroke="#9a1027"/><line x1="222.89" y1="241.77" x2="216.04" y2="240.96" stroke="#9f1228"/><line x1="228.42" y1="241.83" x2="221.57" y2="241.14" stroke="#971027"/><line x1="233.98" y1="241.88" x2="227.12" y2="241.18" stroke="#981027"/><line x1="239.71" y1="241.79" x2="232.86" y2="240.99" stroke="#9e1228"/><line x1="238.59" y1="242.08" x2="245.44" y2="241.32" stroke="#9c1128"/><line x1="244.23" y1="242.20" x2="250.99" y2="240.85" stroke="#bb2b34"/><line x1="249.87" y1="242.35" x2="256.45" y2="240.29" stroke="#d45c4b"/><line x1="261.92" y1="242.68" x2="255.64" y2="239.83" stroke="#ec9273"/><line x1="261.26" y1="242.72" x2="267.54" y2="239.88" stroke="#eb9173"/><line x1="267.06" y1="242.56" x2="273.61" y2="240.42" stroke="#d6614d"/><line x1="272.42" y1="242.88" x2="278.83" y2="240.35" stroke="#e27c63"/><line x1="284.33" y1="243.21" x2="278.12" y2="240.22" stroke="#f09c7b"/><line x1="284.14" y1="242.81" x2="290.40" y2="239.94" stroke="#ec9374"/><line x1="182.23" y1="248.55" x2="188.42" y2="245.53" stroke="#f19d7c"/><line x1="194.38" y1="247.65" x2="187.56" y2="246.71" stroke="#a9152a"/><line x1="199.93" y1="247.48" x2="193.07" y2="246.80" stroke="#970f27"/><line x1="205.75" y1="247.34" x2="198.91" y2="246.50" stroke="#a21328"/><line x1="211.35" y1="247.29" x2="204.50" y2="246.48" stroke="#9f1228"/><line x1="210.25" y1="247.60" x2="217.06" y2="246.54" stroke="#b1182b"/><line x1="215.71" y1="247.53" x2="222.57" y2="246.79" stroke="#9a1027"/><line x1="228.55" y1="247.47" x2="221.73" y2="246.51" stroke="#aa162a"/><line x1="233.88" y1="247.50" x2="227.06" y2="246.46" stroke="#af172b"/><line x1="239.56" y1="247.89" x2="232.90" y2="246.11" stroke="#ca4841"/><line x1="238.70" y1="247.85" x2="245.49" y2="246.71" stroke="#b41d2d"/><line x1="250.82" y1="247.48" x2="243.99" y2="246.58" stroke="#a61429"/><line x1="251.70" y1="249.92" x2="255.02" y2="243.89" stroke="#9ecbe1"/><line x1="257.10" y1="249.90" x2="260.49" y2="243.92" stroke="#a4cee3"/><line x1="262.73" y1="250.44" x2="265.87" y2="244.31" stroke="#92c5de"/><line x1="268.04" y1="249.95" x2="271.76" y2="244.16" stroke="#bad9e9"/><line x1="272.94" y1="248.87" x2="278.95" y2="245.50" stroke="#f6b394"/><line x1="278.20" y1="248.32" x2="284.53" y2="245.60" stroke="#e8896c"/><line x1="283.62" y1="248.47" x2="290.07" y2="246.04" stroke="#df745d"/><line x1="188.75" y1="253.78" x2="182.25" y2="251.47" stroke="#dc6d57"/><line x1="187.77" y1="253.19" x2="194.61" y2="252.32" stroke="#a41329"/><line x1="200.06" y1="253.21" x2="193.22" y2="252.41" stroke="#9f1228"/><line x1="205.91" y1="253.26" x2="199.15" y2="251.87" stroke="#bc2d35"/><line x1="211.13" y1="253.59" x2="204.37" y2="252.23" stroke="#bc2b34"/><line x1="217.27" y1="252.93" x2="210.40" y2="252.31" stroke="#920e26"/><line x1="222.85" y1="253.45" x2="216.02" y2="252.53" stroke="#a71529"/><line x1="228.04" y1="253.42" x2="221.34" y2="251.82" stroke="#c43b3c"/><line x1="227.65" y1="254.39" x2="233.91" y2="251.50" stroke="#ed9475"/><line x1="233.73" y1="255.47" x2="238.49" y2="250.49" stroke="#f1f4f6"/><line x1="239.64" y1="255.61" x2="243.58" y2="249.97" stroke="#c9e1ee"/><line x1="246.85" y1="255.87" x2="248.63" y2="249.23" stroke="#3884bb"/><line x1="253.42" y1="256.35" x2="252.40" y2="249.55" stroke="#1f63a8"/><line x1="260.43" y1="255.72" x2="257.14" y2="249.68" stroke="#9ccae1"/><line x1="263.51" y1="256.26" x2="265.00" y2="249.55" stroke="#2e77b5"/><line x1="269.78" y1="255.93" x2="270.51" y2="249.09" stroke="#185493"/><line x1="278.16" y1="255.05" x2="273.44" y2="250.03" stroke="#eff3f6"/><line x1="277.98" y1="254.22" x2="284.43" y2="251.79" stroke="#df755d"/><line x1="283.94" y1="253.74" x2="290.38" y2="251.29" stroke="#e0765e"/><line x1="188.61" y1="259.58" x2="182.34" y2="256.73" stroke="#ec9274"/><line x1="193.93" y1="259.89" x2="187.76" y2="256.83" stroke="#f2a17f"/><line x1="193.36" y1="258.93" x2="200.17" y2="257.84" stroke="#b3192c"/><line x1="199.11" y1="258.83" x2="205.95" y2="257.96" stroke="#a41329"/><line x1="211.37" y1="259.23" x2="204.62" y2="257.84" stroke="#bc2d35"/><line x1="216.82" y1="258.85" x2="210.07" y2="257.47" stroke="#bc2d35"/><line x1="222.67" y1="259.32" x2="215.93" y2="257.90" stroke="#be2f36"/><line x1="227.88" y1="260.11" x2="221.66" y2="257.14" stroke="#ef9a79"/><line x1="233.99" y1="259.25" x2="227.34" y2="257.46" stroke="#ca4942"/><line x1="239.13" y1="260.07" x2="233.13" y2="256.69" stroke="#f6b495"/><line x1="239.64" y1="260.78" x2="244.14" y2="255.57" stroke="#e5eef4"/><line x1="244.34" y1="259.60" x2="250.92" y2="257.53" stroke="#d45c4b"/><line x1="249.82" y1="259.12" x2="256.44" y2="257.22" stroke="#ce5146"/><line x1="255.27" y1="259.26" x2="262.01" y2="257.81" stroke="#bf3137"/><line x1="261.90" y1="260.96" x2="266.74" y2="256.07" stroke="#f6f6f7"/><line x1="273.11" y1="259.75" x2="266.62" y2="257.42" stroke="#dc6e58"/><line x1="272.50" y1="259.05" x2="279.33" y2="258.12" stroke="#a81529"/><line x1="278.19" y1="259.42" x2="284.85" y2="257.63" stroke="#ca4942"/><line x1="284.09" y1="260.23" x2="290.18" y2="257.02" stroke="#f5aa88"/><line x1="188.51" y1="264.72" x2="181.70" y2="263.66" stroke="#b1182b"/><line x1="194.53" y1="264.61" x2="187.68" y2="263.83" stroke="#9d1128"/><line x1="199.80" y1="264.48" x2="193.01" y2="263.31" stroke="#b51f2e"/><line x1="198.82" y1="264.57" x2="205.60" y2="263.34" stroke="#b72230"/><line x1="211.38" y1="264.75" x2="204.59" y2="263.56" stroke="#b6202f"/><line x1="217.07" y1="264.87" x2="210.29" y2="263.62" stroke="#b82431"/><line x1="222.42" y1="264.53" x2="215.66" y2="263.16" stroke="#bc2c34"/><line x1="228.18" y1="265.22" x2="221.77" y2="262.69" stroke="#e27c62"/><line x1="228.32" y1="266.57" x2="232.95" y2="261.47" stroke="#ebf1f5"/><line x1="238.75" y1="266.06" x2="233.57" y2="261.51" stroke="#f9ece4"/><line x1="243.63" y1="267.07" x2="239.94" y2="261.27" stroke="#b8d8e9"/><line x1="247.94" y1="267.60" x2="246.90" y2="260.81" stroke="#2064aa"/><line x1="252.26" y1="267.17" x2="253.95" y2="260.50" stroke="#3580b9"/><line x1="255.22" y1="264.71" x2="261.99" y2="263.43" stroke="#b92531"/><line x1="261.12" y1="264.45" x2="267.96" y2="263.64" stroke="#a01228"/><line x1="268.95" y1="267.08" x2="270.95" y2="260.50" stroke="#3f8dc0"/><line x1="277.11" y1="267.42" x2="274.45" y2="261.08" stroke="#6dadd1"/><line x1="278.07" y1="265.10" x2="284.55" y2="262.76" stroke="#dc6f58"/><line x1="283.87" y1="264.62" x2="290.67" y2="263.50" stroke="#b31b2c"/><line x1="188.57" y1="270.30" x2="181.76" y2="269.28" stroke="#ae172a"/><line x1="187.76" y1="269.86" x2="194.61" y2="269.09" stroke="#9c1128"/><line x1="200.21" y1="270.20" x2="193.43" y2="268.98" stroke="#b72230"/><line x1="205.50" y1="270.26" x2="198.64" y2="269.56" stroke="#981027"/><line x1="211.56" y1="270.04" x2="204.71" y2="269.26" stroke="#9d1128"/><line x1="216.93" y1="269.73" x2="210.07" y2="269.10" stroke="#930e26"/><line x1="222.68" y1="270.25" x2="215.92" y2="268.91" stroke="#bb2a33"/><line x1="227.85" y1="271.30" x2="221.64" y2="268.32" stroke="#f09b7a"/><line x1="233.13" y1="271.88" x2="227.84" y2="267.47" stroke="#fae7dc"/><line x1="237.90" y1="272.46" x2="234.69" y2="266.38" stroke="#97c8e0"/><line x1="242.44" y1="273.31" x2="241.63" y2="266.49" stroke="#1a599a"/><line x1="248.58" y1="273.05" x2="245.98" y2="266.68" stroke="#68aad0"/><line x1="251.89" y1="272.86" x2="254.34" y2="266.44" stroke="#5ca3cc"/><line x1="259.21" y1="272.96" x2="258.36" y2="266.14" stroke="#1b5a9c"/><line x1="262.02" y1="271.81" x2="266.96" y2="267.02" stroke="#f8f5f3"/><line x1="268.44" y1="272.86" x2="271.90" y2="266.91" stroke="#a8d0e4"/><line x1="277.28" y1="273.04" x2="274.64" y2="266.69" stroke="#6bacd1"/><line x1="284.45" y1="270.93" x2="278.03" y2="268.42" stroke="#e27a61"/><line x1="283.91" y1="271.01" x2="290.39" y2="268.66" stroke="#dd6f59"/></g><rect x="179.7" y="162.6" width="21.2" height="21.4" fill="#fff"/><rect x="179.7" y="162.6" width="113.0" height="112.70" fill="none" stroke="#3a3a3a" stroke-width="0.85"/><path d="M202.30 275.30v-1.3M202.30 162.60v1.3M179.70 185.14h1.3M292.70 185.14h-1.3" stroke="#3a3a3a" stroke-width="0.85"/><text transform="translate(202.30 286.20) scale(0.94 1.08)" font-size="8.4" text-anchor="middle" >5</text><text transform="translate(177.10 188.24) scale(0.94 1.08)" font-size="8.4" text-anchor="end" >5</text><path d="M230.55 275.30v-1.3M230.55 162.60v1.3M179.70 213.31h1.3M292.70 213.31h-1.3" stroke="#3a3a3a" stroke-width="0.85"/><text transform="translate(230.55 286.20) scale(0.94 1.08)" font-size="8.4" text-anchor="middle" >10</text><text transform="translate(177.10 216.41) scale(0.94 1.08)" font-size="8.4" text-anchor="end" >10</text><path d="M258.80 275.30v-1.3M258.80 162.60v1.3M179.70 241.49h1.3M292.70 241.49h-1.3" stroke="#3a3a3a" stroke-width="0.85"/><text transform="translate(258.80 286.20) scale(0.94 1.08)" font-size="8.4" text-anchor="middle" >15</text><text transform="translate(177.10 244.59) scale(0.94 1.08)" font-size="8.4" text-anchor="end" >15</text><path d="M287.05 275.30v-1.3M287.05 162.60v1.3M179.70 269.67h1.3M292.70 269.67h-1.3" stroke="#3a3a3a" stroke-width="0.85"/><text transform="translate(287.05 286.20) scale(0.94 1.08)" font-size="8.4" text-anchor="middle" >20</text><text transform="translate(177.10 272.77) scale(0.94 1.08)" font-size="8.4" text-anchor="end" >20</text><text transform="translate(236.20 297.50) scale(1.0 1.1)" font-size="9.6" text-anchor="middle" >X</text><text transform="translate(165.30,219.25) rotate(-90) scale(1.05 1.04)" font-size="10" text-anchor="middle">Y</text><text transform="translate(179.90 179.20) scale(0.93 1.0)" font-size="20" text-anchor="start" fill="#000" stroke="#000" stroke-width="0.3">(f)</text><g stroke-width="1.12" stroke-linecap="butt"><line x1="341.24" y1="170.36" x2="335.92" y2="165.98" stroke="#fbe6da"/><line x1="347.34" y1="170.55" x2="341.94" y2="166.27" stroke="#fbe3d4"/><line x1="352.94" y1="170.34" x2="347.61" y2="165.99" stroke="#fbe5d9"/><line x1="358.77" y1="169.62" x2="352.69" y2="166.37" stroke="#f5ac8b"/><line x1="364.30" y1="170.26" x2="358.57" y2="166.44" stroke="#fbcdb6"/><line x1="369.52" y1="170.15" x2="364.14" y2="165.85" stroke="#fbe3d5"/><line x1="375.22" y1="170.36" x2="369.78" y2="166.14" stroke="#fce1d1"/><line x1="376.45" y1="171.24" x2="379.77" y2="165.21" stroke="#9ecbe1"/><line x1="384.66" y1="171.42" x2="382.97" y2="164.75" stroke="#3580b9"/><line x1="388.59" y1="171.63" x2="390.57" y2="165.05" stroke="#3e8dc0"/><line x1="396.34" y1="171.55" x2="393.94" y2="165.10" stroke="#57a0ca"/><line x1="402.37" y1="171.49" x2="399.19" y2="165.39" stroke="#95c7df"/><line x1="409.75" y1="170.21" x2="403.82" y2="166.70" stroke="#f8bb9f"/><line x1="409.00" y1="169.06" x2="415.76" y2="167.72" stroke="#bb2a33"/><line x1="417.30" y1="171.70" x2="418.19" y2="164.88" stroke="#1c5d9f"/><line x1="423.23" y1="171.51" x2="423.73" y2="164.65" stroke="#124984"/><line x1="428.13" y1="171.60" x2="430.63" y2="165.20" stroke="#60a5cd"/><line x1="436.23" y1="171.39" x2="432.88" y2="165.38" stroke="#a0cce2"/><line x1="443.30" y1="170.69" x2="438.04" y2="166.25" stroke="#fae8de"/><line x1="336.28" y1="176.03" x2="341.40" y2="171.44" stroke="#f9eee7"/><line x1="346.95" y1="176.00" x2="341.57" y2="171.69" stroke="#fbe4d6"/><line x1="352.69" y1="176.09" x2="347.60" y2="171.45" stroke="#f9efe9"/><line x1="358.79" y1="175.40" x2="352.64" y2="172.29" stroke="#f4a481"/><line x1="364.24" y1="175.44" x2="358.35" y2="171.87" stroke="#f8bfa3"/><line x1="369.65" y1="176.08" x2="364.11" y2="171.98" stroke="#fdddca"/><line x1="375.14" y1="176.29" x2="369.86" y2="171.87" stroke="#fae8dc"/><line x1="376.36" y1="176.81" x2="380.14" y2="171.07" stroke="#bedbeb"/><line x1="385.17" y1="177.13" x2="383.21" y2="170.54" stroke="#3e8cbf"/><line x1="390.71" y1="177.00" x2="388.16" y2="170.62" stroke="#64a8ce"/><line x1="394.47" y1="177.16" x2="396.41" y2="170.56" stroke="#3d8bbf"/><line x1="403.28" y1="176.24" x2="398.07" y2="171.74" stroke="#faeae1"/><line x1="409.00" y1="176.10" x2="403.66" y2="171.76" stroke="#fbe5d8"/><line x1="413.84" y1="176.60" x2="410.29" y2="170.71" stroke="#aed3e6"/><line x1="417.06" y1="177.10" x2="418.94" y2="170.48" stroke="#3b88bd"/><line x1="421.62" y1="176.63" x2="425.53" y2="170.97" stroke="#c7e0ed"/><line x1="432.59" y1="174.20" x2="425.76" y2="173.29" stroke="#a61429"/><line x1="438.17" y1="175.11" x2="431.87" y2="172.31" stroke="#ea8e71"/><line x1="443.40" y1="175.61" x2="437.19" y2="172.62" stroke="#f09c7b"/><line x1="341.47" y1="181.71" x2="335.89" y2="177.67" stroke="#fddbc7"/><line x1="347.41" y1="181.71" x2="341.82" y2="177.70" stroke="#fdd9c5"/><line x1="352.73" y1="181.35" x2="347.11" y2="177.37" stroke="#fcd7c2"/><line x1="358.63" y1="181.38" x2="352.68" y2="177.93" stroke="#f7b89a"/><line x1="358.54" y1="181.29" x2="364.37" y2="177.62" stroke="#f9c4aa"/><line x1="369.81" y1="181.52" x2="364.48" y2="177.15" stroke="#fbe6d9"/><line x1="375.24" y1="181.83" x2="369.80" y2="177.61" stroke="#fce1d1"/><line x1="380.88" y1="181.53" x2="375.57" y2="177.15" stroke="#fbe6da"/><line x1="382.09" y1="182.57" x2="385.98" y2="176.89" stroke="#c5dfed"/><line x1="392.05" y1="181.69" x2="386.66" y2="177.40" stroke="#fbe3d5"/><line x1="398.33" y1="181.29" x2="392.44" y2="177.73" stroke="#f8bfa3"/><line x1="403.66" y1="181.57" x2="397.85" y2="177.88" stroke="#f9c6ac"/><line x1="409.17" y1="181.65" x2="404.06" y2="177.04" stroke="#f9eee8"/><line x1="415.05" y1="181.55" x2="409.83" y2="177.06" stroke="#faeae0"/><line x1="419.82" y1="182.48" x2="415.95" y2="176.79" stroke="#c4dfec"/><line x1="420.71" y1="181.77" x2="426.14" y2="177.54" stroke="#fce1d2"/><line x1="432.49" y1="180.87" x2="426.29" y2="177.86" stroke="#f19d7c"/><line x1="437.84" y1="181.23" x2="432.04" y2="177.51" stroke="#fac7ae"/><line x1="437.10" y1="180.97" x2="443.34" y2="178.05" stroke="#ee9777"/><line x1="341.61" y1="186.98" x2="335.80" y2="183.27" stroke="#fac7ad"/><line x1="347.06" y1="186.94" x2="341.27" y2="183.21" stroke="#fac8af"/><line x1="353.11" y1="186.97" x2="347.33" y2="183.23" stroke="#fac9b0"/><line x1="359.01" y1="186.42" x2="352.76" y2="183.52" stroke="#ed9576"/><line x1="364.11" y1="186.99" x2="358.38" y2="183.17" stroke="#fbcdb6"/><line x1="369.98" y1="187.02" x2="364.38" y2="183.01" stroke="#fdd9c5"/><line x1="375.41" y1="187.12" x2="369.82" y2="183.10" stroke="#fddac6"/><line x1="380.99" y1="187.24" x2="375.63" y2="182.92" stroke="#fbe4d7"/><line x1="386.78" y1="187.50" x2="381.34" y2="183.28" stroke="#fce1d1"/><line x1="392.31" y1="187.18" x2="387.06" y2="182.73" stroke="#fae9de"/><line x1="398.77" y1="185.79" x2="391.96" y2="184.69" stroke="#b31a2c"/><line x1="399.21" y1="188.11" x2="402.30" y2="181.97" stroke="#8fc3dd"/><line x1="409.97" y1="185.62" x2="403.10" y2="185.01" stroke="#910e26"/><line x1="414.75" y1="187.44" x2="409.64" y2="182.83" stroke="#f9eee8"/><line x1="420.68" y1="187.00" x2="414.61" y2="183.75" stroke="#f5ac8b"/><line x1="426.84" y1="186.59" x2="420.63" y2="183.61" stroke="#f09b7a"/><line x1="432.16" y1="186.86" x2="425.99" y2="183.80" stroke="#f2a17f"/><line x1="437.78" y1="186.79" x2="431.85" y2="183.27" stroke="#f8bb9f"/><line x1="443.15" y1="187.23" x2="437.51" y2="183.28" stroke="#fcd5bf"/><line x1="342.03" y1="191.65" x2="335.45" y2="189.60" stroke="#d35b4b"/><line x1="347.46" y1="192.00" x2="340.91" y2="189.86" stroke="#d6614e"/><line x1="353.30" y1="191.57" x2="346.70" y2="189.61" stroke="#d05548"/><line x1="358.89" y1="192.74" x2="352.96" y2="189.25" stroke="#f8ba9d"/><line x1="364.61" y1="192.43" x2="358.52" y2="189.20" stroke="#f5ab8a"/><line x1="369.32" y1="193.02" x2="364.20" y2="188.41" stroke="#f9eee7"/><line x1="369.98" y1="192.78" x2="375.55" y2="188.73" stroke="#fddbc8"/><line x1="380.99" y1="193.02" x2="375.56" y2="188.80" stroke="#fce1d1"/><line x1="386.47" y1="192.59" x2="380.94" y2="188.49" stroke="#fdddca"/><line x1="392.66" y1="192.25" x2="386.61" y2="188.97" stroke="#f6ae8e"/><line x1="398.83" y1="191.34" x2="392.06" y2="190.08" stroke="#b82531"/><line x1="404.40" y1="191.03" x2="397.56" y2="190.21" stroke="#a01228"/><line x1="409.87" y1="191.72" x2="403.12" y2="190.29" stroke="#be3036"/><line x1="415.25" y1="192.90" x2="409.49" y2="189.11" stroke="#facbb3"/><line x1="421.05" y1="192.12" x2="414.79" y2="189.24" stroke="#ed9475"/><line x1="426.94" y1="191.61" x2="420.16" y2="190.37" stroke="#b82330"/><line x1="432.78" y1="190.98" x2="425.94" y2="190.12" stroke="#a31329"/><line x1="438.37" y1="191.37" x2="431.57" y2="190.25" stroke="#b41b2d"/><line x1="443.38" y1="192.21" x2="437.22" y2="189.13" stroke="#f3a280"/><line x1="342.28" y1="197.24" x2="335.59" y2="195.54" stroke="#c7423f"/><line x1="341.26" y1="197.58" x2="347.78" y2="195.35" stroke="#d96753"/><line x1="353.29" y1="197.39" x2="346.70" y2="195.38" stroke="#d25849"/><line x1="358.86" y1="197.97" x2="352.64" y2="195.02" stroke="#ef9979"/><line x1="364.00" y1="198.24" x2="358.25" y2="194.46" stroke="#facbb3"/><line x1="369.58" y1="198.60" x2="363.97" y2="194.61" stroke="#fcd8c3"/><line x1="375.40" y1="198.28" x2="369.97" y2="194.06" stroke="#fce1d1"/><line x1="380.78" y1="198.58" x2="375.42" y2="194.26" stroke="#fbe4d6"/><line x1="386.38" y1="198.50" x2="381.23" y2="193.94" stroke="#f9ece5"/><line x1="392.06" y1="198.81" x2="386.82" y2="194.34" stroke="#fae9df"/><line x1="398.56" y1="196.62" x2="391.70" y2="195.94" stroke="#960f27"/><line x1="397.56" y1="196.54" x2="404.42" y2="195.92" stroke="#920e26"/><line x1="409.47" y1="197.96" x2="403.34" y2="194.80" stroke="#f4a785"/><line x1="413.97" y1="199.13" x2="410.29" y2="193.32" stroke="#b7d8e9"/><line x1="420.94" y1="197.93" x2="414.93" y2="194.57" stroke="#f6b393"/><line x1="426.87" y1="197.01" x2="420.12" y2="195.59" stroke="#bd2f36"/><line x1="432.59" y1="197.02" x2="425.82" y2="195.75" stroke="#b92631"/><line x1="438.44" y1="197.13" x2="431.65" y2="195.95" stroke="#b51f2e"/><line x1="443.73" y1="197.73" x2="437.51" y2="194.76" stroke="#f09b7a"/><line x1="342.15" y1="202.59" x2="335.41" y2="201.12" stroke="#bf3338"/><line x1="347.90" y1="202.27" x2="341.06" y2="201.44" stroke="#a11228"/><line x1="353.15" y1="202.68" x2="346.47" y2="200.98" stroke="#c7423f"/><line x1="358.61" y1="203.90" x2="352.72" y2="200.33" stroke="#f8bfa3"/><line x1="364.28" y1="203.68" x2="358.30" y2="200.26" stroke="#f7b698"/><line x1="369.88" y1="204.27" x2="364.49" y2="199.99" stroke="#fbe3d5"/><line x1="375.20" y1="204.30" x2="370.10" y2="199.68" stroke="#f9eee8"/><line x1="381.22" y1="204.09" x2="375.70" y2="199.97" stroke="#fcdecb"/><line x1="386.48" y1="204.04" x2="381.14" y2="199.68" stroke="#fbe5d9"/><line x1="392.47" y1="203.79" x2="386.46" y2="200.40" stroke="#f6b495"/><line x1="398.82" y1="202.32" x2="391.97" y2="201.56" stroke="#9c1127"/><line x1="404.45" y1="202.36" x2="397.60" y2="201.59" stroke="#9d1128"/><line x1="409.93" y1="202.62" x2="403.13" y2="201.53" stroke="#b2182b"/><line x1="414.73" y1="203.93" x2="409.24" y2="199.78" stroke="#fcdecd"/><line x1="421.04" y1="203.53" x2="414.94" y2="200.33" stroke="#f5a987"/><line x1="426.37" y1="203.91" x2="420.72" y2="199.98" stroke="#fcd4bf"/><line x1="426.50" y1="204.32" x2="432.01" y2="200.19" stroke="#fcdecc"/><line x1="433.17" y1="205.17" x2="436.44" y2="199.12" stroke="#9ccae1"/><line x1="438.93" y1="205.25" x2="442.38" y2="199.29" stroke="#a7d0e4"/><line x1="342.20" y1="208.34" x2="335.36" y2="207.50" stroke="#a11328"/><line x1="347.75" y1="207.97" x2="340.92" y2="207.05" stroke="#a71529"/><line x1="353.24" y1="207.87" x2="346.39" y2="207.15" stroke="#991027"/><line x1="358.34" y1="209.34" x2="352.59" y2="205.55" stroke="#facbb3"/><line x1="364.59" y1="209.35" x2="358.36" y2="206.41" stroke="#ee9878"/><line x1="369.77" y1="209.85" x2="364.26" y2="205.71" stroke="#fcdecd"/><line x1="375.61" y1="209.87" x2="370.05" y2="205.81" stroke="#fddcc8"/><line x1="380.91" y1="209.89" x2="375.66" y2="205.44" stroke="#fae9de"/><line x1="386.72" y1="209.96" x2="381.43" y2="205.55" stroke="#fae7dc"/><line x1="392.53" y1="209.76" x2="386.85" y2="205.86" stroke="#fcd3bd"/><line x1="398.56" y1="208.30" x2="391.75" y2="207.22" stroke="#b2182b"/><line x1="399.32" y1="210.71" x2="402.72" y2="204.73" stroke="#a4cee3"/><line x1="409.77" y1="208.21" x2="402.96" y2="207.14" stroke="#b2182b"/><line x1="410.32" y1="210.54" x2="413.77" y2="204.59" stroke="#a8d0e4"/><line x1="420.28" y1="210.07" x2="414.94" y2="205.73" stroke="#fbe5d8"/><line x1="421.65" y1="210.54" x2="425.09" y2="204.58" stroke="#a7d0e4"/><line x1="430.13" y1="211.10" x2="427.87" y2="204.61" stroke="#4d99c6"/><line x1="437.88" y1="209.71" x2="431.99" y2="206.15" stroke="#f8bea2"/><line x1="443.74" y1="209.28" x2="437.48" y2="206.40" stroke="#ed9475"/><line x1="341.91" y1="214.09" x2="335.12" y2="212.90" stroke="#b61f2e"/><line x1="347.89" y1="213.81" x2="341.09" y2="212.66" stroke="#b41d2d"/><line x1="353.64" y1="214.00" x2="346.83" y2="212.89" stroke="#b31a2c"/><line x1="358.77" y1="215.11" x2="353.06" y2="211.26" stroke="#fbd0b9"/><line x1="364.21" y1="215.44" x2="358.46" y2="211.65" stroke="#fbccb4"/><line x1="369.33" y1="215.84" x2="364.28" y2="211.16" stroke="#f8f0ec"/><line x1="375.37" y1="215.27" x2="369.78" y2="211.25" stroke="#fddac6"/><line x1="381.08" y1="215.55" x2="375.76" y2="211.19" stroke="#fbe6d9"/><line x1="381.53" y1="215.42" x2="386.70" y2="210.88" stroke="#f9ece4"/><line x1="392.68" y1="215.22" x2="386.84" y2="211.57" stroke="#f9c4a9"/><line x1="392.07" y1="213.59" x2="398.90" y2="212.62" stroke="#ab162a"/><line x1="404.49" y1="213.69" x2="397.67" y2="212.69" stroke="#ad162a"/><line x1="410.13" y1="213.93" x2="403.31" y2="212.95" stroke="#ab162a"/><line x1="415.58" y1="213.69" x2="408.72" y2="213.07" stroke="#920e26"/><line x1="420.89" y1="214.93" x2="414.72" y2="211.87" stroke="#f2a07f"/><line x1="424.03" y1="216.79" x2="423.43" y2="209.94" stroke="#154e8b"/><line x1="430.13" y1="216.80" x2="428.08" y2="210.23" stroke="#408fc1"/><line x1="438.26" y1="213.97" x2="431.48" y2="212.76" stroke="#b7212f"/><line x1="443.99" y1="213.60" x2="437.12" y2="212.99" stroke="#920e26"/><line x1="341.71" y1="220.69" x2="335.84" y2="217.08" stroke="#f9c1a5"/><line x1="340.80" y1="219.36" x2="347.58" y2="218.13" stroke="#b72330"/><line x1="353.65" y1="219.13" x2="346.78" y2="218.52" stroke="#920e26"/><line x1="359.36" y1="219.38" x2="352.51" y2="218.57" stroke="#a01228"/><line x1="364.40" y1="220.41" x2="358.17" y2="217.46" stroke="#ef9978"/><line x1="369.39" y1="221.27" x2="364.12" y2="216.83" stroke="#fae8de"/><line x1="375.46" y1="221.06" x2="370.06" y2="216.79" stroke="#fbe3d4"/><line x1="380.85" y1="221.15" x2="375.76" y2="216.52" stroke="#f9efe9"/><line x1="386.67" y1="221.42" x2="381.42" y2="216.97" stroke="#fae9de"/><line x1="392.40" y1="220.78" x2="386.40" y2="217.41" stroke="#f6b394"/><line x1="398.71" y1="219.62" x2="391.95" y2="218.28" stroke="#bb2a33"/><line x1="404.54" y1="219.28" x2="397.67" y2="218.66" stroke="#920e26"/><line x1="410.14" y1="219.43" x2="403.31" y2="218.46" stroke="#ab162a"/><line x1="415.57" y1="219.35" x2="408.72" y2="218.56" stroke="#9e1228"/><line x1="421.48" y1="219.60" x2="414.70" y2="218.32" stroke="#b92632"/><line x1="426.79" y1="219.52" x2="420.03" y2="218.14" stroke="#bd2d35"/><line x1="432.53" y1="219.29" x2="425.67" y2="218.58" stroke="#981027"/><line x1="437.94" y1="219.42" x2="431.18" y2="218.08" stroke="#bb2a33"/><line x1="443.63" y1="220.44" x2="437.57" y2="217.16" stroke="#f6ae8e"/><line x1="342.01" y1="226.11" x2="335.75" y2="223.24" stroke="#ec9475"/><line x1="347.26" y1="226.37" x2="341.41" y2="222.74" stroke="#f9c3a8"/><line x1="353.26" y1="225.11" x2="346.42" y2="224.20" stroke="#a61429"/><line x1="358.87" y1="225.25" x2="352.04" y2="224.32" stroke="#a81529"/><line x1="364.94" y1="224.98" x2="358.17" y2="223.70" stroke="#b92631"/><line x1="370.26" y1="225.16" x2="363.49" y2="223.91" stroke="#b82431"/><line x1="376.30" y1="224.70" x2="369.44" y2="224.06" stroke="#930e26"/><line x1="381.26" y1="226.18" x2="375.38" y2="222.60" stroke="#f8bfa4"/><line x1="386.53" y1="226.71" x2="381.33" y2="222.20" stroke="#faebe2"/><line x1="392.48" y1="226.21" x2="386.50" y2="222.80" stroke="#f7b697"/><line x1="398.61" y1="225.47" x2="391.86" y2="224.05" stroke="#be2f36"/><line x1="404.05" y1="224.95" x2="397.25" y2="223.78" stroke="#b51e2e"/><line x1="409.40" y1="226.21" x2="403.57" y2="222.55" stroke="#f9c4aa"/><line x1="415.21" y1="226.42" x2="409.22" y2="223.01" stroke="#f7b597"/><line x1="420.72" y1="226.77" x2="415.07" y2="222.84" stroke="#fcd5bf"/><line x1="426.22" y1="226.53" x2="420.30" y2="223.01" stroke="#f8bc9f"/><line x1="432.42" y1="226.25" x2="426.16" y2="223.36" stroke="#ed9475"/><line x1="438.03" y1="226.38" x2="432.03" y2="223.01" stroke="#f6b394"/><line x1="443.25" y1="226.28" x2="437.42" y2="222.61" stroke="#f9c5aa"/><line x1="341.57" y1="231.82" x2="335.59" y2="228.39" stroke="#f7b698"/><line x1="347.67" y1="231.61" x2="341.43" y2="228.68" stroke="#ee9878"/><line x1="353.21" y1="231.58" x2="347.04" y2="228.51" stroke="#f2a17f"/><line x1="359.02" y1="230.71" x2="352.24" y2="229.45" stroke="#b82531"/><line x1="364.75" y1="230.76" x2="357.95" y2="229.62" stroke="#b41c2d"/><line x1="370.03" y1="231.95" x2="363.83" y2="228.95" stroke="#f09c7b"/><line x1="369.38" y1="230.80" x2="376.18" y2="229.67" stroke="#b41b2d"/><line x1="381.66" y1="230.34" x2="374.80" y2="229.61" stroke="#9a1027"/><line x1="386.63" y1="232.24" x2="381.02" y2="228.24" stroke="#fdd8c4"/><line x1="392.67" y1="232.21" x2="386.79" y2="228.61" stroke="#f9c0a5"/><line x1="398.44" y1="230.71" x2="391.69" y2="229.33" stroke="#bc2d35"/><line x1="403.94" y1="231.45" x2="397.66" y2="228.60" stroke="#eb9173"/><line x1="409.35" y1="232.06" x2="403.62" y2="228.23" stroke="#fbceb7"/><line x1="414.76" y1="232.12" x2="409.16" y2="228.10" stroke="#fddac5"/><line x1="419.27" y1="233.28" x2="416.09" y2="227.19" stroke="#96c7df"/><line x1="426.20" y1="232.56" x2="420.91" y2="228.16" stroke="#fae7db"/><line x1="430.85" y1="233.06" x2="427.44" y2="227.08" stroke="#a5cee3"/><line x1="437.51" y1="231.78" x2="431.62" y2="228.22" stroke="#f8bea2"/><line x1="443.40" y1="232.38" x2="437.79" y2="228.38" stroke="#fcd8c3"/><line x1="341.84" y1="237.12" x2="335.56" y2="234.28" stroke="#eb9173"/><line x1="347.33" y1="237.57" x2="341.35" y2="234.15" stroke="#f7b698"/><line x1="352.87" y1="237.78" x2="346.93" y2="234.29" stroke="#f7ba9d"/><line x1="354.21" y1="239.04" x2="356.97" y2="232.74" stroke="#74b2d4"/><line x1="364.76" y1="236.31" x2="357.92" y2="235.47" stroke="#a11328"/><line x1="370.42" y1="236.34" x2="363.60" y2="235.29" stroke="#b0172b"/><line x1="375.91" y1="236.49" x2="369.13" y2="235.28" stroke="#b72230"/><line x1="380.98" y1="237.63" x2="375.18" y2="233.92" stroke="#fac7ad"/><line x1="386.67" y1="237.84" x2="381.32" y2="233.51" stroke="#fbe4d7"/><line x1="390.14" y1="239.12" x2="389.35" y2="232.29" stroke="#195798"/><line x1="398.68" y1="236.02" x2="391.82" y2="235.32" stroke="#981027"/><line x1="404.44" y1="236.21" x2="397.60" y2="235.33" stroke="#a41329"/><line x1="409.13" y1="237.92" x2="403.72" y2="233.66" stroke="#fbe2d3"/><line x1="410.49" y1="238.50" x2="414.24" y2="232.73" stroke="#bcdaea"/><line x1="419.07" y1="238.97" x2="416.29" y2="232.67" stroke="#76b3d4"/><line x1="424.21" y1="239.16" x2="422.52" y2="232.49" stroke="#3580b9"/><line x1="428.28" y1="239.45" x2="429.74" y2="232.73" stroke="#2d76b4"/><line x1="436.44" y1="238.60" x2="432.71" y2="232.82" stroke="#badaea"/><line x1="443.09" y1="238.09" x2="438.00" y2="233.45" stroke="#f9efe9"/><line x1="341.41" y1="243.27" x2="335.62" y2="239.54" stroke="#fac8ae"/><line x1="347.46" y1="243.55" x2="341.63" y2="239.89" stroke="#f9c4aa"/><line x1="353.12" y1="243.22" x2="347.41" y2="239.37" stroke="#fbcfb8"/><line x1="358.90" y1="243.13" x2="352.77" y2="239.98" stroke="#f4a784"/><line x1="364.66" y1="241.93" x2="357.85" y2="240.86" stroke="#b2182b"/><line x1="370.25" y1="242.09" x2="363.46" y2="240.92" stroke="#b51e2e"/><line x1="375.96" y1="242.29" x2="369.20" y2="240.94" stroke="#bb2b34"/><line x1="381.38" y1="243.17" x2="375.38" y2="239.78" stroke="#f6b495"/><line x1="386.74" y1="243.71" x2="381.48" y2="239.27" stroke="#fae8de"/><line x1="392.74" y1="243.32" x2="386.65" y2="240.10" stroke="#f5aa89"/><line x1="398.60" y1="241.77" x2="391.74" y2="241.14" stroke="#920e26"/><line x1="404.40" y1="242.15" x2="397.56" y2="241.28" stroke="#a41329"/><line x1="409.27" y1="243.84" x2="404.07" y2="239.33" stroke="#faebe2"/><line x1="413.31" y1="245.01" x2="411.58" y2="238.35" stroke="#3681ba"/><line x1="418.05" y1="244.79" x2="417.78" y2="237.92" stroke="#0c3e74"/><line x1="422.33" y1="244.95" x2="424.39" y2="238.39" stroke="#4190c1"/><line x1="428.88" y1="245.14" x2="429.15" y2="238.27" stroke="#0c3d74"/><line x1="432.83" y1="244.60" x2="436.35" y2="238.69" stroke="#acd2e5"/><line x1="442.86" y1="243.55" x2="437.69" y2="239.00" stroke="#f9ece4"/><line x1="335.49" y1="248.35" x2="342.08" y2="246.34" stroke="#d25849"/><line x1="347.96" y1="247.65" x2="341.22" y2="246.23" stroke="#be3036"/><line x1="353.57" y1="248.07" x2="346.83" y2="246.65" stroke="#be2f36"/><line x1="359.02" y1="247.49" x2="352.17" y2="246.76" stroke="#9a1027"/><line x1="364.73" y1="247.53" x2="357.89" y2="246.74" stroke="#9e1228"/><line x1="363.79" y1="247.83" x2="370.62" y2="246.91" stroke="#a71529"/><line x1="369.39" y1="247.56" x2="376.18" y2="246.39" stroke="#b51e2e"/><line x1="381.95" y1="247.35" x2="375.09" y2="246.74" stroke="#920e26"/><line x1="387.49" y1="247.75" x2="380.68" y2="246.68" stroke="#b2182b"/><line x1="386.45" y1="247.76" x2="393.20" y2="246.34" stroke="#be3036"/><line x1="398.63" y1="247.37" x2="391.79" y2="246.49" stroke="#a41429"/><line x1="402.83" y1="250.06" x2="399.08" y2="244.30" stroke="#bcdaea"/><line x1="405.07" y1="250.26" x2="408.18" y2="244.13" stroke="#91c4de"/><line x1="410.62" y1="250.33" x2="414.08" y2="244.38" stroke="#a8d0e4"/><line x1="416.31" y1="249.96" x2="419.47" y2="243.86" stroke="#94c6df"/><line x1="421.89" y1="249.96" x2="425.18" y2="243.92" stroke="#9ccae1"/><line x1="430.23" y1="250.47" x2="428.47" y2="243.82" stroke="#3783bb"/><line x1="436.47" y1="250.16" x2="433.39" y2="244.01" stroke="#8ec3dd"/><line x1="443.31" y1="249.36" x2="437.70" y2="245.37" stroke="#fcd8c3"/><line x1="342.31" y1="253.00" x2="335.48" y2="252.07" stroke="#a81529"/><line x1="347.65" y1="253.18" x2="340.80" y2="252.42" stroke="#9c1127"/><line x1="353.56" y1="253.27" x2="346.76" y2="252.14" stroke="#b41c2d"/><line x1="358.99" y1="253.24" x2="352.16" y2="252.30" stroke="#a81529"/><line x1="364.74" y1="253.16" x2="357.93" y2="252.10" stroke="#b1182b"/><line x1="370.20" y1="253.38" x2="363.38" y2="252.45" stroke="#a81529"/><line x1="376.10" y1="253.11" x2="369.28" y2="252.17" stroke="#a81529"/><line x1="381.57" y1="254.35" x2="375.37" y2="251.34" stroke="#f09d7c"/><line x1="381.11" y1="254.69" x2="386.81" y2="250.82" stroke="#fbd1ba"/><line x1="392.78" y1="253.52" x2="386.13" y2="251.70" stroke="#cb4b43"/><line x1="393.57" y1="255.74" x2="397.28" y2="249.94" stroke="#b9d9e9"/><line x1="400.84" y1="256.10" x2="401.29" y2="249.24" stroke="#114780"/><line x1="410.18" y1="253.21" x2="403.35" y2="252.33" stroke="#a51429"/><line x1="415.57" y1="253.30" x2="408.79" y2="252.07" stroke="#b72230"/><line x1="421.43" y1="253.51" x2="414.63" y2="252.43" stroke="#b2182b"/><line x1="427.14" y1="252.93" x2="420.30" y2="252.14" stroke="#9e1228"/><line x1="429.60" y1="256.15" x2="428.72" y2="249.33" stroke="#1c5c9e"/><line x1="433.29" y1="255.94" x2="436.32" y2="249.77" stroke="#8bc0db"/><line x1="443.54" y1="254.48" x2="437.53" y2="251.11" stroke="#f6b394"/><line x1="341.77" y1="260.04" x2="335.63" y2="256.91" stroke="#f4a683"/><line x1="345.96" y1="261.63" x2="342.78" y2="255.53" stroke="#95c7df"/><line x1="352.82" y1="259.95" x2="346.85" y2="256.51" stroke="#f7b799"/><line x1="359.34" y1="258.76" x2="352.49" y2="257.98" stroke="#9d1128"/><line x1="364.61" y1="258.49" x2="357.75" y2="257.84" stroke="#950f26"/><line x1="370.58" y1="258.76" x2="363.79" y2="257.57" stroke="#b61f2e"/><line x1="375.55" y1="260.11" x2="369.38" y2="257.06" stroke="#f2a07e"/><line x1="381.72" y1="258.99" x2="374.97" y2="257.62" stroke="#bc2c34"/><line x1="387.31" y1="258.96" x2="380.49" y2="257.95" stroke="#ae172a"/><line x1="390.79" y1="261.44" x2="388.00" y2="255.15" stroke="#77b4d5"/><line x1="396.37" y1="261.57" x2="393.67" y2="255.25" stroke="#70afd2"/><line x1="399.68" y1="261.80" x2="401.84" y2="255.27" stroke="#4695c4"/><line x1="409.45" y1="260.27" x2="403.92" y2="256.17" stroke="#fdddca"/><line x1="414.11" y1="261.29" x2="410.25" y2="255.59" stroke="#c4deec"/><line x1="418.70" y1="261.91" x2="416.77" y2="255.31" stroke="#3c8abf"/><line x1="423.64" y1="261.80" x2="423.38" y2="254.93" stroke="#0c3d74"/><line x1="429.46" y1="262.04" x2="428.62" y2="255.21" stroke="#1b5a9b"/><line x1="437.94" y1="258.95" x2="431.16" y2="257.72" stroke="#b72230"/><line x1="443.85" y1="259.00" x2="437.02" y2="258.07" stroke="#a81529"/><line x1="341.72" y1="265.63" x2="335.49" y2="262.68" stroke="#ef9979"/><line x1="347.30" y1="265.81" x2="341.21" y2="262.59" stroke="#f5ab89"/><line x1="346.44" y1="264.94" x2="353.16" y2="263.40" stroke="#c2383a"/><line x1="359.25" y1="264.27" x2="352.38" y2="263.65" stroke="#920e26"/><line x1="364.68" y1="264.78" x2="357.87" y2="263.75" stroke="#af172a"/><line x1="370.18" y1="265.80" x2="364.00" y2="262.75" stroke="#f2a07e"/><line x1="375.35" y1="265.91" x2="369.64" y2="262.05" stroke="#fbd0b9"/><line x1="381.48" y1="265.73" x2="375.59" y2="262.17" stroke="#f8bfa3"/><line x1="387.49" y1="264.33" x2="380.67" y2="263.32" stroke="#ae172a"/><line x1="392.73" y1="264.52" x2="385.98" y2="263.11" stroke="#bd2e35"/><line x1="396.38" y1="267.25" x2="394.30" y2="260.69" stroke="#4191c2"/><line x1="401.61" y1="267.30" x2="400.04" y2="260.61" stroke="#307ab6"/><line x1="403.75" y1="266.15" x2="408.94" y2="261.62" stroke="#faebe3"/><line x1="409.02" y1="265.49" x2="415.22" y2="262.49" stroke="#f09d7c"/><line x1="419.35" y1="267.08" x2="416.18" y2="260.97" stroke="#94c6df"/><line x1="422.88" y1="267.44" x2="423.90" y2="260.65" stroke="#1f63a8"/><line x1="428.83" y1="267.34" x2="429.64" y2="260.51" stroke="#1a5899"/><line x1="436.81" y1="267.12" x2="433.29" y2="261.21" stroke="#acd2e5"/><line x1="442.98" y1="266.37" x2="437.61" y2="262.07" stroke="#fbe4d6"/><line x1="341.86" y1="271.54" x2="336.08" y2="267.79" stroke="#facab1"/><line x1="347.14" y1="271.71" x2="341.40" y2="267.90" stroke="#fbcdb5"/><line x1="353.48" y1="270.53" x2="346.92" y2="268.42" stroke="#d55f4c"/><line x1="359.10" y1="270.42" x2="352.36" y2="268.96" stroke="#bf3238"/><line x1="364.50" y1="270.26" x2="357.73" y2="268.94" stroke="#ba2933"/><line x1="370.02" y1="271.47" x2="363.92" y2="268.27" stroke="#f5aa88"/><line x1="375.62" y1="271.54" x2="369.88" y2="267.75" stroke="#faccb4"/><line x1="380.83" y1="271.91" x2="375.60" y2="267.42" stroke="#faeae0"/><line x1="385.77" y1="272.83" x2="382.47" y2="266.80" stroke="#9dcbe1"/><line x1="387.97" y1="272.70" x2="391.01" y2="266.53" stroke="#8bc1dc"/><line x1="398.24" y1="271.53" x2="392.67" y2="267.48" stroke="#fddbc8"/><line x1="404.37" y1="270.34" x2="397.57" y2="269.26" stroke="#b2182b"/><line x1="408.74" y1="272.29" x2="404.79" y2="266.65" stroke="#cae1ee"/><line x1="413.80" y1="272.57" x2="410.18" y2="266.71" stroke="#b2d5e7"/><line x1="419.64" y1="272.66" x2="416.43" y2="266.58" stroke="#98c8e0"/><line x1="423.87" y1="273.05" x2="423.42" y2="266.19" stroke="#114680"/><line x1="429.59" y1="273.16" x2="428.75" y2="266.34" stroke="#1b5a9c"/><line x1="433.20" y1="272.78" x2="436.66" y2="266.84" stroke="#a8d0e4"/><line x1="442.97" y1="271.87" x2="437.71" y2="267.43" stroke="#fae8de"/></g><rect x="333.1" y="162.6" width="21.2" height="21.4" fill="#fff"/><rect x="333.1" y="162.6" width="113.0" height="112.70" fill="none" stroke="#3a3a3a" stroke-width="0.85"/><path d="M355.70 275.30v-1.3M355.70 162.60v1.3M333.10 185.14h1.3M446.10 185.14h-1.3" stroke="#3a3a3a" stroke-width="0.85"/><text transform="translate(355.70 286.20) scale(0.94 1.08)" font-size="8.4" text-anchor="middle" >5</text><text transform="translate(330.50 188.24) scale(0.94 1.08)" font-size="8.4" text-anchor="end" >5</text><path d="M383.95 275.30v-1.3M383.95 162.60v1.3M333.10 213.31h1.3M446.10 213.31h-1.3" stroke="#3a3a3a" stroke-width="0.85"/><text transform="translate(383.95 286.20) scale(0.94 1.08)" font-size="8.4" text-anchor="middle" >10</text><text transform="translate(330.50 216.41) scale(0.94 1.08)" font-size="8.4" text-anchor="end" >10</text><path d="M412.20 275.30v-1.3M412.20 162.60v1.3M333.10 241.49h1.3M446.10 241.49h-1.3" stroke="#3a3a3a" stroke-width="0.85"/><text transform="translate(412.20 286.20) scale(0.94 1.08)" font-size="8.4" text-anchor="middle" >15</text><text transform="translate(330.50 244.59) scale(0.94 1.08)" font-size="8.4" text-anchor="end" >15</text><path d="M440.45 275.30v-1.3M440.45 162.60v1.3M333.10 269.67h1.3M446.10 269.67h-1.3" stroke="#3a3a3a" stroke-width="0.85"/><text transform="translate(440.45 286.20) scale(0.94 1.08)" font-size="8.4" text-anchor="middle" >20</text><text transform="translate(330.50 272.77) scale(0.94 1.08)" font-size="8.4" text-anchor="end" >20</text><text transform="translate(389.60 297.50) scale(1.0 1.1)" font-size="9.6" text-anchor="middle" >X</text><text transform="translate(318.70,219.25) rotate(-90) scale(1.05 1.04)" font-size="10" text-anchor="middle">Y</text><text transform="translate(333.30 179.20) scale(0.93 1.0)" font-size="20" text-anchor="start" fill="#000" stroke="#000" stroke-width="0.3">(g)</text><defs><linearGradient id="cb13" x1="0" y1="0" x2="0" y2="1"><stop offset="0.00" stop-color="#053061"/><stop offset="0.10" stop-color="#2166ac"/><stop offset="0.20" stop-color="#4393c3"/><stop offset="0.30" stop-color="#92c5de"/><stop offset="0.40" stop-color="#d1e5f0"/><stop offset="0.50" stop-color="#f7f7f7"/><stop offset="0.60" stop-color="#fddbc7"/><stop offset="0.70" stop-color="#f4a582"/><stop offset="0.80" stop-color="#d6604d"/><stop offset="0.90" stop-color="#b2182b"/><stop offset="1.00" stop-color="#67001f"/></linearGradient></defs><rect x="450.1" y="13.2" width="5.8" height="113.00" fill="url(#cb13)"/><defs><linearGradient id="cb161" x1="0" y1="0" x2="0" y2="1"><stop offset="0.00" stop-color="#053061"/><stop offset="0.10" stop-color="#2166ac"/><stop offset="0.20" stop-color="#4393c3"/><stop offset="0.30" stop-color="#92c5de"/><stop offset="0.40" stop-color="#d1e5f0"/><stop offset="0.50" stop-color="#f7f7f7"/><stop offset="0.60" stop-color="#fddbc7"/><stop offset="0.70" stop-color="#f4a582"/><stop offset="0.80" stop-color="#d6604d"/><stop offset="0.90" stop-color="#b2182b"/><stop offset="1.00" stop-color="#67001f"/></linearGradient></defs><rect x="450.1" y="161.6" width="5.8" height="112.90" fill="url(#cb161)"/><text transform="translate(456.6 19.7) scale(0.92 1.12)" font-size="9.4">90</text><ellipse cx="469.8" cy="15.0" rx="1.75" ry="1.75" fill="none" stroke="#262626" stroke-width="0.9"/><text transform="translate(461.6 129.0) scale(1.0 1.0)" font-size="9.4">0</text><ellipse cx="469.8" cy="124.2" rx="1.75" ry="1.75" fill="none" stroke="#262626" stroke-width="0.9"/><text transform="translate(460.4 169.8) scale(0.92 1.12)" font-size="9.4">90</text><ellipse cx="473.7" cy="165.4" rx="1.75" ry="1.75" fill="none" stroke="#262626" stroke-width="0.9"/><text transform="translate(461.6 276.6) scale(1.0 1.0)" font-size="9.4">0</text><ellipse cx="469.8" cy="272.0" rx="1.75" ry="1.75" fill="none" stroke="#262626" stroke-width="0.9"/><g fill="none" stroke="#dcdcdc" stroke-width="0.6"><circle cx="513.6" cy="84.3" r="1.1"/><circle cx="513.6" cy="85.7" r="1.1"/><circle cx="513.6" cy="87.1" r="1.1"/><circle cx="513.6" cy="89.9" r="1.1"/><circle cx="513.6" cy="91.3" r="1.1"/><circle cx="513.6" cy="92.7" r="1.1"/><circle cx="520.1" cy="86.8" r="1.1"/><circle cx="520.1" cy="88.2" r="1.1"/><circle cx="520.1" cy="89.6" r="1.1"/><circle cx="520.1" cy="92.4" r="1.1"/><circle cx="520.1" cy="93.8" r="1.1"/><circle cx="520.1" cy="95.2" r="1.1"/><circle cx="526.5" cy="89.0" r="1.1"/><circle cx="526.5" cy="90.4" r="1.1"/><circle cx="526.5" cy="91.8" r="1.1"/><circle cx="526.5" cy="94.6" r="1.1"/><circle cx="526.5" cy="96.0" r="1.1"/><circle cx="526.5" cy="97.4" r="1.1"/><circle cx="533.0" cy="91.2" r="1.1"/><circle cx="533.0" cy="92.6" r="1.1"/><circle cx="533.0" cy="94.0" r="1.1"/><circle cx="533.0" cy="96.8" r="1.1"/><circle cx="533.0" cy="98.2" r="1.1"/><circle cx="533.0" cy="99.6" r="1.1"/><circle cx="539.5" cy="93.3" r="1.1"/><circle cx="539.5" cy="94.7" r="1.1"/><circle cx="539.5" cy="96.1" r="1.1"/><circle cx="539.5" cy="98.9" r="1.1"/><circle cx="539.5" cy="100.3" r="1.1"/><circle cx="539.5" cy="101.7" r="1.1"/><circle cx="546.0" cy="95.1" r="1.1"/><circle cx="546.0" cy="96.5" r="1.1"/><circle cx="546.0" cy="97.9" r="1.1"/><circle cx="546.0" cy="100.7" r="1.1"/><circle cx="546.0" cy="102.1" r="1.1"/><circle cx="546.0" cy="103.5" r="1.1"/><circle cx="552.4" cy="96.4" r="1.1"/><circle cx="552.4" cy="97.8" r="1.1"/><circle cx="552.4" cy="99.2" r="1.1"/><circle cx="552.4" cy="102.0" r="1.1"/><circle cx="552.4" cy="103.4" r="1.1"/><circle cx="552.4" cy="104.8" r="1.1"/><circle cx="558.9" cy="97.6" r="1.1"/><circle cx="558.9" cy="99.0" r="1.1"/><circle cx="558.9" cy="100.4" r="1.1"/><circle cx="558.9" cy="103.2" r="1.1"/><circle cx="558.9" cy="104.6" r="1.1"/><circle cx="558.9" cy="106.0" r="1.1"/><circle cx="565.4" cy="98.6" r="1.1"/><circle cx="565.4" cy="100.0" r="1.1"/><circle cx="565.4" cy="101.4" r="1.1"/><circle cx="565.4" cy="104.2" r="1.1"/><circle cx="565.4" cy="105.6" r="1.1"/><circle cx="565.4" cy="107.0" r="1.1"/><circle cx="571.9" cy="99.1" r="1.1"/><circle cx="571.9" cy="100.5" r="1.1"/><circle cx="571.9" cy="101.9" r="1.1"/><circle cx="571.9" cy="104.7" r="1.1"/><circle cx="571.9" cy="106.1" r="1.1"/><circle cx="571.9" cy="107.5" r="1.1"/><circle cx="578.4" cy="99.2" r="1.1"/><circle cx="578.4" cy="100.6" r="1.1"/><circle cx="578.4" cy="102.0" r="1.1"/><circle cx="578.4" cy="104.8" r="1.1"/><circle cx="578.4" cy="106.2" r="1.1"/><circle cx="578.4" cy="107.6" r="1.1"/><circle cx="584.9" cy="99.1" r="1.1"/><circle cx="584.9" cy="100.5" r="1.1"/><circle cx="584.9" cy="101.9" r="1.1"/><circle cx="584.9" cy="104.7" r="1.1"/><circle cx="584.9" cy="106.1" r="1.1"/><circle cx="584.9" cy="107.5" r="1.1"/><circle cx="591.4" cy="98.7" r="1.1"/><circle cx="591.4" cy="100.1" r="1.1"/><circle cx="591.4" cy="101.5" r="1.1"/><circle cx="591.4" cy="104.3" r="1.1"/><circle cx="591.4" cy="105.7" r="1.1"/><circle cx="591.4" cy="107.1" r="1.1"/><circle cx="597.9" cy="98.1" r="1.1"/><circle cx="597.9" cy="99.5" r="1.1"/><circle cx="597.9" cy="100.9" r="1.1"/><circle cx="597.9" cy="103.7" r="1.1"/><circle cx="597.9" cy="105.1" r="1.1"/><circle cx="597.9" cy="106.5" r="1.1"/><circle cx="604.3" cy="97.3" r="1.1"/><circle cx="604.3" cy="98.7" r="1.1"/><circle cx="604.3" cy="100.1" r="1.1"/><circle cx="604.3" cy="102.9" r="1.1"/><circle cx="604.3" cy="104.3" r="1.1"/><circle cx="604.3" cy="105.7" r="1.1"/><circle cx="610.8" cy="96.1" r="1.1"/><circle cx="610.8" cy="97.5" r="1.1"/><circle cx="610.8" cy="98.9" r="1.1"/><circle cx="610.8" cy="101.7" r="1.1"/><circle cx="610.8" cy="103.1" r="1.1"/><circle cx="610.8" cy="104.5" r="1.1"/><circle cx="617.3" cy="94.8" r="1.1"/><circle cx="617.3" cy="96.2" r="1.1"/><circle cx="617.3" cy="97.6" r="1.1"/><circle cx="617.3" cy="100.4" r="1.1"/><circle cx="617.3" cy="101.8" r="1.1"/><circle cx="617.3" cy="103.2" r="1.1"/><circle cx="623.8" cy="93.1" r="1.1"/><circle cx="623.8" cy="94.5" r="1.1"/><circle cx="623.8" cy="95.9" r="1.1"/><circle cx="623.8" cy="98.7" r="1.1"/><circle cx="623.8" cy="100.1" r="1.1"/><circle cx="623.8" cy="101.5" r="1.1"/><circle cx="630.3" cy="91.5" r="1.1"/><circle cx="630.3" cy="92.9" r="1.1"/><circle cx="630.3" cy="94.3" r="1.1"/><circle cx="630.3" cy="97.1" r="1.1"/><circle cx="630.3" cy="98.5" r="1.1"/><circle cx="630.3" cy="99.9" r="1.1"/><circle cx="636.8" cy="89.4" r="1.1"/><circle cx="636.8" cy="90.8" r="1.1"/><circle cx="636.8" cy="92.2" r="1.1"/><circle cx="636.8" cy="95.0" r="1.1"/><circle cx="636.8" cy="96.4" r="1.1"/><circle cx="636.8" cy="97.8" r="1.1"/><circle cx="643.2" cy="87.3" r="1.1"/><circle cx="643.2" cy="88.7" r="1.1"/><circle cx="643.2" cy="90.1" r="1.1"/><circle cx="643.2" cy="92.9" r="1.1"/><circle cx="643.2" cy="94.3" r="1.1"/><circle cx="643.2" cy="95.7" r="1.1"/><circle cx="649.7" cy="85.0" r="1.1"/><circle cx="649.7" cy="86.4" r="1.1"/><circle cx="649.7" cy="87.8" r="1.1"/><circle cx="649.7" cy="90.6" r="1.1"/><circle cx="649.7" cy="92.0" r="1.1"/><circle cx="649.7" cy="93.4" r="1.1"/><circle cx="656.2" cy="82.8" r="1.1"/><circle cx="656.2" cy="84.2" r="1.1"/><circle cx="656.2" cy="85.6" r="1.1"/><circle cx="656.2" cy="88.4" r="1.1"/><circle cx="656.2" cy="89.8" r="1.1"/><circle cx="656.2" cy="91.2" r="1.1"/></g><line x1="507.1" y1="85.67" x2="656.3" y2="85.67" stroke="#1e9cf0" stroke-width="2" stroke-dasharray="3.3 2.2" stroke-dashoffset="-3"/><polyline fill="none" stroke="#7c7c7c" stroke-width="1.8" points="513.6,88.5 520.1,91.0 526.5,93.2 533.0,95.4 539.5,97.5 546.0,99.3 552.4,100.6 558.9,101.8 565.4,102.8 571.9,103.3 578.4,103.4 584.9,103.3 591.4,102.9 597.9,102.3 604.3,101.5 610.8,100.3 617.3,99.0 623.8,97.3 630.3,95.7 636.8,93.6 643.2,91.5 649.7,89.2 656.2,87.0"/><g fill="#edb120"><circle cx="513.6" cy="88.5" r="2.35"/><circle cx="520.1" cy="91.0" r="2.35"/><circle cx="526.5" cy="93.2" r="2.35"/><circle cx="533.0" cy="95.4" r="2.35"/><circle cx="539.5" cy="97.5" r="2.35"/><circle cx="546.0" cy="99.3" r="2.35"/><circle cx="552.4" cy="100.6" r="2.35"/><circle cx="558.9" cy="101.8" r="2.35"/><circle cx="565.4" cy="102.8" r="2.35"/><circle cx="571.9" cy="103.3" r="2.35"/><circle cx="578.4" cy="103.4" r="2.35"/><circle cx="584.9" cy="103.3" r="2.35"/><circle cx="591.4" cy="102.9" r="2.35"/><circle cx="597.9" cy="102.3" r="2.35"/><circle cx="604.3" cy="101.5" r="2.35"/><circle cx="610.8" cy="100.3" r="2.35"/><circle cx="617.3" cy="99.0" r="2.35"/><circle cx="623.8" cy="97.3" r="2.35"/><circle cx="630.3" cy="95.7" r="2.35"/><circle cx="636.8" cy="93.6" r="2.35"/><circle cx="643.2" cy="91.5" r="2.35"/><circle cx="649.7" cy="89.2" r="2.35"/><circle cx="656.2" cy="87.0" r="2.35"/></g><rect x="507.5" y="13.0" width="23" height="23" fill="#fff"/><rect x="507.1" y="12.6" width="149.20" height="109.60" fill="none" stroke="#3a3a3a" stroke-width="0.85"/><path d="M507.1 12.60h1.4M656.3 12.60h-1.4" stroke="#3a3a3a" stroke-width="0.85"/><text transform="translate(504.10 15.60) scale(1.0 1.08)" font-size="8.0" text-anchor="end" >1</text><path d="M507.1 49.13h1.4M656.3 49.13h-1.4" stroke="#3a3a3a" stroke-width="0.85"/><text transform="translate(504.10 52.13) scale(1.0 1.08)" font-size="8.0" text-anchor="end" >0.5</text><path d="M507.1 85.67h1.4M656.3 85.67h-1.4" stroke="#3a3a3a" stroke-width="0.85"/><text transform="translate(504.10 88.67) scale(1.0 1.08)" font-size="8.0" text-anchor="end" >0</text><path d="M507.1 122.20h1.4M656.3 122.20h-1.4" stroke="#3a3a3a" stroke-width="0.85"/><text transform="translate(504.10 125.20) scale(1.0 1.08)" font-size="8.0" text-anchor="end" >-0.5</text><path d="M507.10 122.2v-1.4M507.10 12.6v1.4" stroke="#3a3a3a" stroke-width="0.85"/><text x="507.1" y="133.0" font-size="7.5" text-anchor="middle">0</text><path d="M572.00 122.2v-1.4M572.00 12.6v1.4" stroke="#3a3a3a" stroke-width="0.85"/><text transform="translate(569.80 135.60) scale(1 1.1)" font-size="8.1" text-anchor="middle">10</text><text transform="translate(576.10 131.50) scale(1 1.1)" font-size="6.3" text-anchor="middle">3</text><path d="M636.80 122.2v-1.4M636.80 12.6v1.4" stroke="#3a3a3a" stroke-width="0.85"/><text transform="translate(639.75 135.60) scale(1 1.1)" font-size="8.1" text-anchor="middle">10</text><text transform="translate(646.05 131.50) scale(1 1.1)" font-size="6.3" text-anchor="middle">3</text><path d="M630.60 131.25L634.10 134.75M630.60 134.75L634.10 131.25" stroke="#262626" stroke-width="0.6"/><text transform="translate(626.30 135.60) scale(1 1.1)" font-size="8.1" text-anchor="middle">2</text><text transform="translate(508.50 31.20) scale(0.93 1.0)" font-size="20" text-anchor="start" fill="#000" stroke="#000" stroke-width="0.3">(d)</text><text transform="translate(486.00,67.40) rotate(-90)" font-size="9" text-anchor="middle">S(t)</text><text x="581.50" y="147.50" font-size="9" text-anchor="middle" >t</text><text transform="translate(674.6,70.3) rotate(-90) scale(0.89 1)" font-size="10.2" text-anchor="middle"><tspan font-style="italic">Xenopus</tspan> mutant</text><defs><clipPath id="hclip"><rect x="507.8" y="160.6" width="149.00" height="110.00"/></clipPath></defs><g clip-path="url(#hclip)"><g fill="none" stroke="#e0e0e0" stroke-width="0.7"><polyline points="510.0,202.3 515.0,193.1 519.7,185.5 524.3,180.6 529.0,176.9 533.6,174.3 538.3,172.3 543.0,172.0 547.8,171.7 552.4,171.0 557.1,170.6 561.8,170.5 566.5,170.5 571.2,170.6 575.5,170.8 580.0,171.0 584.7,171.4 589.4,172.2 594.4,172.8 599.1,173.9 603.8,175.7 608.5,177.7 613.3,179.7 617.8,181.8 622.5,184.4 627.2,186.7 631.7,189.4 636.2,191.9 640.9,194.0 645.5,196.2 650.2,197.7 654.9,199.2" stroke-dasharray="1.6 1.4"/><circle cx="510.0" cy="202.3" r="1.05"/><circle cx="515.0" cy="193.1" r="1.05"/><circle cx="519.7" cy="185.5" r="1.05"/><circle cx="524.3" cy="180.6" r="1.05"/><circle cx="529.0" cy="176.9" r="1.05"/><circle cx="533.6" cy="174.3" r="1.05"/><circle cx="538.3" cy="172.3" r="1.05"/><circle cx="543.0" cy="172.0" r="1.05"/><circle cx="547.8" cy="171.7" r="1.05"/><circle cx="552.4" cy="171.0" r="1.05"/><circle cx="557.1" cy="170.6" r="1.05"/><circle cx="561.8" cy="170.5" r="1.05"/><circle cx="566.5" cy="170.5" r="1.05"/><circle cx="571.2" cy="170.6" r="1.05"/><circle cx="575.5" cy="170.8" r="1.05"/><circle cx="580.0" cy="171.0" r="1.05"/><circle cx="584.7" cy="171.4" r="1.05"/><circle cx="589.4" cy="172.2" r="1.05"/><circle cx="594.4" cy="172.8" r="1.05"/><circle cx="599.1" cy="173.9" r="1.05"/><circle cx="603.8" cy="175.7" r="1.05"/><circle cx="608.5" cy="177.7" r="1.05"/><circle cx="613.3" cy="179.7" r="1.05"/><circle cx="617.8" cy="181.8" r="1.05"/><circle cx="622.5" cy="184.4" r="1.05"/><circle cx="627.2" cy="186.7" r="1.05"/><circle cx="631.7" cy="189.4" r="1.05"/><circle cx="636.2" cy="191.9" r="1.05"/><circle cx="640.9" cy="194.0" r="1.05"/><circle cx="645.5" cy="196.2" r="1.05"/><circle cx="650.2" cy="197.7" r="1.05"/><circle cx="654.9" cy="199.2" r="1.05"/><polyline points="510.0,204.7 515.0,195.6 519.7,188.2 524.3,183.3 529.0,179.5 533.6,176.8 538.3,174.8 543.0,174.4 547.8,174.1 552.4,173.3 557.1,172.9 561.8,172.8 566.5,172.7 571.2,172.9 575.5,173.1 580.0,173.2 584.7,173.7 589.4,174.3 594.4,174.7 599.1,175.7 603.8,177.3 608.5,179.2 613.3,181.1 617.8,183.2 622.5,185.9 627.2,188.4 631.7,191.3 636.2,194.2 640.9,196.8 645.5,199.4 650.2,201.5 654.9,203.6" stroke-dasharray="1.6 1.4"/><circle cx="510.0" cy="204.7" r="1.05"/><circle cx="515.0" cy="195.6" r="1.05"/><circle cx="519.7" cy="188.2" r="1.05"/><circle cx="524.3" cy="183.3" r="1.05"/><circle cx="529.0" cy="179.5" r="1.05"/><circle cx="533.6" cy="176.8" r="1.05"/><circle cx="538.3" cy="174.8" r="1.05"/><circle cx="543.0" cy="174.4" r="1.05"/><circle cx="547.8" cy="174.1" r="1.05"/><circle cx="552.4" cy="173.3" r="1.05"/><circle cx="557.1" cy="172.9" r="1.05"/><circle cx="561.8" cy="172.8" r="1.05"/><circle cx="566.5" cy="172.7" r="1.05"/><circle cx="571.2" cy="172.9" r="1.05"/><circle cx="575.5" cy="173.1" r="1.05"/><circle cx="580.0" cy="173.2" r="1.05"/><circle cx="584.7" cy="173.7" r="1.05"/><circle cx="589.4" cy="174.3" r="1.05"/><circle cx="594.4" cy="174.7" r="1.05"/><circle cx="599.1" cy="175.7" r="1.05"/><circle cx="603.8" cy="177.3" r="1.05"/><circle cx="608.5" cy="179.2" r="1.05"/><circle cx="613.3" cy="181.1" r="1.05"/><circle cx="617.8" cy="183.2" r="1.05"/><circle cx="622.5" cy="185.9" r="1.05"/><circle cx="627.2" cy="188.4" r="1.05"/><circle cx="631.7" cy="191.3" r="1.05"/><circle cx="636.2" cy="194.2" r="1.05"/><circle cx="640.9" cy="196.8" r="1.05"/><circle cx="645.5" cy="199.4" r="1.05"/><circle cx="650.2" cy="201.5" r="1.05"/><circle cx="654.9" cy="203.6" r="1.05"/><polyline points="510.0,206.2 515.0,197.3 519.7,190.1 524.3,185.3 529.0,181.5 533.6,178.9 538.3,176.9 543.0,176.6 547.8,176.5 552.4,175.9 557.1,175.5 561.8,175.6 566.5,175.6 571.2,175.9 575.5,176.2 580.0,176.4 584.7,177.0 589.4,177.7 594.4,178.2 599.1,179.3 603.8,180.8 608.5,182.7 613.3,184.5 617.8,186.6 622.5,189.1 627.2,191.5 631.7,194.3 636.2,197.1 640.9,199.6 645.5,202.2 650.2,204.3 654.9,206.5" stroke-dasharray="1.6 1.4"/><circle cx="510.0" cy="206.2" r="1.05"/><circle cx="515.0" cy="197.3" r="1.05"/><circle cx="519.7" cy="190.1" r="1.05"/><circle cx="524.3" cy="185.3" r="1.05"/><circle cx="529.0" cy="181.5" r="1.05"/><circle cx="533.6" cy="178.9" r="1.05"/><circle cx="538.3" cy="176.9" r="1.05"/><circle cx="543.0" cy="176.6" r="1.05"/><circle cx="547.8" cy="176.5" r="1.05"/><circle cx="552.4" cy="175.9" r="1.05"/><circle cx="557.1" cy="175.5" r="1.05"/><circle cx="561.8" cy="175.6" r="1.05"/><circle cx="566.5" cy="175.6" r="1.05"/><circle cx="571.2" cy="175.9" r="1.05"/><circle cx="575.5" cy="176.2" r="1.05"/><circle cx="580.0" cy="176.4" r="1.05"/><circle cx="584.7" cy="177.0" r="1.05"/><circle cx="589.4" cy="177.7" r="1.05"/><circle cx="594.4" cy="178.2" r="1.05"/><circle cx="599.1" cy="179.3" r="1.05"/><circle cx="603.8" cy="180.8" r="1.05"/><circle cx="608.5" cy="182.7" r="1.05"/><circle cx="613.3" cy="184.5" r="1.05"/><circle cx="617.8" cy="186.6" r="1.05"/><circle cx="622.5" cy="189.1" r="1.05"/><circle cx="627.2" cy="191.5" r="1.05"/><circle cx="631.7" cy="194.3" r="1.05"/><circle cx="636.2" cy="197.1" r="1.05"/><circle cx="640.9" cy="199.6" r="1.05"/><circle cx="645.5" cy="202.2" r="1.05"/><circle cx="650.2" cy="204.3" r="1.05"/><circle cx="654.9" cy="206.5" r="1.05"/><polyline points="510.0,209.0 515.0,200.2 519.7,193.0 524.3,187.9 529.0,183.8 533.6,180.9 538.3,178.7 543.0,178.3 547.8,178.0 552.4,177.3 557.1,176.9 561.8,176.9 566.5,177.0 571.2,177.3 575.5,177.7 580.0,178.1 584.7,178.9 589.4,179.9 594.4,180.8 599.1,182.2 603.8,184.1 608.5,186.3 613.3,188.5 617.8,190.9 622.5,193.8 627.2,196.5 631.7,199.5 636.2,202.5 640.9,205.1 645.5,207.8 650.2,209.9 654.9,212.0" stroke-dasharray="1.6 1.4"/><circle cx="510.0" cy="209.0" r="1.05"/><circle cx="515.0" cy="200.2" r="1.05"/><circle cx="519.7" cy="193.0" r="1.05"/><circle cx="524.3" cy="187.9" r="1.05"/><circle cx="529.0" cy="183.8" r="1.05"/><circle cx="533.6" cy="180.9" r="1.05"/><circle cx="538.3" cy="178.7" r="1.05"/><circle cx="543.0" cy="178.3" r="1.05"/><circle cx="547.8" cy="178.0" r="1.05"/><circle cx="552.4" cy="177.3" r="1.05"/><circle cx="557.1" cy="176.9" r="1.05"/><circle cx="561.8" cy="176.9" r="1.05"/><circle cx="566.5" cy="177.0" r="1.05"/><circle cx="571.2" cy="177.3" r="1.05"/><circle cx="575.5" cy="177.7" r="1.05"/><circle cx="580.0" cy="178.1" r="1.05"/><circle cx="584.7" cy="178.9" r="1.05"/><circle cx="589.4" cy="179.9" r="1.05"/><circle cx="594.4" cy="180.8" r="1.05"/><circle cx="599.1" cy="182.2" r="1.05"/><circle cx="603.8" cy="184.1" r="1.05"/><circle cx="608.5" cy="186.3" r="1.05"/><circle cx="613.3" cy="188.5" r="1.05"/><circle cx="617.8" cy="190.9" r="1.05"/><circle cx="622.5" cy="193.8" r="1.05"/><circle cx="627.2" cy="196.5" r="1.05"/><circle cx="631.7" cy="199.5" r="1.05"/><circle cx="636.2" cy="202.5" r="1.05"/><circle cx="640.9" cy="205.1" r="1.05"/><circle cx="645.5" cy="207.8" r="1.05"/><circle cx="650.2" cy="209.9" r="1.05"/><circle cx="654.9" cy="212.0" r="1.05"/><polyline points="510.0,210.4 515.0,201.7 519.7,194.7 524.3,189.6 529.0,185.6 533.6,182.8 538.3,180.6 543.0,180.3 547.8,180.0 552.4,179.4 557.1,179.1 561.8,179.2 566.5,179.4 571.2,179.8 575.5,180.3 580.0,180.7 584.7,181.7 589.4,182.8 594.4,183.8 599.1,185.2 603.8,187.1 608.5,189.3 613.3,191.5 617.8,193.8 622.5,196.6 627.2,199.3 631.7,202.2 636.2,205.1 640.9,207.7 645.5,210.4 650.2,212.6 654.9,214.8" stroke-dasharray="1.6 1.4"/><circle cx="510.0" cy="210.4" r="1.05"/><circle cx="515.0" cy="201.7" r="1.05"/><circle cx="519.7" cy="194.7" r="1.05"/><circle cx="524.3" cy="189.6" r="1.05"/><circle cx="529.0" cy="185.6" r="1.05"/><circle cx="533.6" cy="182.8" r="1.05"/><circle cx="538.3" cy="180.6" r="1.05"/><circle cx="543.0" cy="180.3" r="1.05"/><circle cx="547.8" cy="180.0" r="1.05"/><circle cx="552.4" cy="179.4" r="1.05"/><circle cx="557.1" cy="179.1" r="1.05"/><circle cx="561.8" cy="179.2" r="1.05"/><circle cx="566.5" cy="179.4" r="1.05"/><circle cx="571.2" cy="179.8" r="1.05"/><circle cx="575.5" cy="180.3" r="1.05"/><circle cx="580.0" cy="180.7" r="1.05"/><circle cx="584.7" cy="181.7" r="1.05"/><circle cx="589.4" cy="182.8" r="1.05"/><circle cx="594.4" cy="183.8" r="1.05"/><circle cx="599.1" cy="185.2" r="1.05"/><circle cx="603.8" cy="187.1" r="1.05"/><circle cx="608.5" cy="189.3" r="1.05"/><circle cx="613.3" cy="191.5" r="1.05"/><circle cx="617.8" cy="193.8" r="1.05"/><circle cx="622.5" cy="196.6" r="1.05"/><circle cx="627.2" cy="199.3" r="1.05"/><circle cx="631.7" cy="202.2" r="1.05"/><circle cx="636.2" cy="205.1" r="1.05"/><circle cx="640.9" cy="207.7" r="1.05"/><circle cx="645.5" cy="210.4" r="1.05"/><circle cx="650.2" cy="212.6" r="1.05"/><circle cx="654.9" cy="214.8" r="1.05"/><polyline points="510.0,214.4 515.0,206.0 519.7,199.0 524.3,193.6 529.0,189.1 533.6,185.8 538.3,183.1 543.0,182.3 547.8,181.6 552.4,180.5 557.1,179.8 561.8,179.5 566.5,179.4 571.2,179.6 575.5,179.8 580.0,180.1 584.7,181.1 589.4,182.3 594.4,183.5 599.1,185.3 603.8,187.7 608.5,190.5 613.3,193.3 617.8,196.4 622.5,200.0 627.2,203.5 631.7,207.2 636.2,210.9 640.9,214.2 645.5,217.5 650.2,220.1 654.9,222.6" stroke-dasharray="1.6 1.4"/><circle cx="510.0" cy="214.4" r="1.05"/><circle cx="515.0" cy="206.0" r="1.05"/><circle cx="519.7" cy="199.0" r="1.05"/><circle cx="524.3" cy="193.6" r="1.05"/><circle cx="529.0" cy="189.1" r="1.05"/><circle cx="533.6" cy="185.8" r="1.05"/><circle cx="538.3" cy="183.1" r="1.05"/><circle cx="543.0" cy="182.3" r="1.05"/><circle cx="547.8" cy="181.6" r="1.05"/><circle cx="552.4" cy="180.5" r="1.05"/><circle cx="557.1" cy="179.8" r="1.05"/><circle cx="561.8" cy="179.5" r="1.05"/><circle cx="566.5" cy="179.4" r="1.05"/><circle cx="571.2" cy="179.6" r="1.05"/><circle cx="575.5" cy="179.8" r="1.05"/><circle cx="580.0" cy="180.1" r="1.05"/><circle cx="584.7" cy="181.1" r="1.05"/><circle cx="589.4" cy="182.3" r="1.05"/><circle cx="594.4" cy="183.5" r="1.05"/><circle cx="599.1" cy="185.3" r="1.05"/><circle cx="603.8" cy="187.7" r="1.05"/><circle cx="608.5" cy="190.5" r="1.05"/><circle cx="613.3" cy="193.3" r="1.05"/><circle cx="617.8" cy="196.4" r="1.05"/><circle cx="622.5" cy="200.0" r="1.05"/><circle cx="627.2" cy="203.5" r="1.05"/><circle cx="631.7" cy="207.2" r="1.05"/><circle cx="636.2" cy="210.9" r="1.05"/><circle cx="640.9" cy="214.2" r="1.05"/><circle cx="645.5" cy="217.5" r="1.05"/><circle cx="650.2" cy="220.1" r="1.05"/><circle cx="654.9" cy="222.6" r="1.05"/><polyline points="510.0,215.0 515.0,206.2 519.7,199.1 524.3,193.5 529.0,188.9 533.6,185.6 538.3,183.0 543.0,182.3 547.8,181.9 552.4,181.1 557.1,180.7 561.8,180.8 566.5,181.1 571.2,181.7 575.5,182.4 580.0,183.2 584.7,184.7 589.4,186.4 594.4,188.1 599.1,190.3 603.8,192.9 608.5,195.8 613.3,198.7 617.8,201.7 622.5,205.0 627.2,208.2 631.7,211.5 636.2,214.6 640.9,217.3 645.5,220.0 650.2,222.0 654.9,223.9" stroke-dasharray="1.6 1.4"/><circle cx="510.0" cy="215.0" r="1.05"/><circle cx="515.0" cy="206.2" r="1.05"/><circle cx="519.7" cy="199.1" r="1.05"/><circle cx="524.3" cy="193.5" r="1.05"/><circle cx="529.0" cy="188.9" r="1.05"/><circle cx="533.6" cy="185.6" r="1.05"/><circle cx="538.3" cy="183.0" r="1.05"/><circle cx="543.0" cy="182.3" r="1.05"/><circle cx="547.8" cy="181.9" r="1.05"/><circle cx="552.4" cy="181.1" r="1.05"/><circle cx="557.1" cy="180.7" r="1.05"/><circle cx="561.8" cy="180.8" r="1.05"/><circle cx="566.5" cy="181.1" r="1.05"/><circle cx="571.2" cy="181.7" r="1.05"/><circle cx="575.5" cy="182.4" r="1.05"/><circle cx="580.0" cy="183.2" r="1.05"/><circle cx="584.7" cy="184.7" r="1.05"/><circle cx="589.4" cy="186.4" r="1.05"/><circle cx="594.4" cy="188.1" r="1.05"/><circle cx="599.1" cy="190.3" r="1.05"/><circle cx="603.8" cy="192.9" r="1.05"/><circle cx="608.5" cy="195.8" r="1.05"/><circle cx="613.3" cy="198.7" r="1.05"/><circle cx="617.8" cy="201.7" r="1.05"/><circle cx="622.5" cy="205.0" r="1.05"/><circle cx="627.2" cy="208.2" r="1.05"/><circle cx="631.7" cy="211.5" r="1.05"/><circle cx="636.2" cy="214.6" r="1.05"/><circle cx="640.9" cy="217.3" r="1.05"/><circle cx="645.5" cy="220.0" r="1.05"/><circle cx="650.2" cy="222.0" r="1.05"/><circle cx="654.9" cy="223.9" r="1.05"/><polyline points="510.0,216.8 515.0,208.9 519.7,202.6 524.3,197.6 529.0,193.4 533.6,190.3 538.3,187.8 543.0,187.1 547.8,186.6 552.4,185.7 557.1,185.0 561.8,184.7 566.5,184.6 571.2,184.7 575.5,184.8 580.0,184.8 584.7,185.7 589.4,186.8 594.4,187.7 599.1,189.2 603.8,191.3 608.5,193.7 613.3,196.2 617.8,199.0 622.5,202.4 627.2,205.8 631.7,209.5 636.2,213.3 640.9,216.9 645.5,220.6 650.2,223.8 654.9,226.9" stroke-dasharray="1.6 1.4"/><circle cx="510.0" cy="216.8" r="1.05"/><circle cx="515.0" cy="208.9" r="1.05"/><circle cx="519.7" cy="202.6" r="1.05"/><circle cx="524.3" cy="197.6" r="1.05"/><circle cx="529.0" cy="193.4" r="1.05"/><circle cx="533.6" cy="190.3" r="1.05"/><circle cx="538.3" cy="187.8" r="1.05"/><circle cx="543.0" cy="187.1" r="1.05"/><circle cx="547.8" cy="186.6" r="1.05"/><circle cx="552.4" cy="185.7" r="1.05"/><circle cx="557.1" cy="185.0" r="1.05"/><circle cx="561.8" cy="184.7" r="1.05"/><circle cx="566.5" cy="184.6" r="1.05"/><circle cx="571.2" cy="184.7" r="1.05"/><circle cx="575.5" cy="184.8" r="1.05"/><circle cx="580.0" cy="184.8" r="1.05"/><circle cx="584.7" cy="185.7" r="1.05"/><circle cx="589.4" cy="186.8" r="1.05"/><circle cx="594.4" cy="187.7" r="1.05"/><circle cx="599.1" cy="189.2" r="1.05"/><circle cx="603.8" cy="191.3" r="1.05"/><circle cx="608.5" cy="193.7" r="1.05"/><circle cx="613.3" cy="196.2" r="1.05"/><circle cx="617.8" cy="199.0" r="1.05"/><circle cx="622.5" cy="202.4" r="1.05"/><circle cx="627.2" cy="205.8" r="1.05"/><circle cx="631.7" cy="209.5" r="1.05"/><circle cx="636.2" cy="213.3" r="1.05"/><circle cx="640.9" cy="216.9" r="1.05"/><circle cx="645.5" cy="220.6" r="1.05"/><circle cx="650.2" cy="223.8" r="1.05"/><circle cx="654.9" cy="226.9" r="1.05"/><polyline points="510.0,217.5 515.0,209.5 519.7,203.2 524.3,198.1 529.0,194.1 533.6,191.2 538.3,189.0 543.0,188.8 547.8,188.8 552.4,188.4 557.1,188.3 561.8,188.6 566.5,189.0 571.2,189.6 575.5,190.1 580.0,190.6 584.7,191.9 589.4,193.3 594.4,194.5 599.1,196.1 603.8,198.1 608.5,200.4 613.3,202.7 617.8,205.1 622.5,208.0 627.2,210.8 631.7,213.9 636.2,217.1 640.9,220.0 645.5,223.0 650.2,225.6 654.9,228.4" stroke-dasharray="1.6 1.4"/><circle cx="510.0" cy="217.5" r="1.05"/><circle cx="515.0" cy="209.5" r="1.05"/><circle cx="519.7" cy="203.2" r="1.05"/><circle cx="524.3" cy="198.1" r="1.05"/><circle cx="529.0" cy="194.1" r="1.05"/><circle cx="533.6" cy="191.2" r="1.05"/><circle cx="538.3" cy="189.0" r="1.05"/><circle cx="543.0" cy="188.8" r="1.05"/><circle cx="547.8" cy="188.8" r="1.05"/><circle cx="552.4" cy="188.4" r="1.05"/><circle cx="557.1" cy="188.3" r="1.05"/><circle cx="561.8" cy="188.6" r="1.05"/><circle cx="566.5" cy="189.0" r="1.05"/><circle cx="571.2" cy="189.6" r="1.05"/><circle cx="575.5" cy="190.1" r="1.05"/><circle cx="580.0" cy="190.6" r="1.05"/><circle cx="584.7" cy="191.9" r="1.05"/><circle cx="589.4" cy="193.3" r="1.05"/><circle cx="594.4" cy="194.5" r="1.05"/><circle cx="599.1" cy="196.1" r="1.05"/><circle cx="603.8" cy="198.1" r="1.05"/><circle cx="608.5" cy="200.4" r="1.05"/><circle cx="613.3" cy="202.7" r="1.05"/><circle cx="617.8" cy="205.1" r="1.05"/><circle cx="622.5" cy="208.0" r="1.05"/><circle cx="627.2" cy="210.8" r="1.05"/><circle cx="631.7" cy="213.9" r="1.05"/><circle cx="636.2" cy="217.1" r="1.05"/><circle cx="640.9" cy="220.0" r="1.05"/><circle cx="645.5" cy="223.0" r="1.05"/><circle cx="650.2" cy="225.6" r="1.05"/><circle cx="654.9" cy="228.4" r="1.05"/><polyline points="510.0,221.0 515.0,213.4 519.7,207.3 524.3,202.4 529.0,198.3 533.6,195.4 538.3,193.1 543.0,192.8 547.8,192.8 552.4,192.3 557.1,192.1 561.8,192.2 566.5,192.4 571.2,192.7 575.5,192.9 580.0,193.1 584.7,194.2 589.4,195.4 594.4,196.4 599.1,197.9 603.8,199.9 608.5,202.2 613.3,204.6 617.8,207.2 622.5,210.3 627.2,213.5 631.7,217.0 636.2,220.5 640.9,223.9 645.5,227.5 650.2,230.7 654.9,233.9" stroke-dasharray="1.6 1.4"/><circle cx="510.0" cy="221.0" r="1.05"/><circle cx="515.0" cy="213.4" r="1.05"/><circle cx="519.7" cy="207.3" r="1.05"/><circle cx="524.3" cy="202.4" r="1.05"/><circle cx="529.0" cy="198.3" r="1.05"/><circle cx="533.6" cy="195.4" r="1.05"/><circle cx="538.3" cy="193.1" r="1.05"/><circle cx="543.0" cy="192.8" r="1.05"/><circle cx="547.8" cy="192.8" r="1.05"/><circle cx="552.4" cy="192.3" r="1.05"/><circle cx="557.1" cy="192.1" r="1.05"/><circle cx="561.8" cy="192.2" r="1.05"/><circle cx="566.5" cy="192.4" r="1.05"/><circle cx="571.2" cy="192.7" r="1.05"/><circle cx="575.5" cy="192.9" r="1.05"/><circle cx="580.0" cy="193.1" r="1.05"/><circle cx="584.7" cy="194.2" r="1.05"/><circle cx="589.4" cy="195.4" r="1.05"/><circle cx="594.4" cy="196.4" r="1.05"/><circle cx="599.1" cy="197.9" r="1.05"/><circle cx="603.8" cy="199.9" r="1.05"/><circle cx="608.5" cy="202.2" r="1.05"/><circle cx="613.3" cy="204.6" r="1.05"/><circle cx="617.8" cy="207.2" r="1.05"/><circle cx="622.5" cy="210.3" r="1.05"/><circle cx="627.2" cy="213.5" r="1.05"/><circle cx="631.7" cy="217.0" r="1.05"/><circle cx="636.2" cy="220.5" r="1.05"/><circle cx="640.9" cy="223.9" r="1.05"/><circle cx="645.5" cy="227.5" r="1.05"/><circle cx="650.2" cy="230.7" r="1.05"/><circle cx="654.9" cy="233.9" r="1.05"/><polyline points="510.0,222.9 515.0,214.6 519.7,207.9 524.3,202.3 529.0,197.9 533.6,194.6 538.3,192.1 543.0,191.8 547.8,191.9 552.4,191.7 557.1,191.9 561.8,192.6 566.5,193.4 571.2,194.5 575.5,195.6 580.0,196.7 584.7,198.7 589.4,200.7 594.4,202.5 599.1,204.7 603.8,207.4 608.5,210.3 613.3,213.0 617.8,215.9 622.5,219.0 627.2,222.0 631.7,225.0 636.2,228.0 640.9,230.6 645.5,233.3 650.2,235.4 654.9,237.6" stroke-dasharray="1.6 1.4"/><circle cx="510.0" cy="222.9" r="1.05"/><circle cx="515.0" cy="214.6" r="1.05"/><circle cx="519.7" cy="207.9" r="1.05"/><circle cx="524.3" cy="202.3" r="1.05"/><circle cx="529.0" cy="197.9" r="1.05"/><circle cx="533.6" cy="194.6" r="1.05"/><circle cx="538.3" cy="192.1" r="1.05"/><circle cx="543.0" cy="191.8" r="1.05"/><circle cx="547.8" cy="191.9" r="1.05"/><circle cx="552.4" cy="191.7" r="1.05"/><circle cx="557.1" cy="191.9" r="1.05"/><circle cx="561.8" cy="192.6" r="1.05"/><circle cx="566.5" cy="193.4" r="1.05"/><circle cx="571.2" cy="194.5" r="1.05"/><circle cx="575.5" cy="195.6" r="1.05"/><circle cx="580.0" cy="196.7" r="1.05"/><circle cx="584.7" cy="198.7" r="1.05"/><circle cx="589.4" cy="200.7" r="1.05"/><circle cx="594.4" cy="202.5" r="1.05"/><circle cx="599.1" cy="204.7" r="1.05"/><circle cx="603.8" cy="207.4" r="1.05"/><circle cx="608.5" cy="210.3" r="1.05"/><circle cx="613.3" cy="213.0" r="1.05"/><circle cx="617.8" cy="215.9" r="1.05"/><circle cx="622.5" cy="219.0" r="1.05"/><circle cx="627.2" cy="222.0" r="1.05"/><circle cx="631.7" cy="225.0" r="1.05"/><circle cx="636.2" cy="228.0" r="1.05"/><circle cx="640.9" cy="230.6" r="1.05"/><circle cx="645.5" cy="233.3" r="1.05"/><circle cx="650.2" cy="235.4" r="1.05"/><circle cx="654.9" cy="237.6" r="1.05"/><polyline points="510.0,227.3 515.0,219.6 519.7,213.5 524.3,208.1 529.0,203.6 533.6,200.2 538.3,197.6 543.0,197.1 547.8,197.0 552.4,196.5 557.1,196.4 561.8,196.5 566.5,196.8 571.2,197.4 575.5,197.9 580.0,198.4 584.7,199.8 589.4,201.3 594.4,202.8 599.1,204.7 603.8,207.3 608.5,210.2 613.3,213.1 617.8,216.2 622.5,219.9 627.2,223.4 631.7,227.2 636.2,231.0 640.9,234.6 645.5,238.2 650.2,241.4 654.9,244.5" stroke-dasharray="1.6 1.4"/><circle cx="510.0" cy="227.3" r="1.05"/><circle cx="515.0" cy="219.6" r="1.05"/><circle cx="519.7" cy="213.5" r="1.05"/><circle cx="524.3" cy="208.1" r="1.05"/><circle cx="529.0" cy="203.6" r="1.05"/><circle cx="533.6" cy="200.2" r="1.05"/><circle cx="538.3" cy="197.6" r="1.05"/><circle cx="543.0" cy="197.1" r="1.05"/><circle cx="547.8" cy="197.0" r="1.05"/><circle cx="552.4" cy="196.5" r="1.05"/><circle cx="557.1" cy="196.4" r="1.05"/><circle cx="561.8" cy="196.5" r="1.05"/><circle cx="566.5" cy="196.8" r="1.05"/><circle cx="571.2" cy="197.4" r="1.05"/><circle cx="575.5" cy="197.9" r="1.05"/><circle cx="580.0" cy="198.4" r="1.05"/><circle cx="584.7" cy="199.8" r="1.05"/><circle cx="589.4" cy="201.3" r="1.05"/><circle cx="594.4" cy="202.8" r="1.05"/><circle cx="599.1" cy="204.7" r="1.05"/><circle cx="603.8" cy="207.3" r="1.05"/><circle cx="608.5" cy="210.2" r="1.05"/><circle cx="613.3" cy="213.1" r="1.05"/><circle cx="617.8" cy="216.2" r="1.05"/><circle cx="622.5" cy="219.9" r="1.05"/><circle cx="627.2" cy="223.4" r="1.05"/><circle cx="631.7" cy="227.2" r="1.05"/><circle cx="636.2" cy="231.0" r="1.05"/><circle cx="640.9" cy="234.6" r="1.05"/><circle cx="645.5" cy="238.2" r="1.05"/><circle cx="650.2" cy="241.4" r="1.05"/><circle cx="654.9" cy="244.5" r="1.05"/><polyline points="510.0,228.9 515.0,221.7 519.7,216.0 524.3,211.0 529.0,206.8 533.6,203.7 538.3,201.3 543.0,201.2 547.8,201.5 552.4,201.3 557.1,201.4 561.8,201.7 566.5,202.0 571.2,202.4 575.5,202.8 580.0,203.1 584.7,204.2 589.4,205.4 594.4,206.4 599.1,208.0 603.8,210.1 608.5,212.7 613.3,215.3 617.8,218.0 622.5,221.4 627.2,224.7 631.7,228.4 636.2,232.3 640.9,235.9 645.5,239.8 650.2,243.3 654.9,247.0" stroke-dasharray="1.6 1.4"/><circle cx="510.0" cy="228.9" r="1.05"/><circle cx="515.0" cy="221.7" r="1.05"/><circle cx="519.7" cy="216.0" r="1.05"/><circle cx="524.3" cy="211.0" r="1.05"/><circle cx="529.0" cy="206.8" r="1.05"/><circle cx="533.6" cy="203.7" r="1.05"/><circle cx="538.3" cy="201.3" r="1.05"/><circle cx="543.0" cy="201.2" r="1.05"/><circle cx="547.8" cy="201.5" r="1.05"/><circle cx="552.4" cy="201.3" r="1.05"/><circle cx="557.1" cy="201.4" r="1.05"/><circle cx="561.8" cy="201.7" r="1.05"/><circle cx="566.5" cy="202.0" r="1.05"/><circle cx="571.2" cy="202.4" r="1.05"/><circle cx="575.5" cy="202.8" r="1.05"/><circle cx="580.0" cy="203.1" r="1.05"/><circle cx="584.7" cy="204.2" r="1.05"/><circle cx="589.4" cy="205.4" r="1.05"/><circle cx="594.4" cy="206.4" r="1.05"/><circle cx="599.1" cy="208.0" r="1.05"/><circle cx="603.8" cy="210.1" r="1.05"/><circle cx="608.5" cy="212.7" r="1.05"/><circle cx="613.3" cy="215.3" r="1.05"/><circle cx="617.8" cy="218.0" r="1.05"/><circle cx="622.5" cy="221.4" r="1.05"/><circle cx="627.2" cy="224.7" r="1.05"/><circle cx="631.7" cy="228.4" r="1.05"/><circle cx="636.2" cy="232.3" r="1.05"/><circle cx="640.9" cy="235.9" r="1.05"/><circle cx="645.5" cy="239.8" r="1.05"/><circle cx="650.2" cy="243.3" r="1.05"/><circle cx="654.9" cy="247.0" r="1.05"/><polyline points="510.0,232.6 515.0,225.2 519.7,219.3 524.3,213.7 529.0,209.1 533.6,205.6 538.3,202.8 543.0,202.4 547.8,202.5 552.4,202.2 557.1,202.3 561.8,202.6 566.5,203.0 571.2,203.7 575.5,204.3 580.0,204.9 584.7,206.4 589.4,208.0 594.4,209.6 599.1,211.6 603.8,214.3 608.5,217.4 613.3,220.6 617.8,223.8 622.5,227.6 627.2,231.3 631.7,235.3 636.2,239.2 640.9,242.9 645.5,246.7 650.2,250.0 654.9,253.3" stroke-dasharray="1.6 1.4"/><circle cx="510.0" cy="232.6" r="1.05"/><circle cx="515.0" cy="225.2" r="1.05"/><circle cx="519.7" cy="219.3" r="1.05"/><circle cx="524.3" cy="213.7" r="1.05"/><circle cx="529.0" cy="209.1" r="1.05"/><circle cx="533.6" cy="205.6" r="1.05"/><circle cx="538.3" cy="202.8" r="1.05"/><circle cx="543.0" cy="202.4" r="1.05"/><circle cx="547.8" cy="202.5" r="1.05"/><circle cx="552.4" cy="202.2" r="1.05"/><circle cx="557.1" cy="202.3" r="1.05"/><circle cx="561.8" cy="202.6" r="1.05"/><circle cx="566.5" cy="203.0" r="1.05"/><circle cx="571.2" cy="203.7" r="1.05"/><circle cx="575.5" cy="204.3" r="1.05"/><circle cx="580.0" cy="204.9" r="1.05"/><circle cx="584.7" cy="206.4" r="1.05"/><circle cx="589.4" cy="208.0" r="1.05"/><circle cx="594.4" cy="209.6" r="1.05"/><circle cx="599.1" cy="211.6" r="1.05"/><circle cx="603.8" cy="214.3" r="1.05"/><circle cx="608.5" cy="217.4" r="1.05"/><circle cx="613.3" cy="220.6" r="1.05"/><circle cx="617.8" cy="223.8" r="1.05"/><circle cx="622.5" cy="227.6" r="1.05"/><circle cx="627.2" cy="231.3" r="1.05"/><circle cx="631.7" cy="235.3" r="1.05"/><circle cx="636.2" cy="239.2" r="1.05"/><circle cx="640.9" cy="242.9" r="1.05"/><circle cx="645.5" cy="246.7" r="1.05"/><circle cx="650.2" cy="250.0" r="1.05"/><circle cx="654.9" cy="253.3" r="1.05"/><polyline points="510.0,235.5 515.0,228.1 519.7,222.4 524.3,216.8 529.0,212.1 533.6,208.5 538.3,205.7 543.0,205.3 547.8,205.5 552.4,205.2 557.1,205.1 561.8,205.3 566.5,205.6 571.2,206.1 575.5,206.6 580.0,207.2 584.7,208.7 589.4,210.3 594.4,211.9 599.1,214.0 603.8,216.9 608.5,220.2 613.3,223.6 617.8,227.1 622.5,231.2 627.2,235.1 631.7,239.2 636.2,243.2 640.9,247.1 645.5,251.0 650.2,254.5 654.9,258.0" stroke-dasharray="1.6 1.4"/><circle cx="510.0" cy="235.5" r="1.05"/><circle cx="515.0" cy="228.1" r="1.05"/><circle cx="519.7" cy="222.4" r="1.05"/><circle cx="524.3" cy="216.8" r="1.05"/><circle cx="529.0" cy="212.1" r="1.05"/><circle cx="533.6" cy="208.5" r="1.05"/><circle cx="538.3" cy="205.7" r="1.05"/><circle cx="543.0" cy="205.3" r="1.05"/><circle cx="547.8" cy="205.5" r="1.05"/><circle cx="552.4" cy="205.2" r="1.05"/><circle cx="557.1" cy="205.1" r="1.05"/><circle cx="561.8" cy="205.3" r="1.05"/><circle cx="566.5" cy="205.6" r="1.05"/><circle cx="571.2" cy="206.1" r="1.05"/><circle cx="575.5" cy="206.6" r="1.05"/><circle cx="580.0" cy="207.2" r="1.05"/><circle cx="584.7" cy="208.7" r="1.05"/><circle cx="589.4" cy="210.3" r="1.05"/><circle cx="594.4" cy="211.9" r="1.05"/><circle cx="599.1" cy="214.0" r="1.05"/><circle cx="603.8" cy="216.9" r="1.05"/><circle cx="608.5" cy="220.2" r="1.05"/><circle cx="613.3" cy="223.6" r="1.05"/><circle cx="617.8" cy="227.1" r="1.05"/><circle cx="622.5" cy="231.2" r="1.05"/><circle cx="627.2" cy="235.1" r="1.05"/><circle cx="631.7" cy="239.2" r="1.05"/><circle cx="636.2" cy="243.2" r="1.05"/><circle cx="640.9" cy="247.1" r="1.05"/><circle cx="645.5" cy="251.0" r="1.05"/><circle cx="650.2" cy="254.5" r="1.05"/><circle cx="654.9" cy="258.0" r="1.05"/><polyline points="510.0,206.9 515.0,198.3 519.7,191.4 524.3,186.7 529.0,183.2 533.6,180.7 538.3,178.8 543.0,178.7 547.8,178.6 552.4,178.1 557.1,177.8 561.8,177.8 566.5,177.9 571.2,178.1 575.5,178.3 580.0,178.3 584.7,178.9 589.4,179.4 594.4,179.8 599.1,180.6 603.8,181.9 608.5,183.5 613.3,185.2 617.8,187.0 622.5,189.4 627.2,191.8 631.7,194.5 636.2,197.4 640.9,200.0 645.5,202.8 650.2,205.2 654.9,207.7" stroke-dasharray="1.6 1.4"/><circle cx="510.0" cy="206.9" r="1.05"/><circle cx="515.0" cy="198.3" r="1.05"/><circle cx="519.7" cy="191.4" r="1.05"/><circle cx="524.3" cy="186.7" r="1.05"/><circle cx="529.0" cy="183.2" r="1.05"/><circle cx="533.6" cy="180.7" r="1.05"/><circle cx="538.3" cy="178.8" r="1.05"/><circle cx="543.0" cy="178.7" r="1.05"/><circle cx="547.8" cy="178.6" r="1.05"/><circle cx="552.4" cy="178.1" r="1.05"/><circle cx="557.1" cy="177.8" r="1.05"/><circle cx="561.8" cy="177.8" r="1.05"/><circle cx="566.5" cy="177.9" r="1.05"/><circle cx="571.2" cy="178.1" r="1.05"/><circle cx="575.5" cy="178.3" r="1.05"/><circle cx="580.0" cy="178.3" r="1.05"/><circle cx="584.7" cy="178.9" r="1.05"/><circle cx="589.4" cy="179.4" r="1.05"/><circle cx="594.4" cy="179.8" r="1.05"/><circle cx="599.1" cy="180.6" r="1.05"/><circle cx="603.8" cy="181.9" r="1.05"/><circle cx="608.5" cy="183.5" r="1.05"/><circle cx="613.3" cy="185.2" r="1.05"/><circle cx="617.8" cy="187.0" r="1.05"/><circle cx="622.5" cy="189.4" r="1.05"/><circle cx="627.2" cy="191.8" r="1.05"/><circle cx="631.7" cy="194.5" r="1.05"/><circle cx="636.2" cy="197.4" r="1.05"/><circle cx="640.9" cy="200.0" r="1.05"/><circle cx="645.5" cy="202.8" r="1.05"/><circle cx="650.2" cy="205.2" r="1.05"/><circle cx="654.9" cy="207.7" r="1.05"/><polyline points="510.0,222.7 515.0,214.7 519.7,208.3 524.3,202.8 529.0,198.4 533.6,195.1 538.3,192.6 543.0,192.1 547.8,192.0 552.4,191.5 557.1,191.3 561.8,191.5 566.5,191.9 571.2,192.6 575.5,193.2 580.0,193.8 584.7,195.4 589.4,197.0 594.4,198.5 599.1,200.5 603.8,203.1 608.5,205.9 613.3,208.6 617.8,211.6 622.5,215.0 627.2,218.2 631.7,221.7 636.2,225.2 640.9,228.3 645.5,231.6 650.2,234.3 654.9,237.0" stroke-dasharray="1.6 1.4"/><circle cx="510.0" cy="222.7" r="1.05"/><circle cx="515.0" cy="214.7" r="1.05"/><circle cx="519.7" cy="208.3" r="1.05"/><circle cx="524.3" cy="202.8" r="1.05"/><circle cx="529.0" cy="198.4" r="1.05"/><circle cx="533.6" cy="195.1" r="1.05"/><circle cx="538.3" cy="192.6" r="1.05"/><circle cx="543.0" cy="192.1" r="1.05"/><circle cx="547.8" cy="192.0" r="1.05"/><circle cx="552.4" cy="191.5" r="1.05"/><circle cx="557.1" cy="191.3" r="1.05"/><circle cx="561.8" cy="191.5" r="1.05"/><circle cx="566.5" cy="191.9" r="1.05"/><circle cx="571.2" cy="192.6" r="1.05"/><circle cx="575.5" cy="193.2" r="1.05"/><circle cx="580.0" cy="193.8" r="1.05"/><circle cx="584.7" cy="195.4" r="1.05"/><circle cx="589.4" cy="197.0" r="1.05"/><circle cx="594.4" cy="198.5" r="1.05"/><circle cx="599.1" cy="200.5" r="1.05"/><circle cx="603.8" cy="203.1" r="1.05"/><circle cx="608.5" cy="205.9" r="1.05"/><circle cx="613.3" cy="208.6" r="1.05"/><circle cx="617.8" cy="211.6" r="1.05"/><circle cx="622.5" cy="215.0" r="1.05"/><circle cx="627.2" cy="218.2" r="1.05"/><circle cx="631.7" cy="221.7" r="1.05"/><circle cx="636.2" cy="225.2" r="1.05"/><circle cx="640.9" cy="228.3" r="1.05"/><circle cx="645.5" cy="231.6" r="1.05"/><circle cx="650.2" cy="234.3" r="1.05"/><circle cx="654.9" cy="237.0" r="1.05"/></g><polyline fill="none" stroke="#5c5c5c" stroke-width="5.7" points="507.0,220.5 510.0,217.0 515.0,208.9 519.7,202.4 524.3,197.2 529.0,193.0 533.6,189.9 538.3,187.5 543.0,187.0 547.8,186.7 552.4,186.0 557.1,185.6 561.8,185.6 566.5,185.8 571.2,186.2 575.5,186.6 580.0,187.0 584.7,188.3 589.4,189.7 594.4,191.0 599.1,192.8 603.8,195.0 608.5,197.5 613.3,200.0 617.8,202.7 622.5,205.9 627.2,209.0 631.7,212.4 636.2,215.8 640.9,218.9 645.5,222.1 650.2,224.8 654.9,227.5 658.0,228.3"/><polyline fill="none" stroke="#c2c2c2" stroke-width="4.2" points="507.0,220.5 510.0,217.0 515.0,208.9 519.7,202.4 524.3,197.2 529.0,193.0 533.6,189.9 538.3,187.5 543.0,187.0 547.8,186.7 552.4,186.0 557.1,185.6 561.8,185.6 566.5,185.8 571.2,186.2 575.5,186.6 580.0,187.0 584.7,188.3 589.4,189.7 594.4,191.0 599.1,192.8 603.8,195.0 608.5,197.5 613.3,200.0 617.8,202.7 622.5,205.9 627.2,209.0 631.7,212.4 636.2,215.8 640.9,218.9 645.5,222.1 650.2,224.8 654.9,227.5 658.0,228.3"/></g><g fill="#edb120"><circle cx="510.0" cy="217.0" r="2.25"/><circle cx="515.0" cy="208.9" r="2.25"/><circle cx="519.7" cy="202.4" r="2.25"/><circle cx="524.3" cy="197.2" r="2.25"/><circle cx="529.0" cy="193.0" r="2.25"/><circle cx="533.6" cy="189.9" r="2.25"/><circle cx="538.3" cy="187.5" r="2.25"/><circle cx="543.0" cy="187.0" r="2.25"/><circle cx="547.8" cy="186.7" r="2.25"/><circle cx="552.4" cy="186.0" r="2.25"/><circle cx="557.1" cy="185.6" r="2.25"/><circle cx="561.8" cy="185.6" r="2.25"/><circle cx="566.5" cy="185.8" r="2.25"/><circle cx="571.2" cy="186.2" r="2.25"/><circle cx="575.5" cy="186.6" r="2.25"/><circle cx="580.0" cy="187.0" r="2.25"/><circle cx="584.7" cy="188.3" r="2.25"/><circle cx="589.4" cy="189.7" r="2.25"/><circle cx="594.4" cy="191.0" r="2.25"/><circle cx="599.1" cy="192.8" r="2.25"/><circle cx="603.8" cy="195.0" r="2.25"/><circle cx="608.5" cy="197.5" r="2.25"/><circle cx="613.3" cy="200.0" r="2.25"/><circle cx="617.8" cy="202.7" r="2.25"/><circle cx="622.5" cy="205.9" r="2.25"/><circle cx="627.2" cy="209.0" r="2.25"/><circle cx="631.7" cy="212.4" r="2.25"/><circle cx="636.2" cy="215.8" r="2.25"/><circle cx="640.9" cy="218.9" r="2.25"/><circle cx="645.5" cy="222.1" r="2.25"/><circle cx="650.2" cy="224.8" r="2.25"/><circle cx="654.9" cy="227.5" r="2.25"/></g><rect x="507.8" y="160.6" width="22" height="22" fill="none"/><rect x="508.2" y="161.0" width="23" height="23" fill="#fff"/><rect x="507.8" y="160.6" width="149.00" height="110.00" fill="none" stroke="#3a3a3a" stroke-width="0.85"/><path d="M507.8 160.60h1.4M656.8 160.60h-1.4" stroke="#3a3a3a" stroke-width="0.85"/><text transform="translate(504.80 163.60) scale(1.0 1.08)" font-size="8.0" text-anchor="end" >1</text><path d="M507.8 197.27h1.4M656.8 197.27h-1.4" stroke="#3a3a3a" stroke-width="0.85"/><text transform="translate(504.80 200.27) scale(1.0 1.08)" font-size="8.0" text-anchor="end" >0.5</text><path d="M507.8 233.93h1.4M656.8 233.93h-1.4" stroke="#3a3a3a" stroke-width="0.85"/><text transform="translate(504.80 236.93) scale(1.0 1.08)" font-size="8.0" text-anchor="end" >0</text><path d="M507.8 270.60h1.4M656.8 270.60h-1.4" stroke="#3a3a3a" stroke-width="0.85"/><text transform="translate(504.80 273.60) scale(1.0 1.08)" font-size="8.0" text-anchor="end" >-0.5</text><path d="M538.70 270.6v-1.4M538.70 160.6v1.4" stroke="#3a3a3a" stroke-width="0.85"/><text transform="translate(536.50 284.30) scale(1 1.1)" font-size="8.1" text-anchor="middle">10</text><text transform="translate(542.80 280.20) scale(1 1.1)" font-size="6.3" text-anchor="middle">3</text><path d="M584.80 270.6v-1.4M584.80 160.6v1.4" stroke="#3a3a3a" stroke-width="0.85"/><text transform="translate(587.75 284.30) scale(1 1.1)" font-size="8.1" text-anchor="middle">10</text><text transform="translate(594.05 280.20) scale(1 1.1)" font-size="6.3" text-anchor="middle">3</text><path d="M578.60 279.95L582.10 283.45M578.60 283.45L582.10 279.95" stroke="#262626" stroke-width="0.6"/><text transform="translate(574.30 284.30) scale(1 1.1)" font-size="8.1" text-anchor="middle">2</text><path d="M631.20 270.6v-1.4M631.20 160.6v1.4" stroke="#3a3a3a" stroke-width="0.85"/><text transform="translate(634.15 284.30) scale(1 1.1)" font-size="8.1" text-anchor="middle">10</text><text transform="translate(640.45 280.20) scale(1 1.1)" font-size="6.3" text-anchor="middle">3</text><path d="M625.00 279.95L628.50 283.45M625.00 283.45L628.50 279.95" stroke="#262626" stroke-width="0.6"/><text transform="translate(620.70 284.30) scale(1 1.1)" font-size="8.1" text-anchor="middle">3</text><text transform="translate(509.20 179.20) scale(0.93 1.0)" font-size="20" text-anchor="start" fill="#000" stroke="#000" stroke-width="0.3">(h)</text><text transform="translate(486.60,215.60) rotate(-90)" font-size="9" text-anchor="middle">S(t)</text><text x="582.40" y="295.80" font-size="9" text-anchor="middle" >t</text><text transform="translate(674.6,207.4) rotate(-90) scale(0.89 1)" font-size="10.2" text-anchor="middle">Zebrafish mutant</text></svg></body></html>
